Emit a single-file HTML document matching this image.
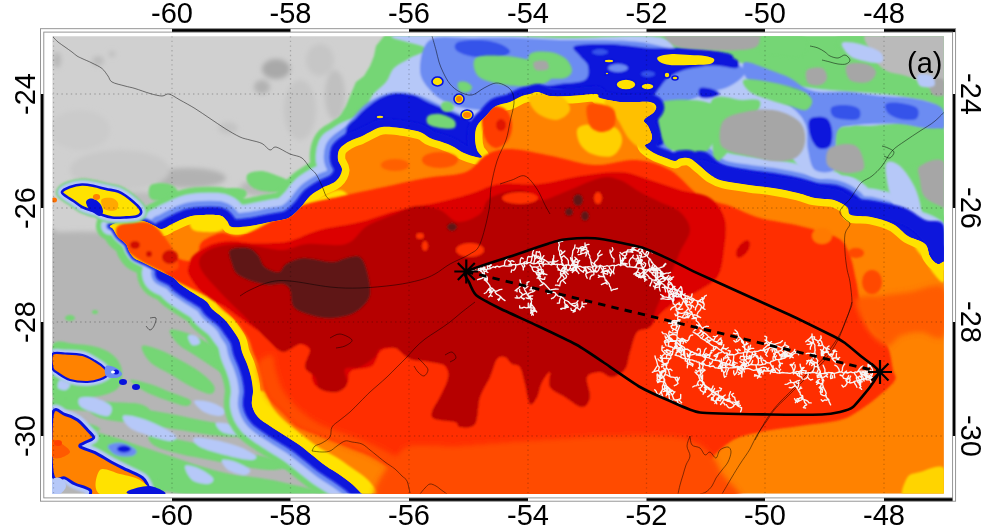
<!DOCTYPE html>
<html><head><meta charset="utf-8"><title>Map</title>
<style>
html,body{margin:0;padding:0;background:#fff;}
body{width:1000px;height:532px;overflow:hidden;}
svg{display:block;}
text{font-family:"Liberation Sans",Arial,Helvetica,sans-serif;font-size:29px;fill:#000;}
</style></head>
<body>
<svg width="1000" height="532" viewBox="0 0 1000 532">
<defs>
<clipPath id="mapclip"><rect x="52.5" y="36.3" width="891.3" height="457.2"/></clipPath>
<filter id="soft" filterUnits="userSpaceOnUse" x="0" y="0" width="1000" height="532"><feGaussianBlur stdDeviation="1.1"/></filter>
<filter id="soft2" filterUnits="userSpaceOnUse" x="0" y="0" width="1000" height="532"><feGaussianBlur stdDeviation="2.5"/></filter>
</defs>
<rect width="1000" height="532" fill="#fff"/>
<g clip-path="url(#mapclip)">
<rect x="40" y="30" width="920" height="470" fill="#d0d0d0"/>
<path d="M20.0,236.0 C26.7,188.0 46.7,232.7 60.0,232.0 C73.3,231.3 85.0,231.3 100.0,232.0 C115.0,232.7 133.3,233.0 150.0,236.0 C166.7,239.0 181.7,239.3 200.0,250.0 C218.3,260.7 243.3,271.7 260.0,300.0 C276.7,328.3 288.3,383.3 300.0,420.0 C311.7,456.7 376.7,503.3 330.0,520.0 C283.3,536.7 71.7,567.3 20.0,520.0 C-31.7,472.7 13.3,284.0 20.0,236.0 Z" fill="#b5b5b5" filter="url(#soft2)"/>
<g filter="url(#soft2)">
<ellipse cx="276" cy="69" rx="14" ry="10" fill="#a9a9a9" />
<ellipse cx="262" cy="87" rx="8" ry="7" fill="#b2b2b2" />
<ellipse cx="98" cy="61" rx="6" ry="5" fill="#bcbcbc" />
<ellipse cx="112" cy="54" rx="3" ry="3" fill="#bcbcbc" />
<ellipse cx="188" cy="178" rx="38" ry="10" fill="#b2b2b2" />
<ellipse cx="228" cy="128" rx="10" ry="6" fill="#c4c4c4" />
<ellipse cx="300" cy="110" rx="16" ry="30" fill="#c6c6c6" />
<ellipse cx="320" cy="60" rx="14" ry="16" fill="#c6c6c6" />
<ellipse cx="140" cy="200" rx="20" ry="8" fill="#bcbcbc" />
<ellipse cx="260" cy="188" rx="20" ry="8" fill="#b8b8b8" />
<ellipse cx="80" cy="130" rx="30" ry="20" fill="#cbcbcb" />
<ellipse cx="120" cy="170" rx="50" ry="20" fill="#c8c8c8" />
<ellipse cx="57" cy="60" rx="4" ry="8" fill="#b8b8b8" />
<ellipse cx="335" cy="95" rx="10" ry="25" fill="#c0c0c0" />
</g>
<g filter="url(#soft)">
<path d="M52.0,346.0 C55.8,337.3 67.0,343.7 75.0,344.0 C83.0,344.3 93.2,345.7 100.0,348.0 C106.8,350.3 112.3,354.0 116.0,358.0 C119.7,362.0 121.7,367.0 122.0,372.0 C122.3,377.0 121.7,384.0 118.0,388.0 C114.3,392.0 108.0,394.3 100.0,396.0 C92.0,397.7 78.0,398.0 70.0,398.0 C62.0,398.0 55.0,404.7 52.0,396.0 C49.0,387.3 48.2,354.7 52.0,346.0 Z" fill="#74d674" />
<path d="M52.0,400.0 C56.7,398.0 70.3,397.7 80.0,398.0 C89.7,398.3 100.0,401.0 110.0,402.0 C120.0,403.0 133.3,402.3 140.0,404.0 C146.7,405.7 151.7,410.3 150.0,412.0 C148.3,413.7 138.3,414.0 130.0,414.0 C121.7,414.0 110.0,412.7 100.0,412.0 C90.0,411.3 78.0,410.3 70.0,410.0 C62.0,409.7 55.0,411.7 52.0,410.0 C49.0,408.3 47.3,402.0 52.0,400.0 Z" fill="#74d674" />
<path d="M86.0,404.0 C89.3,402.0 107.7,404.7 120.0,406.0 C132.3,407.3 146.7,409.7 160.0,412.0 C173.3,414.3 186.7,417.3 200.0,420.0 C213.3,422.7 231.7,425.3 240.0,428.0 C248.3,430.7 253.3,434.7 250.0,436.0 C246.7,437.3 231.7,437.0 220.0,436.0 C208.3,435.0 193.3,432.0 180.0,430.0 C166.7,428.0 153.3,426.0 140.0,424.0 C126.7,422.0 109.0,421.3 100.0,418.0 C91.0,414.7 82.7,406.0 86.0,404.0 Z" fill="#74d674" />
<path d="M142.0,346.0 C143.7,344.0 153.7,347.7 160.0,350.0 C166.3,352.3 173.3,356.3 180.0,360.0 C186.7,363.7 194.3,367.7 200.0,372.0 C205.7,376.3 212.3,382.3 214.0,386.0 C215.7,389.7 214.0,394.0 210.0,394.0 C206.0,394.0 196.7,389.3 190.0,386.0 C183.3,382.7 176.7,378.0 170.0,374.0 C163.3,370.0 154.7,366.7 150.0,362.0 C145.3,357.3 140.3,348.0 142.0,346.0 Z" fill="#74d674" />
<path d="M170.0,330.0 C172.0,328.3 183.3,331.7 190.0,334.0 C196.7,336.3 203.7,340.3 210.0,344.0 C216.3,347.7 223.0,351.3 228.0,356.0 C233.0,360.7 239.3,368.3 240.0,372.0 C240.7,375.7 236.3,378.7 232.0,378.0 C227.7,377.3 220.0,371.7 214.0,368.0 C208.0,364.3 202.0,360.0 196.0,356.0 C190.0,352.0 182.3,348.3 178.0,344.0 C173.7,339.7 168.0,331.7 170.0,330.0 Z" fill="#74d674" />
<path d="M130.0,380.0 C130.7,378.7 143.3,382.0 150.0,384.0 C156.7,386.0 163.3,389.3 170.0,392.0 C176.7,394.7 187.3,397.7 190.0,400.0 C192.7,402.3 190.0,406.0 186.0,406.0 C182.0,406.0 172.7,402.3 166.0,400.0 C159.3,397.7 152.0,395.3 146.0,392.0 C140.0,388.7 129.3,381.3 130.0,380.0 Z" fill="#74d674" />
<path d="M80.0,430.0 C83.3,426.3 100.0,433.3 110.0,436.0 C120.0,438.7 130.0,442.7 140.0,446.0 C150.0,449.3 160.0,452.7 170.0,456.0 C180.0,459.3 190.0,463.0 200.0,466.0 C210.0,469.0 220.0,472.0 230.0,474.0 C240.0,476.0 250.0,476.3 260.0,478.0 C270.0,479.7 280.0,481.3 290.0,484.0 C300.0,486.7 328.3,491.3 320.0,494.0 C311.7,496.7 263.3,500.0 240.0,500.0 C216.7,500.0 196.7,497.0 180.0,494.0 C163.3,491.0 151.7,486.0 140.0,482.0 C128.3,478.0 118.3,474.0 110.0,470.0 C101.7,466.0 95.0,464.7 90.0,458.0 C85.0,451.3 76.7,433.7 80.0,430.0 Z" fill="#74d674" />
<path d="M150.0,436.0 C154.2,435.0 170.0,438.3 180.0,440.0 C190.0,441.7 200.0,444.0 210.0,446.0 C220.0,448.0 230.0,450.0 240.0,452.0 C250.0,454.0 261.7,455.7 270.0,458.0 C278.3,460.3 290.0,464.0 290.0,466.0 C290.0,468.0 278.3,470.0 270.0,470.0 C261.7,470.0 250.0,467.7 240.0,466.0 C230.0,464.3 220.0,462.0 210.0,460.0 C200.0,458.0 189.2,456.3 180.0,454.0 C170.8,451.7 160.0,449.0 155.0,446.0 C150.0,443.0 145.8,437.0 150.0,436.0 Z" fill="#74d674" />
<path d="M60.0,420.0 C64.7,419.3 83.3,422.3 90.0,424.0 C96.7,425.7 101.7,428.7 100.0,430.0 C98.3,431.3 86.3,432.3 80.0,432.0 C73.7,431.7 65.3,430.0 62.0,428.0 C58.7,426.0 55.3,420.7 60.0,420.0 Z" fill="#74d674" />
<path d="M120.0,470.0 C124.2,468.3 141.7,473.0 150.0,476.0 C158.3,479.0 170.0,485.0 170.0,488.0 C170.0,491.0 157.5,494.3 150.0,494.0 C142.5,493.7 130.0,490.0 125.0,486.0 C120.0,482.0 115.8,471.7 120.0,470.0 Z" fill="#74d674" />
<path d="M80.0,398.0 C82.5,396.7 89.8,396.7 95.0,398.0 C100.2,399.3 108.8,403.0 111.0,406.0 C113.2,409.0 111.2,415.0 108.0,416.0 C104.8,417.0 96.7,413.7 92.0,412.0 C87.3,410.3 82.0,408.3 80.0,406.0 C78.0,403.7 77.5,399.3 80.0,398.0 Z" fill="#b6c8f8" />
<path d="M123.0,416.0 C124.7,414.3 133.8,416.3 140.0,418.0 C146.2,419.7 154.0,423.0 160.0,426.0 C166.0,429.0 174.3,433.5 176.0,436.0 C177.7,438.5 174.3,441.0 170.0,441.0 C165.7,441.0 156.7,438.2 150.0,436.0 C143.3,433.8 134.5,431.3 130.0,428.0 C125.5,424.7 121.3,417.7 123.0,416.0 Z" fill="#b6c8f8" />
<path d="M194.0,401.0 C195.0,399.3 204.8,400.5 210.0,402.0 C215.2,403.5 223.3,407.7 225.0,410.0 C226.7,412.3 223.5,415.7 220.0,416.0 C216.5,416.3 208.3,414.5 204.0,412.0 C199.7,409.5 193.0,402.7 194.0,401.0 Z" fill="#b6c8f8" />
<path d="M216.0,423.0 C217.3,421.7 225.3,422.8 230.0,424.0 C234.7,425.2 242.7,428.2 244.0,430.0 C245.3,431.8 241.7,434.7 238.0,435.0 C234.3,435.3 225.7,434.0 222.0,432.0 C218.3,430.0 214.7,424.3 216.0,423.0 Z" fill="#b6c8f8" />
<path d="M194.0,438.0 C196.5,436.8 207.3,438.5 215.0,440.0 C222.7,441.5 233.2,444.3 240.0,447.0 C246.8,449.7 254.3,453.8 256.0,456.0 C257.7,458.2 255.2,460.2 250.0,460.0 C244.8,459.8 233.3,457.2 225.0,455.0 C216.7,452.8 205.2,449.8 200.0,447.0 C194.8,444.2 191.5,439.2 194.0,438.0 Z" fill="#b6c8f8" />
<path d="M222.0,460.0 C223.3,458.7 231.3,460.3 236.0,462.0 C240.7,463.7 248.7,467.8 250.0,470.0 C251.3,472.2 247.7,475.0 244.0,475.0 C240.3,475.0 231.7,472.5 228.0,470.0 C224.3,467.5 220.7,461.3 222.0,460.0 Z" fill="#b6c8f8" />
<path d="M185.0,466.0 C186.0,464.0 193.3,466.0 198.0,468.0 C202.7,470.0 211.3,475.3 213.0,478.0 C214.7,480.7 211.5,483.7 208.0,484.0 C204.5,484.3 195.8,483.0 192.0,480.0 C188.2,477.0 184.0,468.0 185.0,466.0 Z" fill="#b6c8f8" />
<path d="M188.0,336.0 C188.7,334.5 194.0,334.8 196.0,336.0 C198.0,337.2 200.7,341.5 200.0,343.0 C199.3,344.5 194.0,346.2 192.0,345.0 C190.0,343.8 187.3,337.5 188.0,336.0 Z" fill="#b6c8f8" />
<path d="M60.0,380.0 C62.0,379.3 69.0,382.3 70.0,384.0 C71.0,385.7 68.0,389.3 66.0,390.0 C64.0,390.7 59.0,389.7 58.0,388.0 C57.0,386.3 58.0,380.7 60.0,380.0 Z" fill="#b6c8f8" />
<path d="M108.0,446.0 C109.0,444.0 117.3,442.3 122.0,443.0 C126.7,443.7 134.3,447.8 136.0,450.0 C137.7,452.2 135.3,455.2 132.0,456.0 C128.7,456.8 120.0,456.7 116.0,455.0 C112.0,453.3 107.0,448.0 108.0,446.0 Z" fill="#6c8cf2" />
<ellipse cx="124" cy="449" rx="7" ry="3.5" fill="#0812dc" />
<ellipse cx="70" cy="318" rx="5" ry="3" fill="#74d674" />
<ellipse cx="95" cy="312" rx="3" ry="2" fill="#74d674" />
</g>
<path d="M384.0,20.0 L384.0,36.0 L376.0,46.0 L374.0,56.0 L370.0,66.0 L364.0,76.0 L356.0,82.0 L350.0,96.0 L346.0,106.0 L340.0,116.0 L334.0,126.0 L330.0,140.0 L322.0,158.0 L314.0,174.0 L305.0,186.0 L292.0,192.0 L280.0,196.0 L260.0,200.0 L240.0,204.0 L220.0,206.0 L200.0,206.0 L180.0,208.0 L160.0,210.0 L140.0,212.0 L120.0,214.0 L104.0,222.0 L114.0,230.0 L160.0,250.0 L300.0,260.0 L960.0,300.0 L960.0,240.0 L960.0,20.0 Z" fill="#74d674" filter="url(#soft)"/>
<g filter="url(#soft)">
<path d="M150.0,186.0 C151.7,183.5 156.3,183.2 160.0,183.0 C163.7,182.8 169.0,183.5 172.0,185.0 C175.0,186.5 177.3,189.5 178.0,192.0 C178.7,194.5 178.7,198.5 176.0,200.0 C173.3,201.5 166.3,201.3 162.0,201.0 C157.7,200.7 152.0,200.5 150.0,198.0 C148.0,195.5 148.3,188.5 150.0,186.0 Z" fill="#74d674" />
<path d="M184.0,194.0 C185.7,192.3 191.7,191.0 196.0,191.0 C200.3,191.0 207.3,192.3 210.0,194.0 C212.7,195.7 214.0,199.5 212.0,201.0 C210.0,202.5 202.3,203.0 198.0,203.0 C193.7,203.0 188.3,202.5 186.0,201.0 C183.7,199.5 182.3,195.7 184.0,194.0 Z" fill="#74d674" />
<path d="M248.0,174.0 C250.3,172.0 257.0,170.7 262.0,171.0 C267.0,171.3 273.3,174.2 278.0,176.0 C282.7,177.8 287.7,179.7 290.0,182.0 C292.3,184.3 294.5,188.3 292.0,190.0 C289.5,191.7 280.7,192.0 275.0,192.0 C269.3,192.0 262.5,191.5 258.0,190.0 C253.5,188.5 249.7,185.7 248.0,183.0 C246.3,180.3 245.7,176.0 248.0,174.0 Z" fill="#74d674" />
<path d="M226.0,190.0 C227.0,188.2 232.7,187.8 236.0,188.0 C239.3,188.2 244.7,189.3 246.0,191.0 C247.3,192.7 246.7,196.7 244.0,198.0 C241.3,199.3 233.0,200.3 230.0,199.0 C227.0,197.7 225.0,191.8 226.0,190.0 Z" fill="#74d674" />
</g>
<g filter="url(#soft)">
<path d="M110.0,226.0 C111.2,224.8 116.3,222.5 120.0,221.5 C123.7,220.5 127.8,220.0 132.0,220.0 C136.2,220.0 141.2,220.5 145.0,221.5 C148.8,222.5 152.2,224.8 155.0,226.0 C157.8,227.2 159.2,229.3 162.0,229.0" fill="none" stroke="#74d674" stroke-width="28" stroke-linejoin="round" stroke-linecap="round"/>
<path d="M162.0,229.0 C164.8,228.7 167.7,226.0 172.0,224.0 C176.3,222.0 183.0,218.5 188.0,217.0 C193.0,215.5 196.7,215.2 202.0,215.0 C207.3,214.8 215.8,214.5 220.0,215.5 C224.2,216.5 225.0,219.1 227.0,221.0 C229.0,222.9 228.2,226.2 232.0,227.0 C235.8,227.8 243.7,226.8 250.0,226.0 C256.3,225.2 264.0,223.2 270.0,222.0 C276.0,220.8 282.0,220.3 286.0,219.0 C290.0,217.7 291.3,216.2 294.0,214.0 C296.7,211.8 299.3,209.0 302.0,206.0 C304.7,203.0 306.7,199.0 310.0,196.0 C313.3,193.0 317.7,190.5 322.0,188.0 C326.3,185.5 332.7,184.0 336.0,181.0 C339.3,178.0 341.7,173.5 342.0,170.0 C342.3,166.5 338.5,163.3 338.0,160.0 C337.5,156.7 337.8,152.7 339.0,150.0" fill="none" stroke="#74d674" stroke-width="56" stroke-linejoin="round" stroke-linecap="round"/>
<path d="M339.0,150.0 C340.2,147.3 342.8,145.7 345.0,144.0 C347.2,142.3 349.5,141.2 352.0,140.0 C354.5,138.8 357.0,138.3 360.0,137.0 C363.0,135.7 366.3,133.7 370.0,132.0 C373.7,130.3 377.0,127.7 382.0,127.0 C387.0,126.3 393.7,127.2 400.0,128.0 C406.3,128.8 415.0,130.3 420.0,132.0 C425.0,133.7 426.3,136.3 430.0,138.0 C433.7,139.7 438.3,140.7 442.0,142.0 C445.7,143.3 448.3,144.2 452.0,146.0 C455.7,147.8 460.0,151.2 464.0,153.0 C468.0,154.8 473.0,156.3 476.0,157.0 C479.0,157.7 481.8,158.2 482.0,157.0 C482.2,155.8 478.2,153.2 477.0,150.0 C475.8,146.8 475.0,142.0 475.0,138.0 C475.0,134.0 475.2,129.7 477.0,126.0 C478.8,122.3 482.8,119.3 486.0,116.0 C489.2,112.7 492.0,108.3 496.0,106.0 C500.0,103.7 505.7,103.7 510.0,102.0 C514.3,100.3 518.7,97.3 522.0,96.0 C525.3,94.7 527.3,94.7 530.0,94.0 C532.7,93.3 534.7,91.7 538.0,92.0 C541.3,92.3 544.7,95.3 550.0,96.0 C555.3,96.7 562.3,96.3 570.0,96.0 C577.7,95.7 591.0,93.7 596.0,94.0 C601.0,94.3 596.0,96.7 600.0,98.0 C604.0,99.3 614.3,101.3 620.0,102.0 C625.7,102.7 629.0,102.0 634.0,102.0 C639.0,102.0 646.3,101.3 650.0,102.0 C653.7,102.7 655.3,104.3 656.0,106.0 C656.7,107.7 656.0,109.7 654.0,112.0 C652.0,114.3 645.0,117.7 644.0,120.0 C643.0,122.3 646.7,123.3 648.0,126.0 C649.3,128.7 651.7,133.3 652.0,136.0 C652.3,138.7 651.2,140.3 650.0,142.0 C648.8,143.7 644.2,144.1 645.0,146.0 C645.8,147.9 651.2,151.4 655.0,153.5 C658.8,155.6 664.2,157.2 667.5,158.5 C670.8,159.8 672.9,161.0 675.0,161.0 C677.1,161.0 677.5,158.9 680.0,158.5 C682.5,158.1 686.7,157.2 690.0,158.5 C693.3,159.8 696.3,163.1 700.0,166.0" fill="none" stroke="#74d674" stroke-width="52" stroke-linejoin="round" stroke-linecap="round"/>
<path d="M700.0,166.0 C703.7,168.9 708.0,173.5 712.0,176.0 C716.0,178.5 717.8,179.5 724.0,181.0 C730.2,182.5 740.8,183.8 749.0,185.0 C757.2,186.2 764.8,186.7 773.0,188.0 C781.2,189.3 791.0,191.3 798.0,193.0 C805.0,194.7 809.0,196.8 815.0,198.0 C821.0,199.2 828.7,198.5 834.0,200.0 C839.3,201.5 844.2,204.5 847.0,207.0 C849.8,209.5 847.0,213.3 851.0,215.0 C855.0,216.7 864.0,215.5 871.0,217.0 C878.0,218.5 886.8,220.8 893.0,224.0 C899.2,227.2 902.7,232.7 908.0,236.0 C913.3,239.3 921.3,240.6 925.0,244.0 C928.7,247.4 927.9,253.2 930.0,256.5 C932.1,259.8 934.2,262.9 937.5,264.0 C940.8,265.1 946.2,257.0 950.0,263.0" fill="none" stroke="#74d674" stroke-width="68" stroke-linejoin="round" stroke-linecap="round"/>
<path d="M372.0,505.0 C369.0,500.7 365.3,497.5 362.0,494.0 C358.7,490.5 355.7,487.2 352.0,484.0 C348.3,480.8 344.3,478.0 340.0,475.0 C335.7,472.0 330.7,469.3 326.0,466.0 C321.3,462.7 316.7,458.7 312.0,455.0 C307.3,451.3 302.7,447.3 298.0,444.0 C293.3,440.7 288.7,438.0 284.0,435.0 C279.3,432.0 274.3,429.0 270.0,426.0 C265.7,423.0 261.0,420.5 258.0,417.0 C255.0,413.5 252.8,409.3 252.0,405.0 C251.2,400.7 253.2,395.7 253.0,391.0 C252.8,386.3 252.0,381.5 251.0,377.0 C250.0,372.5 248.5,368.2 247.0,364.0 C245.5,359.8 243.3,356.0 242.0,352.0 C240.7,348.0 240.7,343.8 239.0,340.0 C237.3,336.2 234.5,332.5 232.0,329.0" fill="none" stroke="#74d674" stroke-width="56" stroke-linejoin="round" stroke-linecap="round"/>
<path d="M232.0,329.0 C229.5,325.5 227.3,322.3 224.0,319.0 C220.7,315.7 214.8,311.8 212.0,309.0 C209.2,306.2 209.3,304.2 207.0,302.0 C204.7,299.8 200.8,297.8 198.0,296.0 C195.2,294.2 193.0,293.0 190.0,291.0 C187.0,289.0 182.7,286.2 180.0,284.0 C177.3,281.8 176.7,279.8 174.0,278.0 C171.3,276.2 167.3,274.7 164.0,273.0" fill="none" stroke="#74d674" stroke-width="54" stroke-linejoin="round" stroke-linecap="round"/>
<path d="M164.0,273.0 C160.7,271.3 157.3,269.7 154.0,268.0 C150.7,266.3 147.3,264.7 144.0,263.0 C140.7,261.3 136.5,260.0 134.0,258.0 C131.5,256.0 130.3,253.3 129.0,251.0 C127.7,248.7 127.8,246.3 126.0,244.0 C124.2,241.7 120.2,239.5 118.0,237.0 C115.8,234.5 114.3,230.8 113.0,229.0 C111.7,227.2 108.8,227.2 110.0,226.0" fill="none" stroke="#74d674" stroke-width="24" stroke-linejoin="round" stroke-linecap="round"/>
<path d="M110.0,226.0 C111.2,224.8 116.3,222.5 120.0,221.5 C123.7,220.5 127.8,220.0 132.0,220.0 C136.2,220.0 141.2,220.5 145.0,221.5 C148.8,222.5 152.2,224.8 155.0,226.0 C157.8,227.2 159.2,229.3 162.0,229.0" fill="none" stroke="#b6c8f8" stroke-width="18" stroke-linejoin="round" stroke-linecap="round"/>
<path d="M162.0,229.0 C164.8,228.7 167.7,226.0 172.0,224.0 C176.3,222.0 183.0,218.5 188.0,217.0 C193.0,215.5 196.7,215.2 202.0,215.0 C207.3,214.8 215.8,214.5 220.0,215.5 C224.2,216.5 225.0,219.1 227.0,221.0 C229.0,222.9 228.2,226.2 232.0,227.0 C235.8,227.8 243.7,226.8 250.0,226.0 C256.3,225.2 264.0,223.2 270.0,222.0 C276.0,220.8 282.0,220.3 286.0,219.0 C290.0,217.7 291.3,216.2 294.0,214.0 C296.7,211.8 299.3,209.0 302.0,206.0 C304.7,203.0 306.7,199.0 310.0,196.0 C313.3,193.0 317.7,190.5 322.0,188.0 C326.3,185.5 332.7,184.0 336.0,181.0 C339.3,178.0 341.7,173.5 342.0,170.0 C342.3,166.5 338.5,163.3 338.0,160.0 C337.5,156.7 337.8,152.7 339.0,150.0" fill="none" stroke="#b6c8f8" stroke-width="44" stroke-linejoin="round" stroke-linecap="round"/>
<path d="M339.0,150.0 C340.2,147.3 342.8,145.7 345.0,144.0 C347.2,142.3 349.5,141.2 352.0,140.0 C354.5,138.8 357.0,138.3 360.0,137.0 C363.0,135.7 366.3,133.7 370.0,132.0 C373.7,130.3 377.0,127.7 382.0,127.0 C387.0,126.3 393.7,127.2 400.0,128.0 C406.3,128.8 415.0,130.3 420.0,132.0 C425.0,133.7 426.3,136.3 430.0,138.0 C433.7,139.7 438.3,140.7 442.0,142.0 C445.7,143.3 448.3,144.2 452.0,146.0 C455.7,147.8 460.0,151.2 464.0,153.0 C468.0,154.8 473.0,156.3 476.0,157.0 C479.0,157.7 481.8,158.2 482.0,157.0 C482.2,155.8 478.2,153.2 477.0,150.0 C475.8,146.8 475.0,142.0 475.0,138.0 C475.0,134.0 475.2,129.7 477.0,126.0 C478.8,122.3 482.8,119.3 486.0,116.0 C489.2,112.7 492.0,108.3 496.0,106.0 C500.0,103.7 505.7,103.7 510.0,102.0 C514.3,100.3 518.7,97.3 522.0,96.0 C525.3,94.7 527.3,94.7 530.0,94.0 C532.7,93.3 534.7,91.7 538.0,92.0 C541.3,92.3 544.7,95.3 550.0,96.0 C555.3,96.7 562.3,96.3 570.0,96.0 C577.7,95.7 591.0,93.7 596.0,94.0 C601.0,94.3 596.0,96.7 600.0,98.0 C604.0,99.3 614.3,101.3 620.0,102.0 C625.7,102.7 629.0,102.0 634.0,102.0 C639.0,102.0 646.3,101.3 650.0,102.0 C653.7,102.7 655.3,104.3 656.0,106.0 C656.7,107.7 656.0,109.7 654.0,112.0 C652.0,114.3 645.0,117.7 644.0,120.0 C643.0,122.3 646.7,123.3 648.0,126.0 C649.3,128.7 651.7,133.3 652.0,136.0 C652.3,138.7 651.2,140.3 650.0,142.0 C648.8,143.7 644.2,144.1 645.0,146.0 C645.8,147.9 651.2,151.4 655.0,153.5 C658.8,155.6 664.2,157.2 667.5,158.5 C670.8,159.8 672.9,161.0 675.0,161.0 C677.1,161.0 677.5,158.9 680.0,158.5 C682.5,158.1 686.7,157.2 690.0,158.5 C693.3,159.8 696.3,163.1 700.0,166.0" fill="none" stroke="#b6c8f8" stroke-width="40" stroke-linejoin="round" stroke-linecap="round"/>
<path d="M700.0,166.0 C703.7,168.9 708.0,173.5 712.0,176.0 C716.0,178.5 717.8,179.5 724.0,181.0 C730.2,182.5 740.8,183.8 749.0,185.0 C757.2,186.2 764.8,186.7 773.0,188.0 C781.2,189.3 791.0,191.3 798.0,193.0 C805.0,194.7 809.0,196.8 815.0,198.0 C821.0,199.2 828.7,198.5 834.0,200.0 C839.3,201.5 844.2,204.5 847.0,207.0 C849.8,209.5 847.0,213.3 851.0,215.0 C855.0,216.7 864.0,215.5 871.0,217.0 C878.0,218.5 886.8,220.8 893.0,224.0 C899.2,227.2 902.7,232.7 908.0,236.0 C913.3,239.3 921.3,240.6 925.0,244.0 C928.7,247.4 927.9,253.2 930.0,256.5 C932.1,259.8 934.2,262.9 937.5,264.0 C940.8,265.1 946.2,257.0 950.0,263.0" fill="none" stroke="#b6c8f8" stroke-width="56" stroke-linejoin="round" stroke-linecap="round"/>
<path d="M372.0,505.0 C369.0,500.7 365.3,497.5 362.0,494.0 C358.7,490.5 355.7,487.2 352.0,484.0 C348.3,480.8 344.3,478.0 340.0,475.0 C335.7,472.0 330.7,469.3 326.0,466.0 C321.3,462.7 316.7,458.7 312.0,455.0 C307.3,451.3 302.7,447.3 298.0,444.0 C293.3,440.7 288.7,438.0 284.0,435.0 C279.3,432.0 274.3,429.0 270.0,426.0 C265.7,423.0 261.0,420.5 258.0,417.0 C255.0,413.5 252.8,409.3 252.0,405.0 C251.2,400.7 253.2,395.7 253.0,391.0 C252.8,386.3 252.0,381.5 251.0,377.0 C250.0,372.5 248.5,368.2 247.0,364.0 C245.5,359.8 243.3,356.0 242.0,352.0 C240.7,348.0 240.7,343.8 239.0,340.0 C237.3,336.2 234.5,332.5 232.0,329.0" fill="none" stroke="#b6c8f8" stroke-width="44" stroke-linejoin="round" stroke-linecap="round"/>
<path d="M232.0,329.0 C229.5,325.5 227.3,322.3 224.0,319.0 C220.7,315.7 214.8,311.8 212.0,309.0 C209.2,306.2 209.3,304.2 207.0,302.0 C204.7,299.8 200.8,297.8 198.0,296.0 C195.2,294.2 193.0,293.0 190.0,291.0 C187.0,289.0 182.7,286.2 180.0,284.0 C177.3,281.8 176.7,279.8 174.0,278.0 C171.3,276.2 167.3,274.7 164.0,273.0" fill="none" stroke="#b6c8f8" stroke-width="44" stroke-linejoin="round" stroke-linecap="round"/>
<path d="M164.0,273.0 C160.7,271.3 157.3,269.7 154.0,268.0 C150.7,266.3 147.3,264.7 144.0,263.0 C140.7,261.3 136.5,260.0 134.0,258.0 C131.5,256.0 130.3,253.3 129.0,251.0 C127.7,248.7 127.8,246.3 126.0,244.0 C124.2,241.7 120.2,239.5 118.0,237.0 C115.8,234.5 114.3,230.8 113.0,229.0 C111.7,227.2 108.8,227.2 110.0,226.0" fill="none" stroke="#b6c8f8" stroke-width="8" stroke-linejoin="round" stroke-linecap="round"/>
<path d="M110.0,226.0 C111.2,224.8 116.3,222.5 120.0,221.5 C123.7,220.5 127.8,220.0 132.0,220.0 C136.2,220.0 141.2,220.5 145.0,221.5 C148.8,222.5 152.2,224.8 155.0,226.0 C157.8,227.2 159.2,229.3 162.0,229.0" fill="none" stroke="#6c8cf2" stroke-width="8" stroke-linejoin="round" stroke-linecap="round"/>
<path d="M162.0,229.0 C164.8,228.7 167.7,226.0 172.0,224.0 C176.3,222.0 183.0,218.5 188.0,217.0 C193.0,215.5 196.7,215.2 202.0,215.0 C207.3,214.8 215.8,214.5 220.0,215.5 C224.2,216.5 225.0,219.1 227.0,221.0 C229.0,222.9 228.2,226.2 232.0,227.0 C235.8,227.8 243.7,226.8 250.0,226.0 C256.3,225.2 264.0,223.2 270.0,222.0 C276.0,220.8 282.0,220.3 286.0,219.0 C290.0,217.7 291.3,216.2 294.0,214.0 C296.7,211.8 299.3,209.0 302.0,206.0 C304.7,203.0 306.7,199.0 310.0,196.0 C313.3,193.0 317.7,190.5 322.0,188.0 C326.3,185.5 332.7,184.0 336.0,181.0 C339.3,178.0 341.7,173.5 342.0,170.0 C342.3,166.5 338.5,163.3 338.0,160.0 C337.5,156.7 337.8,152.7 339.0,150.0" fill="none" stroke="#6c8cf2" stroke-width="28" stroke-linejoin="round" stroke-linecap="round"/>
<path d="M339.0,150.0 C340.2,147.3 342.8,145.7 345.0,144.0 C347.2,142.3 349.5,141.2 352.0,140.0 C354.5,138.8 357.0,138.3 360.0,137.0 C363.0,135.7 366.3,133.7 370.0,132.0 C373.7,130.3 377.0,127.7 382.0,127.0 C387.0,126.3 393.7,127.2 400.0,128.0 C406.3,128.8 415.0,130.3 420.0,132.0 C425.0,133.7 426.3,136.3 430.0,138.0 C433.7,139.7 438.3,140.7 442.0,142.0 C445.7,143.3 448.3,144.2 452.0,146.0 C455.7,147.8 460.0,151.2 464.0,153.0 C468.0,154.8 473.0,156.3 476.0,157.0 C479.0,157.7 481.8,158.2 482.0,157.0 C482.2,155.8 478.2,153.2 477.0,150.0 C475.8,146.8 475.0,142.0 475.0,138.0 C475.0,134.0 475.2,129.7 477.0,126.0 C478.8,122.3 482.8,119.3 486.0,116.0 C489.2,112.7 492.0,108.3 496.0,106.0 C500.0,103.7 505.7,103.7 510.0,102.0 C514.3,100.3 518.7,97.3 522.0,96.0 C525.3,94.7 527.3,94.7 530.0,94.0 C532.7,93.3 534.7,91.7 538.0,92.0 C541.3,92.3 544.7,95.3 550.0,96.0 C555.3,96.7 562.3,96.3 570.0,96.0 C577.7,95.7 591.0,93.7 596.0,94.0 C601.0,94.3 596.0,96.7 600.0,98.0 C604.0,99.3 614.3,101.3 620.0,102.0 C625.7,102.7 629.0,102.0 634.0,102.0 C639.0,102.0 646.3,101.3 650.0,102.0 C653.7,102.7 655.3,104.3 656.0,106.0 C656.7,107.7 656.0,109.7 654.0,112.0 C652.0,114.3 645.0,117.7 644.0,120.0 C643.0,122.3 646.7,123.3 648.0,126.0 C649.3,128.7 651.7,133.3 652.0,136.0 C652.3,138.7 651.2,140.3 650.0,142.0 C648.8,143.7 644.2,144.1 645.0,146.0 C645.8,147.9 651.2,151.4 655.0,153.5 C658.8,155.6 664.2,157.2 667.5,158.5 C670.8,159.8 672.9,161.0 675.0,161.0 C677.1,161.0 677.5,158.9 680.0,158.5 C682.5,158.1 686.7,157.2 690.0,158.5 C693.3,159.8 696.3,163.1 700.0,166.0" fill="none" stroke="#6c8cf2" stroke-width="28" stroke-linejoin="round" stroke-linecap="round"/>
<path d="M700.0,166.0 C703.7,168.9 708.0,173.5 712.0,176.0 C716.0,178.5 717.8,179.5 724.0,181.0 C730.2,182.5 740.8,183.8 749.0,185.0 C757.2,186.2 764.8,186.7 773.0,188.0 C781.2,189.3 791.0,191.3 798.0,193.0 C805.0,194.7 809.0,196.8 815.0,198.0 C821.0,199.2 828.7,198.5 834.0,200.0 C839.3,201.5 844.2,204.5 847.0,207.0 C849.8,209.5 847.0,213.3 851.0,215.0 C855.0,216.7 864.0,215.5 871.0,217.0 C878.0,218.5 886.8,220.8 893.0,224.0 C899.2,227.2 902.7,232.7 908.0,236.0 C913.3,239.3 921.3,240.6 925.0,244.0 C928.7,247.4 927.9,253.2 930.0,256.5 C932.1,259.8 934.2,262.9 937.5,264.0 C940.8,265.1 946.2,257.0 950.0,263.0" fill="none" stroke="#6c8cf2" stroke-width="40" stroke-linejoin="round" stroke-linecap="round"/>
<path d="M372.0,505.0 C369.0,500.7 365.3,497.5 362.0,494.0 C358.7,490.5 355.7,487.2 352.0,484.0 C348.3,480.8 344.3,478.0 340.0,475.0 C335.7,472.0 330.7,469.3 326.0,466.0 C321.3,462.7 316.7,458.7 312.0,455.0 C307.3,451.3 302.7,447.3 298.0,444.0 C293.3,440.7 288.7,438.0 284.0,435.0 C279.3,432.0 274.3,429.0 270.0,426.0 C265.7,423.0 261.0,420.5 258.0,417.0 C255.0,413.5 252.8,409.3 252.0,405.0 C251.2,400.7 253.2,395.7 253.0,391.0 C252.8,386.3 252.0,381.5 251.0,377.0 C250.0,372.5 248.5,368.2 247.0,364.0 C245.5,359.8 243.3,356.0 242.0,352.0 C240.7,348.0 240.7,343.8 239.0,340.0 C237.3,336.2 234.5,332.5 232.0,329.0" fill="none" stroke="#6c8cf2" stroke-width="28" stroke-linejoin="round" stroke-linecap="round"/>
<path d="M232.0,329.0 C229.5,325.5 227.3,322.3 224.0,319.0 C220.7,315.7 214.8,311.8 212.0,309.0 C209.2,306.2 209.3,304.2 207.0,302.0 C204.7,299.8 200.8,297.8 198.0,296.0 C195.2,294.2 193.0,293.0 190.0,291.0 C187.0,289.0 182.7,286.2 180.0,284.0 C177.3,281.8 176.7,279.8 174.0,278.0 C171.3,276.2 167.3,274.7 164.0,273.0" fill="none" stroke="#6c8cf2" stroke-width="26" stroke-linejoin="round" stroke-linecap="round"/>
<path d="M164.0,273.0 C160.7,271.3 157.3,269.7 154.0,268.0 C150.7,266.3 147.3,264.7 144.0,263.0 C140.7,261.3 136.5,260.0 134.0,258.0 C131.5,256.0 130.3,253.3 129.0,251.0 C127.7,248.7 127.8,246.3 126.0,244.0 C124.2,241.7 120.2,239.5 118.0,237.0 C115.8,234.5 114.3,230.8 113.0,229.0 C111.7,227.2 108.8,227.2 110.0,226.0" fill="none" stroke="#6c8cf2" stroke-width="5.0" stroke-linejoin="round" stroke-linecap="round"/>
</g>
<g filter="url(#soft)">
<path d="M392.0,36.0 C399.3,33.7 442.0,33.7 470.0,34.0 C498.0,34.3 531.7,37.7 560.0,38.0 C588.3,38.3 622.0,35.7 640.0,36.0 C658.0,36.3 661.3,37.3 668.0,40.0 C674.7,42.7 671.3,49.0 680.0,52.0 C688.7,55.0 709.2,56.0 720.0,58.0 C730.8,60.0 738.3,62.0 745.0,64.0 C751.7,66.0 754.2,67.3 760.0,70.0 C765.8,72.7 773.3,77.3 780.0,80.0 C786.7,82.7 791.7,84.3 800.0,86.0 C808.3,87.7 820.0,89.0 830.0,90.0 C840.0,91.0 848.3,91.0 860.0,92.0 C871.7,93.0 887.5,94.0 900.0,96.0 C912.5,98.0 927.7,100.3 935.0,104.0 C942.3,107.7 944.8,114.0 944.0,118.0 C943.2,122.0 937.3,127.0 930.0,128.0 C922.7,129.0 910.0,124.3 900.0,124.0 C890.0,123.7 878.3,125.3 870.0,126.0 C861.7,126.7 855.0,124.0 850.0,128.0 C845.0,132.0 842.7,142.7 840.0,150.0 C837.3,157.3 837.7,167.3 834.0,172.0 C830.3,176.7 823.7,178.7 818.0,178.0 C812.3,177.3 806.3,174.3 800.0,168.0 C793.7,161.7 786.7,148.0 780.0,140.0 C773.3,132.0 766.7,125.0 760.0,120.0 C753.3,115.0 748.0,112.7 740.0,110.0 C732.0,107.3 718.7,104.0 712.0,104.0 C705.3,104.0 702.0,102.3 700.0,110.0 C698.0,117.7 701.7,141.7 700.0,150.0 C698.3,158.3 696.7,158.3 690.0,160.0 C683.3,161.7 675.0,163.3 660.0,160.0 C645.0,156.7 623.3,146.7 600.0,140.0 C576.7,133.3 545.0,120.8 520.0,120.0 C495.0,119.2 470.0,134.2 450.0,135.0 C430.0,135.8 413.3,129.2 400.0,125.0 C386.7,120.8 374.7,114.8 370.0,110.0 C365.3,105.2 369.3,100.7 372.0,96.0 C374.7,91.3 382.3,86.7 386.0,82.0 C389.7,77.3 390.0,72.0 394.0,68.0 C398.0,64.0 404.7,61.3 410.0,58.0 C415.3,54.7 429.0,51.7 426.0,48.0 C423.0,44.3 384.7,38.3 392.0,36.0 Z" fill="#b6c8f8" />
<path d="M430.0,40.0 C438.3,34.7 455.0,38.3 470.0,38.0 C485.0,37.7 505.0,37.7 520.0,38.0 C535.0,38.3 546.7,39.7 560.0,40.0 C573.3,40.3 586.7,39.7 600.0,40.0 C613.3,40.3 628.3,40.7 640.0,42.0 C651.7,43.3 658.3,46.0 670.0,48.0 C681.7,50.0 700.0,52.0 710.0,54.0 C720.0,56.0 724.2,57.0 730.0,60.0 C735.8,63.0 745.0,67.7 745.0,72.0 C745.0,76.3 737.5,82.0 730.0,86.0 C722.5,90.0 708.3,92.0 700.0,96.0 C691.7,100.0 684.7,101.0 680.0,110.0 C675.3,119.0 677.0,143.3 672.0,150.0 C667.0,156.7 662.0,153.7 650.0,150.0 C638.0,146.3 618.3,134.7 600.0,128.0 C581.7,121.3 560.0,113.0 540.0,110.0 C520.0,107.0 495.0,111.0 480.0,110.0 C465.0,109.0 458.3,107.3 450.0,104.0 C441.7,100.7 435.0,95.7 430.0,90.0 C425.0,84.3 420.0,78.3 420.0,70.0 C420.0,61.7 421.7,45.3 430.0,40.0 Z" fill="#6c8cf2" />
<path d="M336.0,138.0 C335.3,135.7 342.7,130.0 346.0,126.0 C349.3,122.0 352.7,117.7 356.0,114.0 C359.3,110.3 362.0,107.0 366.0,104.0 C370.0,101.0 375.0,98.0 380.0,96.0 C385.0,94.0 390.3,92.3 396.0,92.0 C401.7,91.7 408.3,92.7 414.0,94.0 C419.7,95.3 424.7,97.7 430.0,100.0 C435.3,102.3 441.0,105.7 446.0,108.0 C451.0,110.3 455.3,111.3 460.0,114.0 C464.7,116.7 471.3,119.7 474.0,124.0 C476.7,128.3 478.3,137.3 476.0,140.0 C473.7,142.7 467.7,141.0 460.0,140.0 C452.3,139.0 440.0,136.3 430.0,134.0 C420.0,131.7 410.0,126.7 400.0,126.0 C390.0,125.3 378.3,127.7 370.0,130.0 C361.7,132.3 355.7,138.7 350.0,140.0 C344.3,141.3 336.7,140.3 336.0,138.0 Z" fill="#6c8cf2" />
<path d="M575.0,46.0 C580.0,44.0 597.5,43.7 610.0,44.0 C622.5,44.3 636.7,47.3 650.0,48.0 C663.3,48.7 676.7,47.0 690.0,48.0 C703.3,49.0 723.7,51.7 730.0,54.0 C736.3,56.3 732.2,60.0 728.0,62.0 C723.8,64.0 712.3,64.7 705.0,66.0 C697.7,67.3 690.2,68.0 684.0,70.0 C677.8,72.0 672.3,74.7 668.0,78.0 C663.7,81.3 660.7,86.7 658.0,90.0 C655.3,93.3 655.0,96.3 652.0,98.0 C649.0,99.7 645.3,100.0 640.0,100.0 C634.7,100.0 626.7,98.8 620.0,98.0 C613.3,97.2 606.7,95.7 600.0,95.0 C593.3,94.3 586.7,94.8 580.0,94.0 C573.3,93.2 566.7,91.0 560.0,90.0 C553.3,89.0 540.0,89.0 540.0,88.0 C540.0,87.0 552.5,85.3 560.0,84.0 C567.5,82.7 580.3,83.0 585.0,80.0 C589.7,77.0 588.8,70.0 588.0,66.0 C587.2,62.0 582.2,59.3 580.0,56.0 C577.8,52.7 570.0,48.0 575.0,46.0 Z" fill="#0812dc" />
<path d="M642.0,98.0 C644.3,96.3 654.7,96.3 658.0,100.0 C661.3,103.7 660.7,113.3 662.0,120.0 C663.3,126.7 667.0,135.7 666.0,140.0 C665.0,144.3 659.0,148.3 656.0,146.0 C653.0,143.7 650.0,132.0 648.0,126.0 C646.0,120.0 645.0,114.7 644.0,110.0 C643.0,105.3 639.7,99.7 642.0,98.0 Z" fill="#0812dc" />
<ellipse cx="618" cy="68" rx="10" ry="4" fill="#6c8cf2" />
<ellipse cx="648" cy="74" rx="7" ry="3" fill="#3452ea" />
<ellipse cx="600" cy="52" rx="8" ry="3" fill="#3452ea" />
<path d="M458.0,42.0 C462.0,40.3 473.0,39.7 480.0,40.0 C487.0,40.3 495.0,42.0 500.0,44.0 C505.0,46.0 510.8,49.7 510.0,52.0 C509.2,54.3 501.7,57.3 495.0,58.0 C488.3,58.7 476.5,57.3 470.0,56.0 C463.5,54.7 458.0,52.3 456.0,50.0 C454.0,47.7 454.0,43.7 458.0,42.0 Z" fill="#3452ea" />
<path d="M346.0,130.0 C347.0,123.8 352.7,121.7 356.0,118.0 C359.3,114.3 362.0,111.3 366.0,108.0 C370.0,104.7 375.0,100.5 380.0,98.0 C385.0,95.5 390.3,93.5 396.0,93.0 C401.7,92.5 409.0,93.7 414.0,95.0 C419.0,96.3 421.3,98.8 426.0,101.0 C430.7,103.2 437.0,105.8 442.0,108.0 C447.0,110.2 451.3,112.0 456.0,114.0 C460.7,116.0 466.3,117.3 470.0,120.0 C473.7,122.7 476.7,125.0 478.0,130.0 C479.3,135.0 477.3,144.2 478.0,150.0 C478.7,155.8 488.3,163.3 482.0,165.0 C475.7,166.7 453.7,162.5 440.0,160.0 C426.3,157.5 411.7,151.7 400.0,150.0 C388.3,148.3 378.3,149.2 370.0,150.0 C361.7,150.8 354.0,158.3 350.0,155.0 C346.0,151.7 345.0,136.2 346.0,130.0 Z" fill="#0812dc" />
<path d="M700.0,51.0 C703.3,49.3 713.8,52.5 720.0,54.0 C726.2,55.5 734.2,57.7 737.0,60.0 C739.8,62.3 739.8,67.0 737.0,68.0 C734.2,69.0 726.2,66.7 720.0,66.0 C713.8,65.3 703.3,66.5 700.0,64.0 C696.7,61.5 696.7,52.7 700.0,51.0 Z" fill="#0812dc" />
<path d="M700.0,88.0 C702.0,86.7 708.7,88.0 712.0,89.0 C715.3,90.0 720.3,92.5 720.0,94.0 C719.7,95.5 713.3,97.5 710.0,98.0 C706.7,98.5 701.7,98.7 700.0,97.0 C698.3,95.3 698.0,89.3 700.0,88.0 Z" fill="#0812dc" />
<path d="M745.0,62.0 C749.2,61.0 762.5,67.3 770.0,70.0 C777.5,72.7 784.2,75.0 790.0,78.0 C795.8,81.0 800.0,85.7 805.0,88.0 C810.0,90.3 812.5,91.3 820.0,92.0 C827.5,92.7 840.0,91.3 850.0,92.0 C860.0,92.7 870.0,95.0 880.0,96.0 C890.0,97.0 900.8,96.7 910.0,98.0 C919.2,99.3 929.3,101.7 935.0,104.0 C940.7,106.3 942.5,108.0 944.0,112.0 C945.5,116.0 947.2,125.3 944.0,128.0 C940.8,130.7 932.3,128.7 925.0,128.0 C917.7,127.3 909.2,124.7 900.0,124.0 C890.8,123.3 878.3,123.7 870.0,124.0 C861.7,124.3 855.0,125.0 850.0,126.0 C845.0,127.0 842.3,126.0 840.0,130.0 C837.7,134.0 837.0,143.3 836.0,150.0 C835.0,156.7 837.5,166.7 834.0,170.0 C830.5,173.3 819.3,173.3 815.0,170.0 C810.7,166.7 809.5,157.3 808.0,150.0 C806.5,142.7 808.2,132.7 806.0,126.0 C803.8,119.3 800.2,115.0 795.0,110.0 C789.8,105.0 781.7,100.0 775.0,96.0 C768.3,92.0 760.0,89.3 755.0,86.0 C750.0,82.7 746.7,80.0 745.0,76.0 C743.3,72.0 740.8,63.0 745.0,62.0 Z" fill="#6c8cf2" />
<path d="M810.0,119.0 C812.7,116.2 822.3,116.2 826.0,118.0 C829.7,119.8 831.3,125.3 832.0,130.0 C832.7,134.7 832.3,143.0 830.0,146.0 C827.7,149.0 821.3,149.8 818.0,148.0 C814.7,146.2 811.3,139.8 810.0,135.0 C808.7,130.2 807.3,121.8 810.0,119.0 Z" fill="#0812dc" />
<path d="M832.0,107.0 C834.3,105.3 841.5,104.7 846.0,105.0 C850.5,105.3 857.0,106.7 859.0,109.0 C861.0,111.3 861.2,117.3 858.0,119.0 C854.8,120.7 844.3,119.7 840.0,119.0 C835.7,118.3 833.3,117.0 832.0,115.0 C830.7,113.0 829.7,108.7 832.0,107.0 Z" fill="#3452ea" />
<path d="M886.0,104.0 C888.0,102.3 894.8,102.3 900.0,103.0 C905.2,103.7 914.3,105.3 917.0,108.0 C919.7,110.7 918.8,117.2 916.0,119.0 C913.2,120.8 904.7,120.0 900.0,119.0 C895.3,118.0 890.3,115.5 888.0,113.0 C885.7,110.5 884.0,105.7 886.0,104.0 Z" fill="#3452ea" />
<path d="M780.0,88.0 C782.0,86.2 794.7,88.0 798.0,90.0 C801.3,92.0 802.0,98.2 800.0,100.0 C798.0,101.8 789.3,103.0 786.0,101.0 C782.7,99.0 778.0,89.8 780.0,88.0 Z" fill="#3452ea" />
</g>
<g filter="url(#soft)">
<path d="M476.0,58.0 C480.5,54.7 496.0,55.7 505.0,56.0 C514.0,56.3 522.8,58.3 530.0,60.0 C537.2,61.7 544.7,62.7 548.0,66.0 C551.3,69.3 553.0,76.7 550.0,80.0 C547.0,83.3 538.3,85.3 530.0,86.0 C521.7,86.7 508.7,85.7 500.0,84.0 C491.3,82.3 482.0,80.3 478.0,76.0 C474.0,71.7 471.5,61.3 476.0,58.0 Z" fill="#74d674" />
<path d="M530.0,54.0 C533.3,50.7 544.2,51.3 550.0,52.0 C555.8,52.7 561.3,55.0 565.0,58.0 C568.7,61.0 572.0,66.7 572.0,70.0 C572.0,73.3 569.5,76.7 565.0,78.0 C560.5,79.3 550.8,79.0 545.0,78.0 C539.2,77.0 532.5,76.0 530.0,72.0 C527.5,68.0 526.7,57.3 530.0,54.0 Z" fill="#74d674" />
<path d="M428.0,116.0 C430.0,114.3 435.7,113.3 440.0,114.0 C444.3,114.7 451.7,117.7 454.0,120.0 C456.3,122.3 456.3,126.7 454.0,128.0 C451.7,129.3 444.3,128.7 440.0,128.0 C435.7,127.3 430.0,126.0 428.0,124.0 C426.0,122.0 426.0,117.7 428.0,116.0 Z" fill="#74d674" />
<path d="M442.0,103.0 C443.3,101.7 448.0,101.2 450.0,102.0 C452.0,102.8 454.3,106.3 454.0,108.0 C453.7,109.7 450.0,111.7 448.0,112.0 C446.0,112.3 443.0,111.5 442.0,110.0 C441.0,108.5 440.7,104.3 442.0,103.0 Z" fill="#74d674" />
<path d="M458.0,83.0 C459.0,81.5 463.7,81.3 466.0,82.0 C468.3,82.7 471.7,85.3 472.0,87.0 C472.3,88.7 470.0,91.3 468.0,92.0 C466.0,92.7 461.7,92.5 460.0,91.0 C458.3,89.5 457.0,84.5 458.0,83.0 Z" fill="#74d674" />
<path d="M660.0,104.0 C665.0,99.0 681.3,99.7 690.0,100.0 C698.7,100.3 707.7,101.0 712.0,106.0 C716.3,111.0 716.7,122.7 716.0,130.0 C715.3,137.3 712.3,146.0 708.0,150.0 C703.7,154.0 696.7,154.3 690.0,154.0 C683.3,153.7 673.0,152.0 668.0,148.0 C663.0,144.0 661.3,137.3 660.0,130.0 C658.7,122.7 655.0,109.0 660.0,104.0 Z" fill="#74d674" />
<path d="M744.0,80.0 C747.3,78.3 760.7,80.3 770.0,82.0 C779.3,83.7 793.0,87.0 800.0,90.0 C807.0,93.0 811.0,96.7 812.0,100.0 C813.0,103.3 809.7,109.0 806.0,110.0 C802.3,111.0 796.0,107.7 790.0,106.0 C784.0,104.3 776.7,102.3 770.0,100.0 C763.3,97.7 754.3,95.3 750.0,92.0 C745.7,88.7 740.7,81.7 744.0,80.0 Z" fill="#74d674" />
<path d="M754.0,36.0 C761.2,33.3 794.8,32.7 803.0,36.0 C811.2,39.3 806.8,52.7 803.0,56.0 C799.2,59.3 787.2,56.7 780.0,56.0 C772.8,55.3 764.3,55.3 760.0,52.0 C755.7,48.7 746.8,38.7 754.0,36.0 Z" fill="#74d674" />
<path d="M838.0,36.0 C843.3,33.7 864.3,32.7 870.0,36.0 C875.7,39.3 875.3,52.3 872.0,56.0 C868.7,59.7 855.7,59.0 850.0,58.0 C844.3,57.0 840.0,53.7 838.0,50.0 C836.0,46.3 832.7,38.3 838.0,36.0 Z" fill="#74d674" />
<path d="M840.0,128.0 C845.7,124.3 860.0,128.3 870.0,128.0 C880.0,127.7 890.8,125.7 900.0,126.0 C909.2,126.3 917.7,129.0 925.0,130.0 C932.3,131.0 940.8,125.3 944.0,132.0 C947.2,138.7 948.0,164.5 944.0,170.0 C940.0,175.5 927.3,165.0 920.0,165.0 C912.7,165.0 905.7,170.0 900.0,170.0 C894.3,170.0 891.0,164.0 886.0,165.0 C881.0,166.0 876.0,174.2 870.0,176.0 C864.0,177.8 855.3,176.7 850.0,176.0 C844.7,175.3 840.3,176.3 838.0,172.0 C835.7,167.7 835.7,157.3 836.0,150.0 C836.3,142.7 834.3,131.7 840.0,128.0 Z" fill="#74d674" />
<path d="M712.0,100.0 C716.7,93.3 732.0,99.0 740.0,100.0 C748.0,101.0 763.3,96.0 760.0,106.0 C756.7,116.0 728.0,154.3 720.0,160.0 C712.0,165.7 713.3,150.0 712.0,140.0 C710.7,130.0 707.3,106.7 712.0,100.0 Z" fill="#74d674" />
<path d="M940.0,232.0 C940.0,230.7 943.3,230.7 944.0,232.0 C944.7,233.3 944.7,240.0 944.0,240.0 C943.3,240.0 940.0,233.3 940.0,232.0 Z" fill="#74d674" />
</g>
<g filter="url(#soft)">
<path d="M670.0,30.0 C683.2,27.3 740.0,27.3 754.0,30.0 C768.0,32.7 756.3,42.7 754.0,46.0 C751.7,49.3 747.3,49.3 740.0,50.0 C732.7,50.7 720.8,50.7 710.0,50.0 C699.2,49.3 681.7,49.3 675.0,46.0 C668.3,42.7 656.8,32.7 670.0,30.0 Z" fill="#a6a6a6" />
<path d="M871.0,30.0 C885.7,26.0 945.2,19.7 960.0,30.0 C974.8,40.3 964.2,81.7 960.0,92.0 C955.8,102.3 940.8,93.3 935.0,92.0 C929.2,90.7 929.8,86.7 925.0,84.0 C920.2,81.3 912.7,78.3 906.0,76.0 C899.3,73.7 890.7,73.7 885.0,70.0 C879.3,66.3 874.3,60.7 872.0,54.0 C869.7,47.3 856.3,34.0 871.0,30.0 Z" fill="#bababa" />
<path d="M724.0,120.0 C728.8,114.8 740.8,112.7 749.0,111.0 C757.2,109.3 765.7,109.0 773.0,110.0 C780.3,111.0 788.0,114.2 793.0,117.0 C798.0,119.8 801.0,122.8 803.0,127.0 C805.0,131.2 805.5,137.5 805.0,142.0 C804.5,146.5 802.5,151.0 800.0,154.0 C797.5,157.0 794.5,158.8 790.0,160.0 C785.5,161.2 779.8,161.7 773.0,161.0 C766.2,160.3 756.3,157.7 749.0,156.0 C741.7,154.3 733.8,153.3 729.0,151.0 C724.2,148.7 720.8,147.2 720.0,142.0 C719.2,136.8 719.2,125.2 724.0,120.0 Z" fill="#a6a6a6" />
<path d="M829.0,149.0 C832.3,145.7 842.0,144.0 847.0,144.0 C852.0,144.0 856.2,145.0 859.0,149.0 C861.8,153.0 865.3,164.0 864.0,168.0 C862.7,172.0 855.5,172.5 851.0,173.0 C846.5,173.5 841.0,172.5 837.0,171.0 C833.0,169.5 828.3,167.7 827.0,164.0 C825.7,160.3 825.7,152.3 829.0,149.0 Z" fill="#a6a6a6" />
<path d="M920.0,166.0 C924.0,163.0 939.0,155.5 944.0,162.0 C949.0,168.5 951.0,197.8 950.0,205.0 C949.0,212.2 942.3,206.5 938.0,205.0 C933.7,203.5 927.0,200.2 924.0,196.0 C921.0,191.8 920.7,185.0 920.0,180.0 C919.3,175.0 916.0,169.0 920.0,166.0 Z" fill="#a6a6a6" />
<path d="M807.0,70.0 C809.3,67.5 818.7,66.7 822.0,68.0 C825.3,69.3 827.3,75.2 827.0,78.0 C826.7,80.8 823.2,84.2 820.0,85.0 C816.8,85.8 810.2,85.5 808.0,83.0 C805.8,80.5 804.7,72.5 807.0,70.0 Z" fill="#a6a6a6" />
<path d="M847.0,65.0 C849.7,62.3 861.2,62.8 866.0,64.0 C870.8,65.2 875.7,69.0 876.0,72.0 C876.3,75.0 872.3,80.7 868.0,82.0 C863.7,83.3 853.5,82.8 850.0,80.0 C846.5,77.2 844.3,67.7 847.0,65.0 Z" fill="#a6a6a6" />
<path d="M534.0,62.0 C535.7,60.5 543.7,59.8 546.0,61.0 C548.3,62.2 549.7,67.5 548.0,69.0 C546.3,70.5 538.3,71.2 536.0,70.0 C533.7,68.8 532.3,63.5 534.0,62.0 Z" fill="#a6a6a6" />
<path d="M930.0,80.0 C932.0,77.7 941.7,77.5 944.0,80.0 C946.3,82.5 946.0,92.7 944.0,95.0 C942.0,97.3 934.3,96.5 932.0,94.0 C929.7,91.5 928.0,82.3 930.0,80.0 Z" fill="#a6a6a6" />
<path d="M700.0,36.0 C709.0,34.3 745.0,34.0 754.0,36.0 C763.0,38.0 759.7,45.7 754.0,48.0 C748.3,50.3 729.0,50.3 720.0,50.0 C711.0,49.7 703.3,48.3 700.0,46.0 C696.7,43.7 691.0,37.7 700.0,36.0 Z" fill="#a6a6a6" />
</g>
<g filter="url(#soft)">
<path d="M842.0,43.0 C843.7,41.0 853.7,42.5 860.0,44.0 C866.3,45.5 876.3,49.0 880.0,52.0 C883.7,55.0 884.0,60.3 882.0,62.0 C880.0,63.7 873.3,63.0 868.0,62.0 C862.7,61.0 854.3,59.2 850.0,56.0 C845.7,52.8 840.3,45.0 842.0,43.0 Z" fill="#b6c8f8" />
<path d="M918.0,75.0 C920.0,73.3 929.3,74.2 932.0,76.0 C934.7,77.8 936.0,84.3 934.0,86.0 C932.0,87.7 922.7,87.8 920.0,86.0 C917.3,84.2 916.0,76.7 918.0,75.0 Z" fill="#b6c8f8" />
<path d="M886.0,164.0 C887.7,159.2 895.0,161.7 900.0,166.0 C905.0,170.3 912.7,181.8 916.0,190.0 C919.3,198.2 922.7,210.7 920.0,215.0 C917.3,219.3 905.0,219.3 900.0,216.0 C895.0,212.7 892.3,203.7 890.0,195.0 C887.7,186.3 884.3,168.8 886.0,164.0 Z" fill="#b6c8f8" />
</g>
<ellipse cx="437.5" cy="81.5" rx="5.5" ry="4.5" fill="#ffe200" stroke="#0812dc" stroke-width="1.6"/>
<ellipse cx="459.0" cy="99.0" rx="5.0" ry="5.0" fill="#ffe200" stroke="#0812dc" stroke-width="1.6"/>
<ellipse cx="467.0" cy="115.0" rx="6.0" ry="5.0" fill="#ffe200" stroke="#0812dc" stroke-width="1.6"/>
<ellipse cx="380.0" cy="117.0" rx="4.0" ry="2.0" fill="#ffe200" stroke="#0812dc" stroke-width="1.6"/>
<ellipse cx="609.0" cy="61.0" rx="5.0" ry="2.0" fill="#ffe200" stroke="#0812dc" stroke-width="1.6"/>
<ellipse cx="626.0" cy="84.5" rx="10.0" ry="5.5" fill="#ffe200" stroke="#0812dc" stroke-width="1.6"/>
<ellipse cx="647.5" cy="86.5" rx="6.5" ry="3.5" fill="#ffe200" stroke="#0812dc" stroke-width="1.6"/>
<ellipse cx="667.0" cy="75.0" rx="3.0" ry="3.0" fill="#ffe200" stroke="#0812dc" stroke-width="1.6"/>
<ellipse cx="675.0" cy="78.0" rx="3.0" ry="2.0" fill="#ffe200" stroke="#0812dc" stroke-width="1.6"/>
<ellipse cx="607.0" cy="73.5" rx="2.0" ry="1.5" fill="#ffe200" stroke="#0812dc" stroke-width="1.6"/>
<path d="M658.0,57.0 C660.0,55.7 666.7,54.3 672.0,54.0 C677.3,53.7 684.5,54.7 690.0,55.0 C695.5,55.3 701.0,55.3 705.0,56.0 C709.0,56.7 713.2,57.7 714.0,59.0 C714.8,60.3 714.0,63.0 710.0,64.0 C706.0,65.0 696.7,64.8 690.0,65.0 C683.3,65.2 675.0,65.5 670.0,65.0 C665.0,64.5 662.0,63.3 660.0,62.0 C658.0,60.7 656.0,58.3 658.0,57.0 Z" fill="#ffe200" />
<ellipse cx="459" cy="99" rx="3" ry="3" fill="#ff8200" />
<ellipse cx="467" cy="115" rx="4" ry="3" fill="#ff8200" />
<g filter="url(#soft)">
<path d="M110.0,226.0 C111.2,224.8 116.3,222.5 120.0,221.5 C123.7,220.5 127.8,220.0 132.0,220.0 C136.2,220.0 141.2,220.5 145.0,221.5 C148.8,222.5 152.2,224.8 155.0,226.0 C157.8,227.2 159.2,229.3 162.0,229.0" fill="none" stroke="#0812dc" stroke-width="4" stroke-linejoin="round" stroke-linecap="round"/>
<path d="M162.0,229.0 C164.8,228.7 167.7,226.0 172.0,224.0 C176.3,222.0 183.0,218.5 188.0,217.0 C193.0,215.5 196.7,215.2 202.0,215.0 C207.3,214.8 215.8,214.5 220.0,215.5 C224.2,216.5 225.0,219.1 227.0,221.0 C229.0,222.9 228.2,226.2 232.0,227.0 C235.8,227.8 243.7,226.8 250.0,226.0 C256.3,225.2 264.0,223.2 270.0,222.0 C276.0,220.8 282.0,220.3 286.0,219.0 C290.0,217.7 291.3,216.2 294.0,214.0 C296.7,211.8 299.3,209.0 302.0,206.0 C304.7,203.0 306.7,199.0 310.0,196.0 C313.3,193.0 317.7,190.5 322.0,188.0 C326.3,185.5 332.7,184.0 336.0,181.0 C339.3,178.0 341.7,173.5 342.0,170.0 C342.3,166.5 338.5,163.3 338.0,160.0 C337.5,156.7 337.8,152.7 339.0,150.0" fill="none" stroke="#0812dc" stroke-width="16" stroke-linejoin="round" stroke-linecap="round"/>
<path d="M339.0,150.0 C340.2,147.3 342.8,145.7 345.0,144.0 C347.2,142.3 349.5,141.2 352.0,140.0 C354.5,138.8 357.0,138.3 360.0,137.0 C363.0,135.7 366.3,133.7 370.0,132.0 C373.7,130.3 377.0,127.7 382.0,127.0 C387.0,126.3 393.7,127.2 400.0,128.0 C406.3,128.8 415.0,130.3 420.0,132.0 C425.0,133.7 426.3,136.3 430.0,138.0 C433.7,139.7 438.3,140.7 442.0,142.0 C445.7,143.3 448.3,144.2 452.0,146.0 C455.7,147.8 460.0,151.2 464.0,153.0 C468.0,154.8 473.0,156.3 476.0,157.0 C479.0,157.7 481.8,158.2 482.0,157.0 C482.2,155.8 478.2,153.2 477.0,150.0 C475.8,146.8 475.0,142.0 475.0,138.0 C475.0,134.0 475.2,129.7 477.0,126.0 C478.8,122.3 482.8,119.3 486.0,116.0 C489.2,112.7 492.0,108.3 496.0,106.0 C500.0,103.7 505.7,103.7 510.0,102.0 C514.3,100.3 518.7,97.3 522.0,96.0 C525.3,94.7 527.3,94.7 530.0,94.0 C532.7,93.3 534.7,91.7 538.0,92.0 C541.3,92.3 544.7,95.3 550.0,96.0 C555.3,96.7 562.3,96.3 570.0,96.0 C577.7,95.7 591.0,93.7 596.0,94.0 C601.0,94.3 596.0,96.7 600.0,98.0 C604.0,99.3 614.3,101.3 620.0,102.0 C625.7,102.7 629.0,102.0 634.0,102.0 C639.0,102.0 646.3,101.3 650.0,102.0 C653.7,102.7 655.3,104.3 656.0,106.0 C656.7,107.7 656.0,109.7 654.0,112.0 C652.0,114.3 645.0,117.7 644.0,120.0 C643.0,122.3 646.7,123.3 648.0,126.0 C649.3,128.7 651.7,133.3 652.0,136.0 C652.3,138.7 651.2,140.3 650.0,142.0 C648.8,143.7 644.2,144.1 645.0,146.0 C645.8,147.9 651.2,151.4 655.0,153.5 C658.8,155.6 664.2,157.2 667.5,158.5 C670.8,159.8 672.9,161.0 675.0,161.0 C677.1,161.0 677.5,158.9 680.0,158.5 C682.5,158.1 686.7,157.2 690.0,158.5 C693.3,159.8 696.3,163.1 700.0,166.0" fill="none" stroke="#0812dc" stroke-width="16" stroke-linejoin="round" stroke-linecap="round"/>
<path d="M700.0,166.0 C703.7,168.9 708.0,173.5 712.0,176.0 C716.0,178.5 717.8,179.5 724.0,181.0 C730.2,182.5 740.8,183.8 749.0,185.0 C757.2,186.2 764.8,186.7 773.0,188.0 C781.2,189.3 791.0,191.3 798.0,193.0 C805.0,194.7 809.0,196.8 815.0,198.0 C821.0,199.2 828.7,198.5 834.0,200.0 C839.3,201.5 844.2,204.5 847.0,207.0 C849.8,209.5 847.0,213.3 851.0,215.0 C855.0,216.7 864.0,215.5 871.0,217.0 C878.0,218.5 886.8,220.8 893.0,224.0 C899.2,227.2 902.7,232.7 908.0,236.0 C913.3,239.3 921.3,240.6 925.0,244.0 C928.7,247.4 927.9,253.2 930.0,256.5 C932.1,259.8 934.2,262.9 937.5,264.0 C940.8,265.1 946.2,257.0 950.0,263.0" fill="none" stroke="#0812dc" stroke-width="30" stroke-linejoin="round" stroke-linecap="round"/>
<path d="M372.0,505.0 C369.0,500.7 365.3,497.5 362.0,494.0 C358.7,490.5 355.7,487.2 352.0,484.0 C348.3,480.8 344.3,478.0 340.0,475.0 C335.7,472.0 330.7,469.3 326.0,466.0 C321.3,462.7 316.7,458.7 312.0,455.0 C307.3,451.3 302.7,447.3 298.0,444.0 C293.3,440.7 288.7,438.0 284.0,435.0 C279.3,432.0 274.3,429.0 270.0,426.0 C265.7,423.0 261.0,420.5 258.0,417.0 C255.0,413.5 252.8,409.3 252.0,405.0 C251.2,400.7 253.2,395.7 253.0,391.0 C252.8,386.3 252.0,381.5 251.0,377.0 C250.0,372.5 248.5,368.2 247.0,364.0 C245.5,359.8 243.3,356.0 242.0,352.0 C240.7,348.0 240.7,343.8 239.0,340.0 C237.3,336.2 234.5,332.5 232.0,329.0" fill="none" stroke="#0812dc" stroke-width="18" stroke-linejoin="round" stroke-linecap="round"/>
<path d="M232.0,329.0 C229.5,325.5 227.3,322.3 224.0,319.0 C220.7,315.7 214.8,311.8 212.0,309.0 C209.2,306.2 209.3,304.2 207.0,302.0 C204.7,299.8 200.8,297.8 198.0,296.0 C195.2,294.2 193.0,293.0 190.0,291.0 C187.0,289.0 182.7,286.2 180.0,284.0 C177.3,281.8 176.7,279.8 174.0,278.0 C171.3,276.2 167.3,274.7 164.0,273.0" fill="none" stroke="#0812dc" stroke-width="18" stroke-linejoin="round" stroke-linecap="round"/>
<path d="M164.0,273.0 C160.7,271.3 157.3,269.7 154.0,268.0 C150.7,266.3 147.3,264.7 144.0,263.0 C140.7,261.3 136.5,260.0 134.0,258.0 C131.5,256.0 130.3,253.3 129.0,251.0 C127.7,248.7 127.8,246.3 126.0,244.0 C124.2,241.7 120.2,239.5 118.0,237.0 C115.8,234.5 114.3,230.8 113.0,229.0 C111.7,227.2 108.8,227.2 110.0,226.0" fill="none" stroke="#0812dc" stroke-width="3.0" stroke-linejoin="round" stroke-linecap="round"/>
</g>
<path d="M700.0,160.0 C702.0,158.3 715.7,164.0 724.0,166.0 C732.3,168.0 741.5,170.3 750.0,172.0 C758.5,173.7 766.7,174.7 775.0,176.0 C783.3,177.3 792.5,178.3 800.0,180.0 C807.5,181.7 813.3,184.3 820.0,186.0 C826.7,187.7 834.2,188.0 840.0,190.0 C845.8,192.0 848.3,196.0 855.0,198.0 C861.7,200.0 871.7,200.3 880.0,202.0 C888.3,203.7 897.5,205.0 905.0,208.0 C912.5,211.0 918.5,217.0 925.0,220.0 C931.5,223.0 940.8,217.7 944.0,226.0 C947.2,234.3 945.5,264.0 944.0,270.0 C942.5,276.0 938.2,266.3 935.0,262.0 C931.8,257.7 928.8,249.3 925.0,244.0 C921.2,238.7 917.0,233.7 912.0,230.0 C907.0,226.3 901.8,224.2 895.0,222.0 C888.2,219.8 878.3,218.2 871.0,217.0 C863.7,215.8 855.0,216.7 851.0,215.0 C847.0,213.3 849.8,209.5 847.0,207.0 C844.2,204.5 839.3,201.5 834.0,200.0 C828.7,198.5 821.0,199.2 815.0,198.0 C809.0,196.8 805.0,194.7 798.0,193.0 C791.0,191.3 781.2,189.3 773.0,188.0 C764.8,186.7 757.2,186.2 749.0,185.0 C740.8,183.8 730.2,182.5 724.0,181.0 C717.8,179.5 716.0,179.5 712.0,176.0 C708.0,172.5 698.0,161.7 700.0,160.0 Z" fill="#0812dc" filter="url(#soft)"/>
<clipPath id="stormclip"><path d="M110.0,226.0 C111.2,224.8 116.3,222.5 120.0,221.5 C123.7,220.5 127.8,220.0 132.0,220.0 C136.2,220.0 141.2,220.5 145.0,221.5 C148.8,222.5 152.2,224.8 155.0,226.0 C157.8,227.2 159.2,229.3 162.0,229.0 C164.8,228.7 167.7,226.0 172.0,224.0 C176.3,222.0 183.0,218.5 188.0,217.0 C193.0,215.5 196.7,215.2 202.0,215.0 C207.3,214.8 215.8,214.5 220.0,215.5 C224.2,216.5 225.0,219.1 227.0,221.0 C229.0,222.9 228.2,226.2 232.0,227.0 C235.8,227.8 243.7,226.8 250.0,226.0 C256.3,225.2 264.0,223.2 270.0,222.0 C276.0,220.8 282.0,220.3 286.0,219.0 C290.0,217.7 291.3,216.2 294.0,214.0 C296.7,211.8 299.3,209.0 302.0,206.0 C304.7,203.0 306.7,199.0 310.0,196.0 C313.3,193.0 317.7,190.5 322.0,188.0 C326.3,185.5 332.7,184.0 336.0,181.0 C339.3,178.0 341.7,173.5 342.0,170.0 C342.3,166.5 338.5,163.3 338.0,160.0 C337.5,156.7 337.8,152.7 339.0,150.0 C340.2,147.3 342.8,145.7 345.0,144.0 C347.2,142.3 349.5,141.2 352.0,140.0 C354.5,138.8 357.0,138.3 360.0,137.0 C363.0,135.7 366.3,133.7 370.0,132.0 C373.7,130.3 377.0,127.7 382.0,127.0 C387.0,126.3 393.7,127.2 400.0,128.0 C406.3,128.8 415.0,130.3 420.0,132.0 C425.0,133.7 426.3,136.3 430.0,138.0 C433.7,139.7 438.3,140.7 442.0,142.0 C445.7,143.3 448.3,144.2 452.0,146.0 C455.7,147.8 460.0,151.2 464.0,153.0 C468.0,154.8 473.0,156.3 476.0,157.0 C479.0,157.7 481.8,158.2 482.0,157.0 C482.2,155.8 478.2,153.2 477.0,150.0 C475.8,146.8 475.0,142.0 475.0,138.0 C475.0,134.0 475.2,129.7 477.0,126.0 C478.8,122.3 482.8,119.3 486.0,116.0 C489.2,112.7 492.0,108.3 496.0,106.0 C500.0,103.7 505.7,103.7 510.0,102.0 C514.3,100.3 518.7,97.3 522.0,96.0 C525.3,94.7 527.3,94.7 530.0,94.0 C532.7,93.3 534.7,91.7 538.0,92.0 C541.3,92.3 544.7,95.3 550.0,96.0 C555.3,96.7 562.3,96.3 570.0,96.0 C577.7,95.7 591.0,93.7 596.0,94.0 C601.0,94.3 596.0,96.7 600.0,98.0 C604.0,99.3 614.3,101.3 620.0,102.0 C625.7,102.7 629.0,102.0 634.0,102.0 C639.0,102.0 646.3,101.3 650.0,102.0 C653.7,102.7 655.3,104.3 656.0,106.0 C656.7,107.7 656.0,109.7 654.0,112.0 C652.0,114.3 645.0,117.7 644.0,120.0 C643.0,122.3 646.7,123.3 648.0,126.0 C649.3,128.7 651.7,133.3 652.0,136.0 C652.3,138.7 651.2,140.3 650.0,142.0 C648.8,143.7 644.2,144.1 645.0,146.0 C645.8,147.9 651.2,151.4 655.0,153.5 C658.8,155.6 664.2,157.2 667.5,158.5 C670.8,159.8 672.9,161.0 675.0,161.0 C677.1,161.0 677.5,158.9 680.0,158.5 C682.5,158.1 686.7,157.2 690.0,158.5 C693.3,159.8 696.3,163.1 700.0,166.0 C703.7,168.9 708.0,173.5 712.0,176.0 C716.0,178.5 717.8,179.5 724.0,181.0 C730.2,182.5 740.8,183.8 749.0,185.0 C757.2,186.2 764.8,186.7 773.0,188.0 C781.2,189.3 791.0,191.3 798.0,193.0 C805.0,194.7 809.0,196.8 815.0,198.0 C821.0,199.2 828.7,198.5 834.0,200.0 C839.3,201.5 844.2,204.5 847.0,207.0 C849.8,209.5 847.0,213.3 851.0,215.0 C855.0,216.7 864.0,215.5 871.0,217.0 C878.0,218.5 886.8,220.8 893.0,224.0 C899.2,227.2 902.7,232.7 908.0,236.0 C913.3,239.3 921.3,240.6 925.0,244.0 C928.7,247.4 927.9,253.2 930.0,256.5 C932.1,259.8 934.2,262.9 937.5,264.0 C940.8,265.1 946.2,257.0 950.0,263.0 C953.8,269.0 958.3,257.2 960.0,300.0 C961.7,342.8 1056.7,483.3 960.0,520.0 C863.3,556.7 478.0,522.5 380.0,520.0 C282.0,517.5 375.0,509.3 372.0,505.0 C369.0,500.7 365.3,497.5 362.0,494.0 C358.7,490.5 355.7,487.2 352.0,484.0 C348.3,480.8 344.3,478.0 340.0,475.0 C335.7,472.0 330.7,469.3 326.0,466.0 C321.3,462.7 316.7,458.7 312.0,455.0 C307.3,451.3 302.7,447.3 298.0,444.0 C293.3,440.7 288.7,438.0 284.0,435.0 C279.3,432.0 274.3,429.0 270.0,426.0 C265.7,423.0 261.0,420.5 258.0,417.0 C255.0,413.5 252.8,409.3 252.0,405.0 C251.2,400.7 253.2,395.7 253.0,391.0 C252.8,386.3 252.0,381.5 251.0,377.0 C250.0,372.5 248.5,368.2 247.0,364.0 C245.5,359.8 243.3,356.0 242.0,352.0 C240.7,348.0 240.7,343.8 239.0,340.0 C237.3,336.2 234.5,332.5 232.0,329.0 C229.5,325.5 227.3,322.3 224.0,319.0 C220.7,315.7 214.8,311.8 212.0,309.0 C209.2,306.2 209.3,304.2 207.0,302.0 C204.7,299.8 200.8,297.8 198.0,296.0 C195.2,294.2 193.0,293.0 190.0,291.0 C187.0,289.0 182.7,286.2 180.0,284.0 C177.3,281.8 176.7,279.8 174.0,278.0 C171.3,276.2 167.3,274.7 164.0,273.0 C160.7,271.3 157.3,269.7 154.0,268.0 C150.7,266.3 147.3,264.7 144.0,263.0 C140.7,261.3 136.5,260.0 134.0,258.0 C131.5,256.0 130.3,253.3 129.0,251.0 C127.7,248.7 127.8,246.3 126.0,244.0 C124.2,241.7 120.2,239.5 118.0,237.0 C115.8,234.5 114.3,230.8 113.0,229.0 C111.7,227.2 108.8,227.2 110.0,226.0 Z"/></clipPath>
<g clip-path="url(#stormclip)">
<path d="M110.0,226.0 C111.2,224.8 116.3,222.5 120.0,221.5 C123.7,220.5 127.8,220.0 132.0,220.0 C136.2,220.0 141.2,220.5 145.0,221.5 C148.8,222.5 152.2,224.8 155.0,226.0 C157.8,227.2 159.2,229.3 162.0,229.0 C164.8,228.7 167.7,226.0 172.0,224.0 C176.3,222.0 183.0,218.5 188.0,217.0 C193.0,215.5 196.7,215.2 202.0,215.0 C207.3,214.8 215.8,214.5 220.0,215.5 C224.2,216.5 225.0,219.1 227.0,221.0 C229.0,222.9 228.2,226.2 232.0,227.0 C235.8,227.8 243.7,226.8 250.0,226.0 C256.3,225.2 264.0,223.2 270.0,222.0 C276.0,220.8 282.0,220.3 286.0,219.0 C290.0,217.7 291.3,216.2 294.0,214.0 C296.7,211.8 299.3,209.0 302.0,206.0 C304.7,203.0 306.7,199.0 310.0,196.0 C313.3,193.0 317.7,190.5 322.0,188.0 C326.3,185.5 332.7,184.0 336.0,181.0 C339.3,178.0 341.7,173.5 342.0,170.0 C342.3,166.5 338.5,163.3 338.0,160.0 C337.5,156.7 337.8,152.7 339.0,150.0 C340.2,147.3 342.8,145.7 345.0,144.0 C347.2,142.3 349.5,141.2 352.0,140.0 C354.5,138.8 357.0,138.3 360.0,137.0 C363.0,135.7 366.3,133.7 370.0,132.0 C373.7,130.3 377.0,127.7 382.0,127.0 C387.0,126.3 393.7,127.2 400.0,128.0 C406.3,128.8 415.0,130.3 420.0,132.0 C425.0,133.7 426.3,136.3 430.0,138.0 C433.7,139.7 438.3,140.7 442.0,142.0 C445.7,143.3 448.3,144.2 452.0,146.0 C455.7,147.8 460.0,151.2 464.0,153.0 C468.0,154.8 473.0,156.3 476.0,157.0 C479.0,157.7 481.8,158.2 482.0,157.0 C482.2,155.8 478.2,153.2 477.0,150.0 C475.8,146.8 475.0,142.0 475.0,138.0 C475.0,134.0 475.2,129.7 477.0,126.0 C478.8,122.3 482.8,119.3 486.0,116.0 C489.2,112.7 492.0,108.3 496.0,106.0 C500.0,103.7 505.7,103.7 510.0,102.0 C514.3,100.3 518.7,97.3 522.0,96.0 C525.3,94.7 527.3,94.7 530.0,94.0 C532.7,93.3 534.7,91.7 538.0,92.0 C541.3,92.3 544.7,95.3 550.0,96.0 C555.3,96.7 562.3,96.3 570.0,96.0 C577.7,95.7 591.0,93.7 596.0,94.0 C601.0,94.3 596.0,96.7 600.0,98.0 C604.0,99.3 614.3,101.3 620.0,102.0 C625.7,102.7 629.0,102.0 634.0,102.0 C639.0,102.0 646.3,101.3 650.0,102.0 C653.7,102.7 655.3,104.3 656.0,106.0 C656.7,107.7 656.0,109.7 654.0,112.0 C652.0,114.3 645.0,117.7 644.0,120.0 C643.0,122.3 646.7,123.3 648.0,126.0 C649.3,128.7 651.7,133.3 652.0,136.0 C652.3,138.7 651.2,140.3 650.0,142.0 C648.8,143.7 644.2,144.1 645.0,146.0 C645.8,147.9 651.2,151.4 655.0,153.5 C658.8,155.6 664.2,157.2 667.5,158.5 C670.8,159.8 672.9,161.0 675.0,161.0 C677.1,161.0 677.5,158.9 680.0,158.5 C682.5,158.1 686.7,157.2 690.0,158.5 C693.3,159.8 696.3,163.1 700.0,166.0 C703.7,168.9 708.0,173.5 712.0,176.0 C716.0,178.5 717.8,179.5 724.0,181.0 C730.2,182.5 740.8,183.8 749.0,185.0 C757.2,186.2 764.8,186.7 773.0,188.0 C781.2,189.3 791.0,191.3 798.0,193.0 C805.0,194.7 809.0,196.8 815.0,198.0 C821.0,199.2 828.7,198.5 834.0,200.0 C839.3,201.5 844.2,204.5 847.0,207.0 C849.8,209.5 847.0,213.3 851.0,215.0 C855.0,216.7 864.0,215.5 871.0,217.0 C878.0,218.5 886.8,220.8 893.0,224.0 C899.2,227.2 902.7,232.7 908.0,236.0 C913.3,239.3 921.3,240.6 925.0,244.0 C928.7,247.4 927.9,253.2 930.0,256.5 C932.1,259.8 934.2,262.9 937.5,264.0 C940.8,265.1 946.2,257.0 950.0,263.0 C953.8,269.0 958.3,257.2 960.0,300.0 C961.7,342.8 1056.7,483.3 960.0,520.0 C863.3,556.7 478.0,522.5 380.0,520.0 C282.0,517.5 375.0,509.3 372.0,505.0 C369.0,500.7 365.3,497.5 362.0,494.0 C358.7,490.5 355.7,487.2 352.0,484.0 C348.3,480.8 344.3,478.0 340.0,475.0 C335.7,472.0 330.7,469.3 326.0,466.0 C321.3,462.7 316.7,458.7 312.0,455.0 C307.3,451.3 302.7,447.3 298.0,444.0 C293.3,440.7 288.7,438.0 284.0,435.0 C279.3,432.0 274.3,429.0 270.0,426.0 C265.7,423.0 261.0,420.5 258.0,417.0 C255.0,413.5 252.8,409.3 252.0,405.0 C251.2,400.7 253.2,395.7 253.0,391.0 C252.8,386.3 252.0,381.5 251.0,377.0 C250.0,372.5 248.5,368.2 247.0,364.0 C245.5,359.8 243.3,356.0 242.0,352.0 C240.7,348.0 240.7,343.8 239.0,340.0 C237.3,336.2 234.5,332.5 232.0,329.0 C229.5,325.5 227.3,322.3 224.0,319.0 C220.7,315.7 214.8,311.8 212.0,309.0 C209.2,306.2 209.3,304.2 207.0,302.0 C204.7,299.8 200.8,297.8 198.0,296.0 C195.2,294.2 193.0,293.0 190.0,291.0 C187.0,289.0 182.7,286.2 180.0,284.0 C177.3,281.8 176.7,279.8 174.0,278.0 C171.3,276.2 167.3,274.7 164.0,273.0 C160.7,271.3 157.3,269.7 154.0,268.0 C150.7,266.3 147.3,264.7 144.0,263.0 C140.7,261.3 136.5,260.0 134.0,258.0 C131.5,256.0 130.3,253.3 129.0,251.0 C127.7,248.7 127.8,246.3 126.0,244.0 C124.2,241.7 120.2,239.5 118.0,237.0 C115.8,234.5 114.3,230.8 113.0,229.0 C111.7,227.2 108.8,227.2 110.0,226.0 Z" fill="#ff8200" stroke="#ffe200" stroke-width="15" stroke-linejoin="round"/>
<g filter="url(#soft)">
<path d="M190.0,216.0 C192.2,213.5 199.7,214.2 205.0,214.0 C210.3,213.8 218.5,213.3 222.0,215.0 C225.5,216.7 226.3,221.3 226.0,224.0 C225.7,226.7 223.5,229.7 220.0,231.0 C216.5,232.3 209.7,232.3 205.0,232.0 C200.3,231.7 194.5,231.7 192.0,229.0 C189.5,226.3 187.8,218.5 190.0,216.0 Z" fill="#ffe200" />
<path d="M300.0,205.0 C302.5,202.2 313.3,199.5 320.0,197.0 C326.7,194.5 335.0,189.5 340.0,190.0 C345.0,190.5 350.0,196.3 350.0,200.0 C350.0,203.7 345.0,209.3 340.0,212.0 C335.0,214.7 325.8,215.7 320.0,216.0 C314.2,216.3 308.3,215.8 305.0,214.0 C301.7,212.2 297.5,207.8 300.0,205.0 Z" fill="#ffe200" />
<path d="M174.0,278.0 C175.3,277.0 181.0,278.3 184.0,280.0 C187.0,281.7 190.7,285.3 192.0,288.0 C193.3,290.7 193.7,295.0 192.0,296.0 C190.3,297.0 184.7,295.7 182.0,294.0 C179.3,292.3 177.3,288.7 176.0,286.0 C174.7,283.3 172.7,279.0 174.0,278.0 Z" fill="#ffe200" />
<path d="M250.0,395.0 C248.3,399.2 252.7,411.8 256.0,417.0 C259.3,422.2 265.3,423.0 270.0,426.0 C274.7,429.0 279.3,432.0 284.0,435.0 C288.7,438.0 293.3,440.7 298.0,444.0 C302.7,447.3 307.3,451.3 312.0,455.0 C316.7,458.7 321.3,462.7 326.0,466.0 C330.7,469.3 335.7,472.0 340.0,475.0 C344.3,478.0 348.3,480.8 352.0,484.0 C355.7,487.2 357.0,491.3 362.0,494.0 C367.0,496.7 381.0,502.3 382.0,500.0 C383.0,497.7 373.0,485.3 368.0,480.0 C363.0,474.7 357.3,471.8 352.0,468.0 C346.7,464.2 341.3,460.3 336.0,457.0 C330.7,453.7 325.0,451.2 320.0,448.0 C315.0,444.8 310.3,441.3 306.0,438.0 C301.7,434.7 298.0,431.3 294.0,428.0 C290.0,424.7 285.7,421.7 282.0,418.0 C278.3,414.3 274.7,410.3 272.0,406.0 C269.3,401.7 269.7,393.8 266.0,392.0 C262.3,390.2 251.7,390.8 250.0,395.0 Z" fill="#ffe200" />
<path d="M912.0,234.0 C914.5,233.5 924.7,240.0 930.0,244.0 C935.3,248.0 941.7,251.7 944.0,258.0 C946.3,264.3 945.7,279.3 944.0,282.0 C942.3,284.7 937.2,277.7 934.0,274.0 C930.8,270.3 928.2,264.5 925.0,260.0 C921.8,255.5 917.2,251.3 915.0,247.0 C912.8,242.7 909.5,234.5 912.0,234.0 Z" fill="#ffe200" />
<path d="M907.0,478.0 C909.5,473.3 913.8,473.7 920.0,472.0 C926.2,470.3 939.0,463.3 944.0,468.0 C949.0,472.7 956.5,494.7 950.0,500.0 C943.5,505.3 912.2,503.7 905.0,500.0 C897.8,496.3 904.5,482.7 907.0,478.0 Z" fill="#ffd400" />
<path d="M605.0,100.0 C608.7,96.7 631.5,98.3 640.0,100.0 C648.5,101.7 654.0,103.3 656.0,110.0 C658.0,116.7 653.8,133.3 652.0,140.0 C650.2,146.7 648.7,150.0 645.0,150.0 C641.3,150.0 634.5,145.0 630.0,140.0 C625.5,135.0 622.2,126.7 618.0,120.0 C613.8,113.3 601.3,103.3 605.0,100.0 Z" fill="#ffc000" />
<path d="M530.0,96.0 C534.0,93.3 553.3,93.7 560.0,96.0 C566.7,98.3 570.7,106.0 570.0,110.0 C569.3,114.0 561.7,119.7 556.0,120.0 C550.3,120.3 540.3,116.0 536.0,112.0 C531.7,108.0 526.0,98.7 530.0,96.0 Z" fill="#ffc000" />
<path d="M578.0,128.0 C580.7,124.7 589.7,124.0 596.0,124.0 C602.3,124.0 611.7,125.0 616.0,128.0 C620.3,131.0 622.7,137.3 622.0,142.0 C621.3,146.7 617.0,154.0 612.0,156.0 C607.0,158.0 597.3,156.0 592.0,154.0 C586.7,152.0 582.3,148.3 580.0,144.0 C577.7,139.7 575.3,131.3 578.0,128.0 Z" fill="#ffd000" />
</g>
<g filter="url(#soft)">
<path d="M222.0,233.0 C227.7,232.5 232.0,237.8 240.0,236.0 C248.0,234.2 260.0,227.0 270.0,222.0 C280.0,217.0 288.0,210.3 300.0,206.0 C312.0,201.7 328.0,199.2 342.0,196.0 C356.0,192.8 370.0,190.0 384.0,187.0 C398.0,184.0 412.3,180.5 426.0,178.0 C439.7,175.5 456.0,175.8 466.0,172.0 C476.0,168.2 478.7,158.8 486.0,155.0 C493.3,151.2 499.0,148.8 510.0,149.0 C521.0,149.2 538.0,153.3 552.0,156.0 C566.0,158.7 580.0,164.3 594.0,165.0 C608.0,165.7 623.3,159.2 636.0,160.0 C648.7,160.8 659.3,164.0 670.0,170.0 C680.7,176.0 690.0,190.0 700.0,196.0 C710.0,202.0 720.0,202.3 730.0,206.0 C740.0,209.7 748.3,214.7 760.0,218.0 C771.7,221.3 787.0,222.7 800.0,226.0 C813.0,229.3 829.7,233.0 838.0,238.0 C846.3,243.0 847.0,249.0 850.0,256.0 C853.0,263.0 854.3,272.7 856.0,280.0 C857.7,287.3 857.7,291.7 860.0,300.0 C862.3,308.3 865.5,322.5 870.0,330.0 C874.5,337.5 883.2,338.3 887.0,345.0 C890.8,351.7 891.7,364.2 893.0,370.0 C894.3,375.8 897.2,375.8 895.0,380.0 C892.8,384.2 885.8,390.0 880.0,395.0 C874.2,400.0 866.7,405.8 860.0,410.0 C853.3,414.2 850.0,417.3 840.0,420.0 C830.0,422.7 813.3,424.0 800.0,426.0 C786.7,428.0 771.7,429.3 760.0,432.0 C748.3,434.7 739.2,435.7 730.0,442.0 C720.8,448.3 710.8,457.0 705.0,470.0 C699.2,483.0 742.5,511.7 695.0,520.0 C647.5,528.3 467.2,524.3 420.0,520.0 C372.8,515.7 414.7,500.7 412.0,494.0 C409.3,487.3 407.7,484.3 404.0,480.0 C400.3,475.7 395.7,472.0 390.0,468.0 C384.3,464.0 376.7,459.3 370.0,456.0 C363.3,452.7 356.7,450.7 350.0,448.0 C343.3,445.3 336.3,442.5 330.0,440.0 C323.7,437.5 317.7,435.3 312.0,433.0 C306.3,430.7 300.8,429.3 296.0,426.0 C291.2,422.7 287.3,417.3 283.0,413.0 C278.7,408.7 273.2,404.2 270.0,400.0 C266.8,395.8 265.3,391.8 264.0,388.0 C262.7,384.2 263.0,381.0 262.0,377.0 C261.0,373.0 259.5,368.2 258.0,364.0 C256.5,359.8 254.5,356.0 253.0,352.0 C251.5,348.0 250.8,343.8 249.0,340.0 C247.2,336.2 244.5,332.5 242.0,329.0 C239.5,325.5 237.3,322.3 234.0,319.0 C230.7,315.7 225.5,312.2 222.0,309.0 C218.5,305.8 216.3,302.5 213.0,300.0 C209.7,297.5 205.8,296.0 202.0,294.0 C198.2,292.0 194.0,290.0 190.0,288.0 C186.0,286.0 181.7,284.0 178.0,282.0 C174.3,280.0 171.0,278.0 168.0,276.0 C165.0,274.0 163.0,272.3 160.0,270.0 C157.0,267.7 153.3,264.5 150.0,262.0 C146.7,259.5 143.3,257.3 140.0,255.0 C136.7,252.7 133.0,250.5 130.0,248.0 C127.0,245.5 124.0,242.7 122.0,240.0 C120.0,237.3 118.0,234.3 118.0,232.0 C118.0,229.7 119.0,227.3 122.0,226.0 C125.0,224.7 131.3,224.2 136.0,224.0 C140.7,223.8 146.0,223.8 150.0,225.0 C154.0,226.2 157.8,228.8 160.0,231.0 C162.2,233.2 161.3,235.7 163.0,238.0 C164.7,240.3 167.8,241.8 170.0,245.0 C172.2,248.2 172.7,254.3 176.0,257.0 C179.3,259.7 186.3,261.3 190.0,261.0 C193.7,260.7 196.3,257.7 198.0,255.0 C199.7,252.3 198.7,247.7 200.0,245.0 C201.3,242.3 202.3,241.0 206.0,239.0 C209.7,237.0 216.3,233.5 222.0,233.0 Z" fill="#ff2e00" />
<path d="M856.0,300.0 C858.0,294.3 871.0,297.3 880.0,296.0 C889.0,294.7 899.3,293.3 910.0,292.0 C920.7,290.7 938.3,280.7 944.0,288.0 C949.7,295.3 948.0,328.7 944.0,336.0 C940.0,343.3 927.3,332.0 920.0,332.0 C912.7,332.0 905.5,333.7 900.0,336.0 C894.5,338.3 892.3,347.0 887.0,346.0 C881.7,345.0 873.2,337.7 868.0,330.0 C862.8,322.3 854.0,305.7 856.0,300.0 Z" fill="#ff5c00" filter="url(#soft2)"/>
<ellipse cx="872" cy="282" rx="10" ry="12" fill="#ff4800" />
<ellipse cx="856" cy="253" rx="8" ry="5" fill="#ff4800" />
<path d="M258.0,364.0 C256.7,369.5 262.0,382.0 264.0,388.0 C266.0,394.0 266.8,395.8 270.0,400.0 C273.2,404.2 278.7,408.7 283.0,413.0 C287.3,417.3 291.2,422.7 296.0,426.0 C300.8,429.3 306.3,430.7 312.0,433.0 C317.7,435.3 323.7,437.5 330.0,440.0 C336.3,442.5 343.3,445.3 350.0,448.0 C356.7,450.7 363.3,452.7 370.0,456.0 C376.7,459.3 384.3,464.0 390.0,468.0 C395.7,472.0 400.3,475.7 404.0,480.0 C407.7,484.3 409.3,487.3 412.0,494.0 C414.7,500.7 415.3,515.7 420.0,520.0 C424.7,524.3 438.3,524.3 440.0,520.0 C441.7,515.7 433.3,501.0 430.0,494.0 C426.7,487.0 424.3,483.3 420.0,478.0 C415.7,472.7 410.0,466.7 404.0,462.0 C398.0,457.3 391.0,453.7 384.0,450.0 C377.0,446.3 369.3,443.0 362.0,440.0 C354.7,437.0 347.0,434.7 340.0,432.0 C333.0,429.3 325.8,427.0 320.0,424.0 C314.2,421.0 309.7,417.7 305.0,414.0 C300.3,410.3 295.8,406.3 292.0,402.0 C288.2,397.7 284.7,393.3 282.0,388.0 C279.3,382.7 277.7,375.5 276.0,370.0 C274.3,364.5 275.0,356.0 272.0,355.0 C269.0,354.0 259.3,358.5 258.0,364.0 Z" fill="#ff4c00" filter="url(#soft2)"/>
<path d="M400.0,452.0 C410.0,439.7 436.7,448.0 460.0,446.0 C483.3,444.0 513.3,441.7 540.0,440.0 C566.7,438.3 595.0,436.0 620.0,436.0 C645.0,436.0 673.3,434.3 690.0,440.0 C706.7,445.7 715.0,456.7 720.0,470.0 C725.0,483.3 773.3,511.7 720.0,520.0 C666.7,528.3 453.3,531.3 400.0,520.0 C346.7,508.7 390.0,464.3 400.0,452.0 Z" fill="#ff4c00" filter="url(#soft2)"/>
<path d="M484.0,110.0 C486.0,107.0 490.3,106.0 494.0,106.0 C497.7,106.0 503.0,107.0 506.0,110.0 C509.0,113.0 511.7,119.0 512.0,124.0 C512.3,129.0 510.7,136.0 508.0,140.0 C505.3,144.0 499.7,148.0 496.0,148.0 C492.3,148.0 488.3,144.0 486.0,140.0 C483.7,136.0 482.3,129.0 482.0,124.0 C481.7,119.0 482.0,113.0 484.0,110.0 Z" fill="#ff3c00" />
<ellipse cx="501" cy="125" rx="5" ry="6" fill="#e01800" />
<path d="M587.0,106.0 C588.7,102.3 595.5,103.3 600.0,104.0 C604.5,104.7 611.7,106.3 614.0,110.0 C616.3,113.7 616.0,122.3 614.0,126.0 C612.0,129.7 606.0,132.0 602.0,132.0 C598.0,132.0 592.5,130.3 590.0,126.0 C587.5,121.7 585.3,109.7 587.0,106.0 Z" fill="#ff5000" />
<ellipse cx="440" cy="160" rx="18" ry="8" fill="#ff5400" />
<ellipse cx="395" cy="165" rx="14" ry="6" fill="#ff6000" />
<path d="M116.0,229.0 C116.7,226.3 118.7,225.2 122.0,224.0 C125.3,222.8 131.3,222.2 136.0,222.0 C140.7,221.8 146.0,221.5 150.0,223.0 C154.0,224.5 156.7,227.3 160.0,231.0 C163.3,234.7 167.3,240.7 170.0,245.0 C172.7,249.3 174.7,253.2 176.0,257.0 C177.3,260.8 179.8,265.5 178.0,268.0 C176.2,270.5 169.7,272.3 165.0,272.0 C160.3,271.7 154.8,268.3 150.0,266.0 C145.2,263.7 140.0,260.7 136.0,258.0 C132.0,255.3 129.0,253.0 126.0,250.0 C123.0,247.0 119.7,243.5 118.0,240.0 C116.3,236.5 115.3,231.7 116.0,229.0 Z" fill="#ff4c00" />
<path d="M194.0,255.0 C197.3,252.2 204.0,247.3 210.0,245.0 C216.0,242.7 223.3,241.3 230.0,241.0 C236.7,240.7 243.3,242.7 250.0,243.0 C256.7,243.3 263.3,243.3 270.0,243.0 C276.7,242.7 281.7,243.2 290.0,241.0 C298.3,238.8 308.3,233.2 320.0,230.0 C331.7,226.8 346.7,225.3 360.0,222.0 C373.3,218.7 386.7,213.3 400.0,210.0 C413.3,206.7 428.3,204.7 440.0,202.0 C451.7,199.3 460.0,197.0 470.0,194.0 C480.0,191.0 488.3,185.7 500.0,184.0 C511.7,182.3 526.7,185.3 540.0,184.0 C553.3,182.7 566.7,178.0 580.0,176.0 C593.3,174.0 608.3,171.3 620.0,172.0 C631.7,172.7 640.0,177.0 650.0,180.0 C660.0,183.0 670.0,187.0 680.0,190.0 C690.0,193.0 702.5,193.0 710.0,198.0 C717.5,203.0 722.7,211.3 725.0,220.0 C727.3,228.7 725.2,240.7 724.0,250.0 C722.8,259.3 722.0,269.3 718.0,276.0 C714.0,282.7 706.3,286.0 700.0,290.0 C693.7,294.0 686.3,296.3 680.0,300.0 C673.7,303.7 667.0,307.5 662.0,312.0 C657.0,316.5 654.2,323.7 650.0,327.0 C645.8,330.3 640.3,327.8 637.0,332.0 C633.7,336.2 632.0,345.8 630.0,352.0 C628.0,358.2 628.0,364.8 625.0,369.0 C622.0,373.2 616.2,376.5 612.0,377.0 C607.8,377.5 604.2,372.0 600.0,372.0 C595.8,372.0 588.7,372.8 587.0,377.0 C585.3,381.2 590.8,392.0 590.0,397.0 C589.2,402.0 586.2,407.0 582.0,407.0 C577.8,407.0 570.3,400.3 565.0,397.0 C559.7,393.7 552.5,391.2 550.0,387.0 C547.5,382.8 551.3,372.8 550.0,372.0 C548.7,371.2 544.2,377.8 542.0,382.0 C539.8,386.2 539.0,393.3 537.0,397.0 C535.0,400.7 532.0,406.2 530.0,404.0 C528.0,401.8 526.7,390.2 525.0,384.0 C523.3,377.8 522.2,370.3 520.0,367.0 C517.8,363.7 514.5,365.7 512.0,364.0 C509.5,362.3 507.5,357.8 505.0,357.0 C502.5,356.2 499.5,355.7 497.0,359.0 C494.5,362.3 492.8,370.7 490.0,377.0 C487.2,383.3 482.5,389.2 480.0,397.0 C477.5,404.8 478.3,419.0 475.0,424.0 C471.7,429.0 463.3,427.3 460.0,427.0 C456.7,426.7 459.2,423.3 455.0,422.0 C450.8,420.7 438.8,420.7 435.0,419.0 C431.2,417.3 431.2,415.7 432.0,412.0 C432.8,408.3 437.5,402.0 440.0,397.0 C442.5,392.0 445.3,385.0 447.0,382.0 C448.7,379.0 450.8,382.2 450.0,379.0 C449.2,375.8 446.8,366.5 442.0,363.0 C437.2,359.5 427.5,360.3 421.0,358.0 C414.5,355.7 409.5,350.3 403.0,349.0 C396.5,347.7 387.2,347.2 382.0,350.0 C376.8,352.8 377.2,362.5 372.0,366.0 C366.8,369.5 355.3,368.0 351.0,371.0 C346.7,374.0 350.8,381.0 346.0,384.0 C341.2,387.0 327.7,389.8 322.0,389.0 C316.3,388.2 313.3,384.2 312.0,379.0 C310.7,373.8 315.3,363.7 314.0,358.0 C312.7,352.3 309.2,347.7 304.0,345.0 C298.8,342.3 287.3,345.0 283.0,342.0 C278.7,339.0 281.5,328.7 278.0,327.0 C274.5,325.3 268.3,333.5 262.0,332.0 C255.7,330.5 246.2,322.2 240.0,318.0 C233.8,313.8 229.7,310.0 225.0,307.0 C220.3,304.0 215.8,302.5 212.0,300.0 C208.2,297.5 205.0,294.8 202.0,292.0 C199.0,289.2 196.3,286.3 194.0,283.0 C191.7,279.7 188.7,275.5 188.0,272.0 C187.3,268.5 189.0,264.8 190.0,262.0 C191.0,259.2 190.7,257.8 194.0,255.0 Z" fill="#dc0600" />
<path d="M200.0,258.0 C201.8,254.2 206.8,250.3 213.0,248.0 C219.2,245.7 230.0,244.3 237.0,244.0 C244.0,243.7 247.3,245.0 255.0,246.0 C262.7,247.0 274.3,250.3 283.0,250.0 C291.7,249.7 296.5,245.0 307.0,244.0 C317.5,243.0 336.0,247.0 346.0,244.0 C356.0,241.0 358.8,231.0 367.0,226.0 C375.2,221.0 386.8,217.3 395.0,214.0 C403.2,210.7 408.5,206.7 416.0,206.0 C423.5,205.3 433.0,207.3 440.0,210.0 C447.0,212.7 451.3,221.3 458.0,222.0 C464.7,222.7 474.7,218.0 480.0,214.0 C485.3,210.0 483.3,202.0 490.0,198.0 C496.7,194.0 511.7,189.7 520.0,190.0 C528.3,190.3 533.3,199.3 540.0,200.0 C546.7,200.7 550.0,197.7 560.0,194.0 C570.0,190.3 590.0,180.3 600.0,178.0 C610.0,175.7 613.3,177.7 620.0,180.0 C626.7,182.3 633.3,188.3 640.0,192.0 C646.7,195.7 653.3,198.7 660.0,202.0 C666.7,205.3 675.0,207.3 680.0,212.0 C685.0,216.7 690.0,223.3 690.0,230.0 C690.0,236.7 683.3,244.3 680.0,252.0 C676.7,259.7 673.3,268.0 670.0,276.0 C666.7,284.0 662.5,294.0 660.0,300.0 C657.5,306.0 656.7,307.5 655.0,312.0 C653.3,316.5 653.0,323.7 650.0,327.0 C647.0,330.3 640.3,327.8 637.0,332.0 C633.7,336.2 632.0,345.8 630.0,352.0 C628.0,358.2 628.0,364.8 625.0,369.0 C622.0,373.2 616.2,376.5 612.0,377.0 C607.8,377.5 604.2,372.0 600.0,372.0 C595.8,372.0 588.7,372.8 587.0,377.0 C585.3,381.2 590.8,392.0 590.0,397.0 C589.2,402.0 586.2,407.0 582.0,407.0 C577.8,407.0 570.3,400.3 565.0,397.0 C559.7,393.7 552.5,391.2 550.0,387.0 C547.5,382.8 551.3,372.8 550.0,372.0 C548.7,371.2 544.2,377.8 542.0,382.0 C539.8,386.2 539.0,393.3 537.0,397.0 C535.0,400.7 532.0,406.2 530.0,404.0 C528.0,401.8 526.7,390.2 525.0,384.0 C523.3,377.8 522.2,370.3 520.0,367.0 C517.8,363.7 514.5,365.7 512.0,364.0 C509.5,362.3 507.5,357.8 505.0,357.0 C502.5,356.2 499.5,355.7 497.0,359.0 C494.5,362.3 492.8,370.7 490.0,377.0 C487.2,383.3 482.5,389.2 480.0,397.0 C477.5,404.8 478.3,419.0 475.0,424.0 C471.7,429.0 463.3,427.3 460.0,427.0 C456.7,426.7 459.2,423.3 455.0,422.0 C450.8,420.7 438.8,420.7 435.0,419.0 C431.2,417.3 431.2,415.7 432.0,412.0 C432.8,408.3 437.5,402.0 440.0,397.0 C442.5,392.0 445.8,387.0 447.0,382.0 C448.2,377.0 449.8,370.3 447.0,367.0 C444.2,363.7 436.2,363.3 430.0,362.0 C423.8,360.7 415.8,361.3 410.0,359.0 C404.2,356.7 400.0,349.7 395.0,348.0 C390.0,346.3 383.3,347.5 380.0,349.0 C376.7,350.5 378.3,354.0 375.0,357.0 C371.7,360.0 365.0,365.0 360.0,367.0 C355.0,369.0 347.2,366.2 345.0,369.0 C342.8,371.8 348.3,380.2 347.0,384.0 C345.7,387.8 341.5,391.2 337.0,392.0 C332.5,392.8 323.7,391.5 320.0,389.0 C316.3,386.5 317.5,380.7 315.0,377.0 C312.5,373.3 305.8,371.7 305.0,367.0 C304.2,362.3 310.8,352.8 310.0,349.0 C309.2,345.2 304.5,343.5 300.0,344.0 C295.5,344.5 288.2,352.5 283.0,352.0 C277.8,351.5 273.7,345.2 269.0,341.0 C264.3,336.8 259.7,331.7 255.0,327.0 C250.3,322.3 246.8,318.8 241.0,313.0 C235.2,307.2 226.5,299.0 220.0,292.0 C213.5,285.0 205.3,276.7 202.0,271.0 C198.7,265.3 198.2,261.8 200.0,258.0 Z" fill="#b60000" />
<path d="M230.0,250.0 C232.7,247.3 243.3,247.2 248.0,248.0 C252.7,248.8 255.2,251.8 258.0,255.0 C260.8,258.2 261.5,264.2 265.0,267.0 C268.5,269.8 275.5,272.5 279.0,272.0 C282.5,271.5 281.8,266.3 286.0,264.0 C290.2,261.7 296.3,258.3 304.0,258.0 C311.7,257.7 325.0,262.0 332.0,262.0 C339.0,262.0 341.3,258.8 346.0,258.0 C350.7,257.2 356.5,254.8 360.0,257.0 C363.5,259.2 365.3,264.7 367.0,271.0 C368.7,277.3 371.2,288.7 370.0,295.0 C368.8,301.3 364.0,305.5 360.0,309.0 C356.0,312.5 351.8,314.5 346.0,316.0 C340.2,317.5 332.0,318.5 325.0,318.0 C318.0,317.5 309.3,315.0 304.0,313.0 C298.7,311.0 295.3,309.8 293.0,306.0 C290.7,302.2 291.7,293.7 290.0,290.0 C288.3,286.3 286.5,284.8 283.0,284.0 C279.5,283.2 274.3,285.5 269.0,285.0 C263.7,284.5 256.3,282.8 251.0,281.0 C245.7,279.2 240.2,276.8 237.0,274.0 C233.8,271.2 233.2,268.0 232.0,264.0 C230.8,260.0 227.3,252.7 230.0,250.0 Z" fill="#5e1614" />
<ellipse cx="743" cy="249" rx="5" ry="10" fill="#d00000" transform="rotate(35 743 249)" />
<ellipse cx="822" cy="236" rx="10" ry="8" fill="#ff7a00" />
<ellipse cx="452" cy="227" rx="5" ry="4" fill="#5e1614" />
<ellipse cx="578" cy="200" rx="5" ry="6" fill="#5e1614" />
<ellipse cx="585" cy="216" rx="4" ry="5" fill="#5e1614" />
<ellipse cx="569" cy="212" rx="4" ry="4" fill="#5e1614" />
<ellipse cx="135" cy="245" rx="5" ry="4" fill="#d00800" />
<ellipse cx="170" cy="257" rx="8" ry="7" fill="#d00800" />
<ellipse cx="149" cy="254" rx="3" ry="3" fill="#d00800" />
<ellipse cx="470" cy="250" rx="14" ry="7" fill="#ff3000" />
<ellipse cx="520" cy="198" rx="18" ry="6" fill="#ff3000" />
<ellipse cx="598" cy="198" rx="4" ry="6" fill="#ff3000" />
<ellipse cx="420" cy="236" rx="4" ry="3" fill="#ff3000" />
<ellipse cx="425" cy="246" rx="3" ry="5" fill="#ff3000" />
</g>
</g>
<path d="M52.5,354.0 C54.6,351.6 60.0,353.3 65.0,353.5 C70.0,353.7 77.5,353.8 82.5,355.0 C87.5,356.2 91.2,358.8 95.0,361.0 C98.8,363.2 102.8,366.2 105.0,368.5 C107.2,370.8 108.8,372.7 108.0,374.5 C107.2,376.3 103.4,378.2 100.0,379.5 C96.6,380.8 92.5,381.9 87.5,382.0 C82.5,382.1 75.0,381.5 70.0,380.0 C65.0,378.5 60.4,375.0 57.5,373.0 C54.6,371.0 53.3,371.2 52.5,368.0 C51.7,364.8 50.4,356.4 52.5,354.0 Z" fill="none" stroke="#b6c8f8" stroke-width="8" filter="url(#soft)"/>
<path d="M52.5,354.0 C54.6,351.6 60.0,353.3 65.0,353.5 C70.0,353.7 77.5,353.8 82.5,355.0 C87.5,356.2 91.2,358.8 95.0,361.0 C98.8,363.2 102.8,366.2 105.0,368.5 C107.2,370.8 108.8,372.7 108.0,374.5 C107.2,376.3 103.4,378.2 100.0,379.5 C96.6,380.8 92.5,381.9 87.5,382.0 C82.5,382.1 75.0,381.5 70.0,380.0 C65.0,378.5 60.4,375.0 57.5,373.0 C54.6,371.0 53.3,371.2 52.5,368.0 C51.7,364.8 50.4,356.4 52.5,354.0 Z" fill="#ff8200" stroke="#0812dc" stroke-width="2.2"/>
<path d="M106.0,366.0 C107.7,364.7 113.3,366.7 116.0,368.0 C118.7,369.3 122.0,372.3 122.0,374.0 C122.0,375.7 118.7,377.7 116.0,378.0 C113.3,378.3 107.7,378.0 106.0,376.0 C104.3,374.0 104.3,367.3 106.0,366.0 Z" fill="#6c8cf2" />
<ellipse cx="116" cy="372" rx="3" ry="2.5" fill="#0812dc" />
<ellipse cx="123" cy="382" rx="4" ry="3" fill="#0812dc" />
<ellipse cx="136" cy="387" rx="4" ry="3" fill="#0812dc" />
<ellipse cx="113" cy="372" rx="2" ry="1.5" fill="#ffffff" />
<path d="M52.5,414.0 C54.6,404.1 60.8,413.5 65.0,414.5 C69.2,415.5 73.8,417.4 77.5,420.0 C81.2,422.6 84.8,427.1 87.5,430.0 C90.2,432.9 94.0,435.7 93.7,437.7 C93.5,439.7 88.3,440.5 86.0,442.0 C83.7,443.5 78.5,444.7 80.0,446.5 C81.5,448.3 89.6,450.0 95.0,452.7 C100.4,455.4 107.1,459.8 112.5,462.7 C117.9,465.6 122.5,467.7 127.5,470.2 C132.5,472.7 139.2,475.2 142.5,477.7 C145.8,480.2 146.2,482.4 147.5,485.0 C148.8,487.6 149.6,491.0 150.0,493.5 C150.4,496.0 159.2,498.9 150.0,500.0 C140.8,501.1 105.0,501.7 95.0,500.0 C85.0,498.3 93.3,492.7 90.0,490.0 C86.7,487.3 79.2,486.0 75.0,484.0 C70.8,482.0 68.8,479.7 65.0,478.0 C61.2,476.3 54.6,484.7 52.5,474.0 C50.4,463.3 50.4,423.9 52.5,414.0 Z" fill="none" stroke="#b6c8f8" stroke-width="10" filter="url(#soft)"/>
<path d="M52.5,414.0 C54.6,404.1 60.8,413.5 65.0,414.5 C69.2,415.5 73.8,417.4 77.5,420.0 C81.2,422.6 84.8,427.1 87.5,430.0 C90.2,432.9 94.0,435.7 93.7,437.7 C93.5,439.7 88.3,440.5 86.0,442.0 C83.7,443.5 78.5,444.7 80.0,446.5 C81.5,448.3 89.6,450.0 95.0,452.7 C100.4,455.4 107.1,459.8 112.5,462.7 C117.9,465.6 122.5,467.7 127.5,470.2 C132.5,472.7 139.2,475.2 142.5,477.7 C145.8,480.2 146.2,482.4 147.5,485.0 C148.8,487.6 149.6,491.0 150.0,493.5 C150.4,496.0 159.2,498.9 150.0,500.0 C140.8,501.1 105.0,501.7 95.0,500.0 C85.0,498.3 93.3,492.7 90.0,490.0 C86.7,487.3 79.2,486.0 75.0,484.0 C70.8,482.0 68.8,479.7 65.0,478.0 C61.2,476.3 54.6,484.7 52.5,474.0 C50.4,463.3 50.4,423.9 52.5,414.0 Z" fill="#ff8200" stroke="#0812dc" stroke-width="3"/>
<path d="M100.0,470.0 C103.3,466.7 113.3,472.3 120.0,474.0 C126.7,475.7 135.3,476.8 140.0,480.0 C144.7,483.2 154.7,490.7 148.0,493.0 C141.3,495.3 108.0,497.8 100.0,494.0 C92.0,490.2 96.7,473.3 100.0,470.0 Z" fill="#ffe200" />
<path d="M52.0,440.0 C53.7,438.0 59.0,442.0 62.0,444.0 C65.0,446.0 70.3,449.7 70.0,452.0 C69.7,454.3 63.0,457.3 60.0,458.0 C57.0,458.7 53.3,459.0 52.0,456.0 C50.7,453.0 50.3,442.0 52.0,440.0 Z" fill="#ff5a00" />
<ellipse cx="58" cy="443" rx="4" ry="3" fill="#ff4000" />
<path d="M52.0,480.0 C53.3,477.3 57.7,477.0 60.0,478.0 C62.3,479.0 66.0,483.3 66.0,486.0 C66.0,488.7 62.3,492.7 60.0,494.0 C57.7,495.3 53.3,496.3 52.0,494.0 C50.7,491.7 50.7,482.7 52.0,480.0 Z" fill="#b6c8f8" />
<path d="M130.0,490.0 C133.3,488.7 144.2,485.3 150.0,486.0 C155.8,486.7 168.3,492.7 165.0,494.0 C161.7,495.3 135.8,494.7 130.0,494.0 C124.2,493.3 126.7,491.3 130.0,490.0 Z" fill="#0812dc" />
<path d="M62.0,192.0 C62.6,190.4 66.7,188.2 70.0,187.0 C73.3,185.8 78.0,184.7 82.0,184.5 C86.0,184.3 90.0,185.2 94.0,186.0 C98.0,186.8 102.0,188.1 106.0,189.0 C110.0,189.9 114.7,190.3 118.0,191.5 C121.3,192.7 123.4,194.2 126.0,196.0 C128.6,197.8 131.2,200.0 133.5,202.0 C135.8,204.0 138.2,206.2 139.5,208.0 C140.8,209.8 141.6,211.6 141.0,213.0 C140.4,214.4 138.8,215.8 136.0,216.5 C133.2,217.2 128.0,217.3 124.0,217.5 C120.0,217.7 115.6,217.9 112.0,217.5 C108.4,217.1 104.9,215.9 102.5,215.0 C100.1,214.1 99.3,212.8 97.5,212.0 C95.7,211.2 94.1,211.3 91.5,210.5 C88.9,209.7 85.0,208.6 82.0,207.0 C79.0,205.4 76.1,202.8 73.5,201.0 C70.9,199.2 68.4,198.0 66.5,196.5 C64.6,195.0 61.4,193.6 62.0,192.0 Z" fill="none" stroke="#74d674" stroke-width="12" filter="url(#soft)"/>
<path d="M62.0,192.0 C62.6,190.4 66.7,188.2 70.0,187.0 C73.3,185.8 78.0,184.7 82.0,184.5 C86.0,184.3 90.0,185.2 94.0,186.0 C98.0,186.8 102.0,188.1 106.0,189.0 C110.0,189.9 114.7,190.3 118.0,191.5 C121.3,192.7 123.4,194.2 126.0,196.0 C128.6,197.8 131.2,200.0 133.5,202.0 C135.8,204.0 138.2,206.2 139.5,208.0 C140.8,209.8 141.6,211.6 141.0,213.0 C140.4,214.4 138.8,215.8 136.0,216.5 C133.2,217.2 128.0,217.3 124.0,217.5 C120.0,217.7 115.6,217.9 112.0,217.5 C108.4,217.1 104.9,215.9 102.5,215.0 C100.1,214.1 99.3,212.8 97.5,212.0 C95.7,211.2 94.1,211.3 91.5,210.5 C88.9,209.7 85.0,208.6 82.0,207.0 C79.0,205.4 76.1,202.8 73.5,201.0 C70.9,199.2 68.4,198.0 66.5,196.5 C64.6,195.0 61.4,193.6 62.0,192.0 Z" fill="none" stroke="#b6c8f8" stroke-width="9" filter="url(#soft)"/>
<path d="M62.0,192.0 C62.6,190.4 66.7,188.2 70.0,187.0 C73.3,185.8 78.0,184.7 82.0,184.5 C86.0,184.3 90.0,185.2 94.0,186.0 C98.0,186.8 102.0,188.1 106.0,189.0 C110.0,189.9 114.7,190.3 118.0,191.5 C121.3,192.7 123.4,194.2 126.0,196.0 C128.6,197.8 131.2,200.0 133.5,202.0 C135.8,204.0 138.2,206.2 139.5,208.0 C140.8,209.8 141.6,211.6 141.0,213.0 C140.4,214.4 138.8,215.8 136.0,216.5 C133.2,217.2 128.0,217.3 124.0,217.5 C120.0,217.7 115.6,217.9 112.0,217.5 C108.4,217.1 104.9,215.9 102.5,215.0 C100.1,214.1 99.3,212.8 97.5,212.0 C95.7,211.2 94.1,211.3 91.5,210.5 C88.9,209.7 85.0,208.6 82.0,207.0 C79.0,205.4 76.1,202.8 73.5,201.0 C70.9,199.2 68.4,198.0 66.5,196.5 C64.6,195.0 61.4,193.6 62.0,192.0 Z" fill="#ffe200" stroke="#0812dc" stroke-width="2.6"/>
<path d="M86.0,202.0 C86.2,200.2 88.3,198.8 90.0,198.5 C91.7,198.2 94.2,198.9 96.0,200.0 C97.8,201.1 99.8,203.0 101.0,205.0 C102.2,207.0 103.2,210.2 103.0,212.0 C102.8,213.8 101.5,215.8 100.0,216.0 C98.5,216.2 95.8,214.2 94.0,213.0 C92.2,211.8 90.3,210.8 89.0,209.0 C87.7,207.2 85.8,203.8 86.0,202.0 Z" fill="#0812dc" />
<ellipse cx="96.5" cy="197" rx="3.6" ry="3" fill="#ff8200" />
<path d="M102.0,199.0 C103.7,197.8 109.3,197.3 112.0,198.0 C114.7,198.7 117.3,201.0 118.0,203.0 C118.7,205.0 118.0,208.8 116.0,210.0 C114.0,211.2 108.3,210.8 106.0,210.0 C103.7,209.2 102.7,206.8 102.0,205.0 C101.3,203.2 100.3,200.2 102.0,199.0 Z" fill="#ffa800" />
<ellipse cx="54" cy="200" rx="3" ry="2.5" fill="#ff7000" />
<path d="M53.5,36 V494 M172.0,36 V494 M290.5,36 V494 M409.0,36 V494 M528.0,36 V494 M646.5,36 V494 M765.0,36 V494 M884.0,36 V494 M52,94.0 H944 M52,208.0 H944 M52,322.0 H944 M52,436.0 H944" fill="none" stroke="#000" stroke-opacity="0.2" stroke-width="1.3" stroke-dasharray="1.4 3.3"/>
<path d="M53.0,37.0 C53.8,37.8 56.0,40.3 58.0,42.0 C60.0,43.7 62.7,45.3 65.0,47.0 C67.3,48.7 70.0,50.5 72.0,52.0 C74.0,53.5 75.3,54.9 77.0,56.0 C78.7,57.1 79.5,57.3 82.0,58.5 C84.5,59.7 88.7,61.3 92.0,63.0 C95.3,64.7 99.3,66.3 102.0,68.5 C104.7,70.7 106.3,73.8 108.0,76.0 C109.7,78.2 109.2,80.3 112.0,82.0 C114.8,83.7 121.2,84.9 125.0,86.0 C128.8,87.1 130.8,87.2 135.0,88.5 C139.2,89.8 145.5,92.2 150.0,93.5 C154.5,94.8 158.8,95.9 162.0,96.0 C165.2,96.1 166.0,93.3 169.0,94.0 C172.0,94.7 175.7,97.6 180.0,100.0 C184.3,102.4 190.0,105.4 195.0,108.5 C200.0,111.6 205.0,115.2 210.0,118.5 C215.0,121.8 220.0,125.4 225.0,128.5 C230.0,131.6 235.8,135.1 240.0,137.0 C244.2,138.9 246.3,138.9 250.0,140.0 C253.7,141.1 258.7,141.8 262.0,143.5 C265.3,145.2 267.7,149.4 270.0,150.0 C272.3,150.6 272.7,146.3 276.0,147.0 C279.3,147.7 285.7,152.2 290.0,154.0 C294.3,155.8 298.7,155.7 302.0,158.0 C305.3,160.3 307.7,165.3 310.0,168.0 C312.3,170.7 314.0,171.0 316.0,174.0 C318.0,177.0 320.3,182.3 322.0,186.0 C323.7,189.7 324.7,193.7 326.0,196.0 C327.3,198.3 329.3,199.3 330.0,200.0" fill="none" stroke="#000" stroke-opacity="0.55" stroke-width="0.9"/>
<path d="M432.0,36.0 C432.7,38.3 434.8,45.7 436.0,50.0 C437.2,54.3 437.8,58.3 439.0,62.0 C440.2,65.7 441.2,68.3 443.0,72.0 C444.8,75.7 447.2,80.7 450.0,84.0 C452.8,87.3 456.3,90.2 460.0,92.0 C463.7,93.8 468.0,95.7 472.0,95.0 C476.0,94.3 480.0,90.0 484.0,88.0 C488.0,86.0 492.3,83.3 496.0,83.0 C499.7,82.7 503.3,84.5 506.0,86.0 C508.7,87.5 510.7,89.2 512.0,92.0 C513.3,94.8 514.3,98.0 514.0,103.0 C513.7,108.0 511.3,115.8 510.0,122.0 C508.7,128.2 508.2,133.5 506.0,140.0 C503.8,146.5 499.5,153.2 497.0,161.0 C494.5,168.8 492.3,178.8 491.0,187.0 C489.7,195.2 490.8,200.5 489.0,210.0 C487.2,219.5 483.2,236.7 480.0,244.0 C476.8,251.3 475.0,250.7 470.0,254.0 C465.0,257.3 455.8,260.7 450.0,264.0 C444.2,267.3 440.0,271.3 435.0,274.0 C430.0,276.7 426.7,278.2 420.0,280.0 C413.3,281.8 405.0,283.7 395.0,285.0 C385.0,286.3 370.8,287.7 360.0,288.0 C349.2,288.3 341.7,288.2 330.0,287.0 C318.3,285.8 300.0,281.8 290.0,281.0 C280.0,280.2 276.7,280.5 270.0,282.0 C263.3,283.5 255.0,287.7 250.0,290.0 C245.0,292.3 241.7,295.0 240.0,296.0" fill="none" stroke="#000" stroke-opacity="0.55" stroke-width="0.9"/>
<path d="M500.0,184.0 C502.0,183.3 507.8,181.3 512.0,180.0 C516.2,178.7 520.8,174.5 525.0,176.0 C529.2,177.5 533.7,184.2 537.0,189.0 C540.3,193.8 542.8,200.8 545.0,205.0 C547.2,209.2 549.2,212.5 550.0,214.0" fill="none" stroke="#000" stroke-opacity="0.55" stroke-width="0.9"/>
<path d="M475.0,302.0 C472.8,303.7 466.2,308.7 462.0,312.0 C457.8,315.3 454.2,318.8 450.0,322.0 C445.8,325.2 441.2,328.2 437.0,331.0 C432.8,333.8 428.7,336.2 425.0,339.0 C421.3,341.8 418.0,345.0 415.0,348.0 C412.0,351.0 410.0,353.8 407.0,357.0 C404.0,360.2 400.3,363.7 397.0,367.0 C393.7,370.3 390.2,374.0 387.0,377.0 C383.8,380.0 380.8,382.5 378.0,385.0 C375.2,387.5 373.0,389.2 370.0,392.0 C367.0,394.8 363.3,398.7 360.0,402.0 C356.7,405.3 353.3,409.0 350.0,412.0 C346.7,415.0 343.0,417.5 340.0,420.0 C337.0,422.5 333.7,424.2 332.0,427.0 C330.3,429.8 331.7,434.3 330.0,437.0 C328.3,439.7 324.5,441.5 322.0,443.0 C319.5,444.5 316.7,444.7 315.0,446.0 C313.3,447.3 312.5,450.2 312.0,451.0" fill="none" stroke="#000" stroke-opacity="0.55" stroke-width="0.9"/>
<path d="M312.0,451.0 C313.7,451.2 319.0,452.0 322.0,452.0 C325.0,452.0 327.5,452.0 330.0,451.0 C332.5,450.0 334.5,447.7 337.0,446.0 C339.5,444.3 342.5,441.7 345.0,441.0 C347.5,440.3 349.2,441.5 352.0,442.0 C354.8,442.5 359.0,442.7 362.0,444.0 C365.0,445.3 367.8,448.3 370.0,450.0 C372.2,451.7 372.5,452.0 375.0,454.0 C377.5,456.0 381.7,459.5 385.0,462.0 C388.3,464.5 392.2,466.7 395.0,469.0 C397.8,471.3 400.0,474.0 402.0,476.0 C404.0,478.0 405.7,478.2 407.0,481.0 C408.3,483.8 409.5,491.0 410.0,493.0" fill="none" stroke="#000" stroke-opacity="0.55" stroke-width="0.9"/>
<path d="M420.0,494.0 C420.8,493.0 423.3,489.7 425.0,488.0 C426.7,486.3 428.2,484.3 430.0,484.0 C431.8,483.7 434.3,485.2 436.0,486.0 C437.7,486.8 438.2,487.7 440.0,489.0 C441.8,490.3 445.8,493.2 447.0,494.0" fill="none" stroke="#000" stroke-opacity="0.55" stroke-width="0.9"/>
<path d="M950.0,106.0 C947.5,108.5 940.0,116.8 935.0,121.0 C930.0,125.2 925.0,127.7 920.0,131.0 C915.0,134.3 909.7,137.7 905.0,141.0 C900.3,144.3 895.8,146.8 892.0,151.0 C888.2,155.2 885.3,161.8 882.0,166.0 C878.7,170.2 875.3,173.3 872.0,176.0 C868.7,178.7 864.7,179.7 862.0,182.0 C859.3,184.3 858.0,187.2 856.0,190.0 C854.0,192.8 852.7,195.5 850.0,199.0 C847.3,202.5 840.8,207.7 840.0,211.0 C839.2,214.3 843.3,216.8 845.0,219.0 C846.7,221.2 850.0,221.5 850.0,224.0 C850.0,226.5 845.8,229.3 845.0,234.0 C844.2,238.7 844.7,246.2 845.0,252.0 C845.3,257.8 846.2,264.0 847.0,269.0 C847.8,274.0 849.2,276.5 850.0,282.0 C850.8,287.5 852.0,297.3 852.0,302.0 C852.0,306.7 851.2,306.7 850.0,310.0 C848.8,313.3 847.0,317.0 845.0,322.0 C843.0,327.0 841.3,333.7 838.0,340.0 C834.7,346.3 829.3,354.7 825.0,360.0 C820.7,365.3 816.2,368.0 812.0,372.0 C807.8,376.0 804.2,379.8 800.0,384.0 C795.8,388.2 791.2,392.8 787.0,397.0 C782.8,401.2 778.5,404.8 775.0,409.0 C771.5,413.2 769.0,417.7 766.0,422.0 C763.0,426.3 759.7,430.5 757.0,435.0 C754.3,439.5 752.8,444.2 750.0,449.0 C747.2,453.8 743.0,459.3 740.0,464.0 C737.0,468.7 735.0,472.0 732.0,477.0 C729.0,482.0 723.7,491.2 722.0,494.0" fill="none" stroke="#000" stroke-opacity="0.55" stroke-width="0.9"/>
<path d="M852.0,302.0 C851.3,304.2 849.7,310.3 848.0,315.0 C846.3,319.7 844.5,325.0 842.0,330.0 C839.5,335.0 836.7,339.7 833.0,345.0 C829.3,350.3 824.5,357.0 820.0,362.0 C815.5,367.0 810.7,370.3 806.0,375.0 C801.3,379.7 796.3,385.5 792.0,390.0 C787.7,394.5 783.7,398.0 780.0,402.0 C776.3,406.0 773.0,409.8 770.0,414.0 C767.0,418.2 764.5,422.7 762.0,427.0 C759.5,431.3 756.2,437.8 755.0,440.0" fill="none" stroke="#000" stroke-opacity="0.55" stroke-width="0.9"/>
<path d="M690.0,436.0 C690.3,437.5 690.3,443.0 692.0,445.0 C693.7,447.0 697.8,446.3 700.0,448.0 C702.2,449.7 703.3,454.3 705.0,455.0 C706.7,455.7 708.2,451.5 710.0,452.0 C711.8,452.5 714.3,458.3 716.0,458.0 C717.7,457.7 718.0,451.8 720.0,450.0 C722.0,448.2 726.2,446.7 728.0,447.0 C729.8,447.3 731.0,449.5 731.0,452.0 C731.0,454.5 729.5,459.0 728.0,462.0 C726.5,465.0 724.0,467.3 722.0,470.0 C720.0,472.7 717.7,475.3 716.0,478.0 C714.3,480.7 713.7,483.7 712.0,486.0 C710.3,488.3 708.0,490.7 706.0,492.0 C704.0,493.3 701.0,493.7 700.0,494.0" fill="none" stroke="#000" stroke-opacity="0.55" stroke-width="0.9"/>
<path d="M690.0,436.0 C689.5,437.7 687.0,442.7 687.0,446.0 C687.0,449.3 690.2,452.8 690.0,456.0 C689.8,459.2 687.2,461.8 686.0,465.0 C684.8,468.2 684.0,471.7 683.0,475.0 C682.0,478.3 680.8,481.8 680.0,485.0 C679.2,488.2 678.3,492.5 678.0,494.0" fill="none" stroke="#000" stroke-opacity="0.55" stroke-width="0.9"/>
<path d="M810.0,46.0 C811.3,46.3 815.5,47.0 818.0,48.0 C820.5,49.0 823.0,50.7 825.0,52.0 C827.0,53.3 827.8,55.0 830.0,56.0 C832.2,57.0 835.5,58.2 838.0,58.0 C840.5,57.8 843.0,54.7 845.0,55.0 C847.0,55.3 849.8,58.5 850.0,60.0 C850.2,61.5 848.0,63.3 846.0,64.0 C844.0,64.7 840.7,64.3 838.0,64.0 C835.3,63.7 832.7,62.7 830.0,62.0 C827.3,61.3 823.3,60.3 822.0,60.0" fill="none" stroke="#000" stroke-opacity="0.55" stroke-width="0.9"/>
<path d="M882.0,146.0 C883.0,146.3 886.0,147.0 888.0,148.0 C890.0,149.0 893.7,150.3 894.0,152.0 C894.3,153.7 891.7,157.3 890.0,158.0 C888.3,158.7 885.0,156.3 884.0,156.0" fill="none" stroke="#000" stroke-opacity="0.55" stroke-width="0.9"/>
<path d="M418.0,358.0 C419.0,359.0 422.3,362.0 424.0,364.0 C425.7,366.0 428.0,368.0 428.0,370.0 C428.0,372.0 425.7,375.7 424.0,376.0 C422.3,376.3 419.7,373.7 418.0,372.0 C416.3,370.3 414.7,367.0 414.0,366.0" fill="none" stroke="#000" stroke-opacity="0.55" stroke-width="0.9"/>
<path d="M330.0,338.0 C331.7,337.3 336.3,333.7 340.0,334.0 C343.7,334.3 351.2,338.0 352.0,340.0 C352.8,342.0 347.7,344.7 345.0,346.0 C342.3,347.3 337.5,347.7 336.0,348.0" fill="none" stroke="#000" stroke-opacity="0.55" stroke-width="0.9"/>
<path d="M445.0,355.0 C446.2,354.5 450.2,351.5 452.0,352.0 C453.8,352.5 456.3,356.3 456.0,358.0 C455.7,359.7 451.0,361.3 450.0,362.0" fill="none" stroke="#000" stroke-opacity="0.55" stroke-width="0.9"/>
<path d="M150.0,318.0 C151.0,318.0 155.3,316.7 156.0,318.0 C156.7,319.3 155.0,324.0 154.0,326.0 C153.0,328.0 151.3,330.0 150.0,330.0 C148.7,330.0 146.7,326.7 146.0,326.0" fill="none" stroke="#000" stroke-opacity="0.55" stroke-width="0.9"/>
<clipPath id="polyclip"><path d="M466.0,271.5 C469.6,269.3 506.0,258.0 512.0,256.0 C518.0,254.0 534.1,248.3 538.0,247.0 C541.9,245.7 555.8,241.1 559.0,240.4 C562.2,239.7 574.0,238.5 577.0,238.3 C580.0,238.1 591.8,238.0 595.0,238.3 C598.2,238.6 612.1,240.9 616.0,241.7 C619.9,242.5 637.7,246.1 642.0,247.5 C646.3,248.9 663.7,256.6 668.0,258.6 C672.3,260.6 688.1,268.8 694.0,271.6 C699.9,274.4 731.0,288.4 739.0,292.0 C747.0,295.6 782.2,311.4 790.0,315.0 C797.8,318.6 827.4,333.2 832.0,335.5 C836.6,337.8 842.5,341.2 845.0,343.0 C847.5,344.8 859.2,354.7 862.0,357.0 C864.8,359.3 878.3,368.5 879.0,371.0 C879.7,373.5 872.2,384.0 870.0,387.0 C867.8,390.0 855.5,404.9 853.0,407.0 C850.5,409.1 842.6,411.4 840.0,412.0 C837.4,412.6 827.8,414.3 822.0,414.5 C816.2,414.7 780.2,414.7 770.0,414.5 C759.8,414.3 708.3,413.6 700.0,412.5 C691.7,411.4 675.0,403.1 670.0,401.0 C665.0,398.9 645.6,390.2 640.0,387.0 C634.4,383.8 608.2,365.5 603.0,362.0 C597.8,358.5 582.4,348.0 577.0,345.0 C571.6,342.0 544.5,329.1 538.0,326.0 C531.5,322.9 504.2,310.6 499.0,308.0 C493.8,305.4 478.5,297.2 476.0,295.0 C473.5,292.8 469.8,284.0 469.0,282.0 C468.2,280.0 462.4,273.7 466.0,271.5 Z"/></clipPath>
<g clip-path="url(#polyclip)"><path d="M470.0,272.0L472.0,271.0M472.0,271.0L473.9,271.1M473.9,271.1L472.1,269.8M472.1,269.8L470.1,269.0M470.1,269.0L467.9,269.2M473.9,271.1L477.5,270.8M477.5,270.8L478.4,270.3M478.4,270.3L478.6,268.1M478.6,268.1L476.7,267.0M476.7,267.0L475.8,269.1M476.7,267.0L474.5,267.0M474.5,267.0L475.4,265.0M478.6,268.1L478.5,265.9M478.5,265.9L476.3,265.6M476.3,265.6L474.4,264.5M478.5,265.9L477.9,263.8M477.9,263.8L476.4,262.1M476.4,262.1L475.5,260.1M475.5,260.1L476.3,258.1M476.3,258.1L477.7,256.3M477.7,256.3L478.7,254.4M478.4,270.3L481.4,270.2M481.4,270.2L480.7,268.1M480.7,268.1L482.9,267.9M482.9,267.9L482.0,269.9M482.9,267.9L485.0,267.3M480.7,268.1L480.1,266.0M480.1,266.0L481.3,264.2M481.3,264.2L481.5,262.0M480.1,266.0L479.5,263.9M479.5,263.9L479.7,261.7M481.4,270.2L483.3,269.1M483.3,269.1L483.9,271.3M483.9,271.3L486.0,271.4M486.0,271.4L487.0,269.4M486.0,271.4L487.9,272.5M483.9,271.3L484.4,273.4M484.4,273.4L484.5,275.6M484.5,275.6L482.5,276.5M483.3,269.1L485.4,269.6M485.4,269.6L484.4,267.6M484.4,267.6L483.3,269.5M483.3,269.5L481.1,270.0M484.4,267.6L483.1,265.9M483.1,265.9L485.0,264.8M485.0,264.8L484.0,262.8M483.1,265.9L482.2,263.9M485.4,269.6L487.7,269.1M487.7,269.1L487.4,266.9M487.4,266.9L489.2,265.7M489.2,265.7L490.1,267.7M489.2,265.7L491.3,265.1M491.3,265.1L490.2,263.3M487.4,266.9L487.1,264.7M487.1,264.7L485.8,263.0M485.8,263.0L487.2,261.4M485.8,263.0L485.1,260.9M487.7,269.1L490.2,268.7M490.2,268.7L489.9,266.5M489.9,266.5L490.5,264.4M490.5,264.4L491.1,262.3M490.2,268.7L493.2,266.8M493.2,266.8L495.7,267.5M495.0,267.0L497.2,266.2M497.2,266.2L499.2,267.0M499.2,267.0L501.6,266.1M501.6,266.1L504.4,265.5M504.4,265.5L504.6,263.3M504.6,263.3L505.0,261.1M505.0,261.1L506.4,259.4M506.4,259.4L506.5,257.2M506.5,257.2L504.8,255.8M506.5,257.2L505.8,255.1M505.8,255.1L507.4,253.6M506.4,259.4L507.9,257.8M504.4,265.5L505.5,266.1M505.5,266.1L508.8,266.0M508.8,266.0L511.3,265.9M511.3,265.9L511.1,263.7M511.1,263.7L509.1,264.6M511.1,263.7L510.1,261.7M510.1,261.7L512.0,260.7M512.0,260.7L514.0,261.6M510.1,261.7L508.2,260.6M511.3,265.9L512.3,264.7M512.3,264.7L515.4,264.3M515.4,264.3L515.9,266.4M515.9,266.4L515.3,268.5M515.3,268.5L513.8,270.2M513.8,270.2L511.6,270.0M511.6,270.0L511.2,272.2M515.4,264.3L516.9,264.9M516.9,264.9L520.0,264.0M520.0,264.0L520.2,261.8M520.2,261.8L520.3,259.7M520.3,259.7L521.3,257.7M521.3,257.7L523.2,258.7M520.0,264.0L521.3,263.8M521.3,263.8L522.3,265.7M522.3,265.7L523.3,267.7M523.3,267.7L524.8,266.1M524.8,266.1L523.9,264.1M523.3,267.7L523.3,269.9M521.3,263.8L523.9,263.2M523.9,263.2L526.6,263.8M526.6,263.8L527.0,261.7M527.0,261.7L524.8,261.9M524.8,261.9L523.0,263.2M527.0,261.7L527.3,259.5M527.3,259.5L527.7,257.3M526.6,263.8L528.4,262.7M528.4,262.7L530.6,262.4M530.6,262.4L531.5,260.4M531.5,260.4L531.8,258.2M531.8,258.2L532.4,256.1M532.4,256.1L530.4,256.9M530.4,256.9L528.2,256.5M532.4,256.1L532.5,253.9M532.5,253.9L532.9,251.7M532.9,251.7L533.7,249.7M531.0,263.0L533.8,263.9M533.8,263.9L534.1,261.7M534.1,261.7L534.7,259.6M534.7,259.6L534.9,257.4M534.9,257.4L534.0,255.4M534.0,255.4L532.3,254.0M534.9,257.4L534.8,255.2M533.8,263.9L536.2,263.4M536.2,263.4L536.9,262.9M536.9,262.9L538.7,261.6M538.7,261.6L540.0,259.8M540.0,259.8L540.9,257.8M540.9,257.8L540.6,255.6M540.6,255.6L540.3,253.5M540.3,253.5L539.3,251.5M536.9,262.9L539.1,263.2M539.1,263.2L539.5,265.4M539.5,265.4L540.8,267.1M540.8,267.1L541.4,269.2M541.4,269.2L539.3,269.9M539.3,269.9L537.9,271.6M539.3,269.9L537.2,270.4M541.4,269.2L541.3,271.4M541.3,271.4L543.2,272.5M543.2,272.5L544.8,274.0M544.8,274.0L546.9,274.6M539.1,263.2L541.9,263.6M541.9,263.6L542.0,261.4M542.0,261.4L539.8,261.1M539.8,261.1L537.7,261.7M542.0,261.4L541.5,259.3M541.5,259.3L542.7,257.4M542.7,257.4L543.9,255.6M541.5,259.3L540.2,257.6M540.2,257.6L538.4,256.2M538.4,256.2L536.6,257.4M536.6,257.4L535.0,259.0M538.4,256.2L536.2,256.0M536.2,256.0L536.1,253.8M536.1,253.8L536.4,251.6M536.4,251.6L538.5,252.2M541.9,263.6L543.8,264.6M543.8,264.6L545.7,263.9M545.7,263.9L549.5,264.1M549.5,264.1L548.1,262.3M548.1,262.3L550.3,261.9M550.3,261.9L552.4,262.3M548.1,262.3L546.3,261.0M546.3,261.0L544.5,259.8M544.5,259.8L543.6,261.8M543.6,261.8L543.0,263.9M543.0,263.9L543.2,266.1M544.5,259.8L542.5,258.9M542.5,258.9L540.4,258.3M540.4,258.3L538.2,258.4M538.2,258.4L536.9,256.6M536.9,256.6L535.0,255.6M549.5,264.1L551.3,264.9M551.3,264.9L552.1,262.8M552.1,262.8L554.2,263.5M552.1,262.8L552.7,260.7M552.7,260.7L554.8,261.5M554.8,261.5L557.0,261.3M552.7,260.7L553.2,258.5M551.3,264.9L553.4,264.1M553.4,264.1L553.9,262.0M553.9,262.0L556.1,261.7M556.1,261.7L558.0,260.5M553.9,262.0L553.4,259.8M553.4,259.8L553.7,257.6M553.7,257.6L553.8,255.4M553.4,264.1L555.8,264.5M555.8,264.5L557.2,264.2M557.2,264.2L559.5,264.6M559.5,264.6L561.5,264.2M562.0,265.0L564.1,265.6M564.1,265.6L565.0,267.6M565.0,267.6L566.7,269.1M566.7,269.1L568.1,270.8M564.1,265.6L566.1,265.0M566.1,265.0L566.4,267.2M566.4,267.2L565.5,269.2M565.5,269.2L563.4,268.6M563.4,268.6L561.3,269.3M565.5,269.2L563.8,270.7M563.8,270.7L561.7,271.3M566.1,265.0L568.5,265.0M568.5,265.0L568.4,262.8M568.4,262.8L568.3,260.6M568.3,260.6L567.1,258.7M567.1,258.7L565.4,257.3M565.4,257.3L563.9,255.7M563.9,255.7L562.1,256.9M562.1,256.9L561.1,258.9M561.1,258.9L562.3,260.7M568.5,265.0L570.4,265.5M570.4,265.5L570.3,267.7M570.3,267.7L571.7,269.4M571.7,269.4L573.6,268.3M571.7,269.4L573.5,270.6M570.3,267.7L569.1,269.6M569.1,269.6L571.1,270.6M571.1,270.6L573.3,270.5M573.3,270.5L573.8,268.4M573.8,268.4L575.1,266.6M573.3,270.5L575.3,269.8M575.3,269.8L576.9,271.3M569.1,269.6L567.3,270.8M567.3,270.8L565.1,271.1M565.1,271.1L566.6,272.8M566.6,272.8L568.2,274.2M565.1,271.1L563.2,272.2M570.4,265.5L573.8,265.7M573.8,265.7L572.7,263.8M572.7,263.8L572.2,261.7M572.2,261.7L574.3,261.0M574.3,261.0L575.6,259.2M574.3,261.0L575.9,259.5M572.2,261.7L571.0,259.8M571.0,259.8L570.5,257.7M573.8,265.7L575.7,265.5M575.7,265.5L576.1,267.6M576.1,267.6L576.6,269.8M576.6,269.8L577.6,271.7M577.6,271.7L578.9,273.5M575.7,265.5L578.0,266.9M578.0,266.9L577.6,264.7M577.6,264.7L575.4,264.6M575.4,264.6L574.4,266.5M575.4,264.6L573.6,263.4M573.6,263.4L571.6,264.4M573.6,263.4L572.1,261.7M577.6,264.7L578.2,262.6M578.2,262.6L577.9,260.4M577.9,260.4L576.5,258.7M576.5,258.7L574.8,257.3M578.0,266.9L579.8,266.2M579.8,266.2L582.6,267.3M582.6,267.3L585.0,266.8M585.0,266.8L585.8,268.9M585.8,268.9L584.0,270.1M584.0,270.1L583.4,272.2M584.0,270.1L582.7,271.9M582.7,271.9L581.0,270.4M585.8,268.9L585.8,271.1M585.8,271.1L586.6,273.1M585.0,267.0L586.9,267.0M586.9,267.0L588.4,268.6M588.4,268.6L590.5,269.1M588.4,268.6L590.3,269.8M590.3,269.8L591.9,271.2M586.9,267.0L588.9,266.7M588.9,266.7L592.3,267.3M592.3,267.3L593.0,269.4M593.0,269.4L594.3,271.1M594.3,271.1L596.5,271.1M594.3,271.1L596.2,272.2M592.3,267.3L594.2,266.0M594.2,266.0L594.1,263.8M594.1,263.8L595.0,261.8M595.0,261.8L596.6,260.3M596.6,260.3L597.9,258.5M597.9,258.5L598.2,256.3M598.2,256.3L600.2,255.3M600.2,255.3L602.1,254.3M598.2,256.3L597.6,254.2M597.6,254.2L599.1,252.6M599.1,252.6L600.2,250.7M594.2,266.0L596.0,266.2M596.0,266.2L599.3,266.0M599.3,266.0L599.3,268.2M599.3,268.2L598.5,270.3M598.5,270.3L597.0,271.9M599.3,266.0L600.2,265.3M600.2,265.3L603.2,266.7M603.2,266.7L603.5,268.8M603.5,268.8L605.7,268.4M603.5,268.8L602.7,270.9M602.7,270.9L604.2,272.5M604.2,272.5L603.2,274.5M602.7,270.9L601.1,272.4M603.2,266.7L605.8,266.1M605.8,266.1L607.0,265.7M607.0,265.7L609.0,266.3M609.0,266.3L609.6,268.4M609.6,268.4L611.1,270.0M611.1,270.0L612.2,272.0M612.2,272.0L611.0,273.8M611.0,273.8L610.3,275.9M609.0,266.3L612.1,265.4M612.1,265.4L614.2,265.3M614.2,265.3L614.3,267.5M614.3,267.5L613.7,269.6M613.7,269.6L613.3,271.7M613.3,271.7L611.1,272.2M613.3,271.7L614.0,273.8M614.2,265.3L615.8,265.6M615.8,265.6L618.8,264.4M618.8,264.4L620.8,265.7M620.8,265.7L620.7,263.5M620.7,263.5L622.9,263.2M622.9,263.2L625.1,263.4M625.1,263.4L625.7,265.5M625.1,263.4L627.2,263.9M620.7,263.5L620.5,261.3M620.5,261.3L622.4,260.1M622.4,260.1L622.6,257.9M622.4,260.1L623.9,258.5M623.9,258.5L626.0,258.0M620.5,261.3L620.4,259.1M620.4,259.1L620.0,257.0M620.0,257.0L619.7,254.8M621.0,265.0L623.9,264.7M623.9,264.7L625.7,265.6M625.7,265.6L627.4,266.9M627.4,266.9L629.8,266.9M629.8,266.9L629.7,264.7M629.7,264.7L629.1,262.6M629.1,262.6L629.5,260.4M629.5,260.4L630.7,258.6M630.7,258.6L632.4,257.2M632.4,257.2L634.1,258.6M634.1,258.6L636.2,259.2M636.2,259.2L637.7,257.7M632.4,257.2L633.3,255.2M629.8,266.9L631.8,267.0M631.8,267.0L634.0,267.4M634.0,267.4L635.8,266.2M635.8,266.2L636.8,264.2M636.8,264.2L638.8,263.3M638.8,263.3L640.9,262.6M636.8,264.2L638.1,262.4M638.1,262.4L640.1,261.5M640.1,261.5L641.7,260.0M634.0,267.4L636.0,267.7M636.0,267.7L636.4,265.5M636.4,265.5L637.1,263.4M637.1,263.4L639.2,263.0M639.2,263.0L641.4,263.4M641.4,263.4L641.2,265.6M641.4,263.4L643.4,264.3M637.1,263.4L637.9,261.4M637.9,261.4L638.5,259.3M638.5,259.3L638.2,257.1M638.2,257.1L637.1,255.2M636.0,267.7L638.6,268.2M638.6,268.2L638.0,270.3M638.0,270.3L636.7,272.1M636.7,272.1L636.0,274.2M638.6,268.2L642.0,267.9M642.0,267.9L642.7,268.4M642.7,268.4L642.1,266.3M642.1,266.3L641.0,264.3M641.0,264.3L641.5,262.2M641.5,262.2L639.4,261.9M641.5,262.2L642.4,260.1M642.4,260.1L640.4,259.1M641.0,264.3L641.0,262.1M641.0,262.1L640.1,260.1M640.1,260.1L638.0,260.9M638.0,260.9L637.8,263.1M638.0,260.9L635.8,260.9M640.1,260.1L640.1,257.9M640.1,257.9L641.3,256.1M641.3,256.1L639.2,255.3M641.3,256.1L641.6,253.9M641.6,253.9L639.5,253.2M642.7,268.4L645.5,269.8M645.5,269.8L644.4,271.7M644.4,271.7L643.8,273.8M643.8,273.8L642.5,275.6M642.5,275.6L643.6,277.5M643.6,277.5L645.7,276.7M643.6,277.5L644.7,279.5M644.7,279.5L646.8,279.8M642.5,275.6L640.7,276.9M640.7,276.9L639.1,275.4M639.1,275.4L637.1,274.6M637.1,274.6L635.7,272.9M635.7,272.9L633.8,274.1M640.7,276.9L638.7,277.6M645.5,269.8L648.5,269.7M648.5,269.7L647.0,271.4M647.0,271.4L645.4,272.8M645.4,272.8L644.1,274.6M644.1,274.6L642.6,276.3M642.6,276.3L644.3,277.7M644.3,277.7L645.8,279.3M645.8,279.3L644.7,281.2M642.6,276.3L641.1,277.9M641.1,277.9L639.2,276.8M639.2,276.8L640.0,274.7M639.2,276.8L637.1,276.2M637.1,276.2L635.3,274.9M648.0,269.5L650.0,271.9M650.0,271.9L651.4,272.5M651.4,272.5L653.6,272.7M653.6,272.7L654.1,270.6M654.1,270.6L656.3,270.7M654.1,270.6L653.7,268.4M653.7,268.4L655.8,268.2M653.6,272.7L655.8,272.8M655.8,272.8L656.2,275.0M656.2,275.0L655.9,277.2M655.8,272.8L658.0,272.7M658.0,272.7L660.2,273.2M660.2,273.2L662.4,273.0M662.4,273.0L664.4,273.8M651.4,272.5L653.2,275.0M653.2,275.0L654.8,276.0M654.8,276.0L655.7,274.0M655.7,274.0L655.9,271.8M655.9,271.8L655.9,269.6M655.9,269.6L658.1,270.0M658.1,270.0L660.3,270.0M660.3,270.0L660.8,272.2M654.8,276.0L655.7,278.0M655.7,278.0L657.3,279.1M657.3,279.1L659.4,280.5M659.4,280.5L661.0,279.0M661.0,279.0L663.1,278.4M663.1,278.4L662.4,276.3M662.4,276.3L661.3,274.3M661.3,274.3L661.9,272.2M661.3,274.3L661.3,272.1M663.1,278.4L665.3,278.2M665.3,278.2L667.2,277.1M667.2,277.1L668.7,278.7M668.7,278.7L670.3,280.2M670.3,280.2L672.2,278.9M667.2,277.1L668.7,275.5M659.4,280.5L661.4,283.1M661.4,283.1L660.0,284.8M660.0,284.8L657.8,284.7M657.8,284.7L655.7,285.2M660.0,284.8L659.3,286.9M659.3,286.9L657.2,287.4M657.2,287.4L655.0,287.6M655.0,287.6L653.4,286.0M659.3,286.9L659.6,289.1M659.6,289.1L660.2,291.1M661.4,283.1L662.8,284.0M662.8,284.0L664.6,285.4M664.6,285.4L664.5,287.6M664.5,287.6L662.3,287.4M664.5,287.6L665.2,289.7M665.2,289.7L665.6,291.8M664.6,285.4L666.3,288.1M666.0,287.5L667.5,289.0M667.5,289.0L668.0,291.9M668.0,291.9L669.8,290.5M669.8,290.5L670.7,292.5M670.7,292.5L672.2,294.1M672.2,294.1L674.4,294.1M669.8,290.5L671.5,289.1M671.5,289.1L672.6,291.0M672.6,291.0L670.8,292.2M672.6,291.0L673.4,293.0M671.5,289.1L672.9,287.4M668.0,291.9L669.0,293.5M669.0,293.5L669.3,295.8M669.3,295.8L670.7,298.1M670.7,298.1L668.6,297.8M668.6,297.8L668.9,295.6M668.9,295.6L670.9,294.7M668.9,295.6L669.2,293.5M668.6,297.8L666.4,297.2M666.4,297.2L664.3,297.0M664.3,297.0L662.5,295.6M662.5,295.6L660.6,294.5M664.3,297.0L662.1,297.0M670.7,298.1L671.8,298.9M671.8,298.9L669.7,299.2M669.7,299.2L667.5,299.3M667.5,299.3L665.3,299.1M665.3,299.1L663.1,298.7M663.1,298.7L660.9,299.0M671.8,298.9L672.9,301.9M672.9,301.9L673.9,299.9M673.9,299.9L673.7,297.8M673.7,297.8L672.7,295.8M672.7,295.8L674.0,294.0M674.0,294.0L673.2,291.9M674.0,294.0L675.7,292.6M672.7,295.8L672.2,293.7M672.9,301.9L673.3,303.8M673.3,303.8L675.8,305.8M675.8,305.8L673.9,306.9M673.9,306.9L671.9,307.9M671.9,307.9L670.7,309.7M675.0,305.5L676.3,308.3M676.3,308.3L678.3,309.3M678.3,309.3L679.7,307.5M678.3,309.3L680.5,309.4M680.5,309.4L682.7,309.0M676.3,308.3L676.1,310.3M676.1,310.3L677.3,311.5M677.3,311.5L679.1,312.9M679.1,312.9L677.6,314.5M677.6,314.5L675.9,315.9M675.9,315.9L674.9,314.0M679.1,312.9L681.2,313.4M681.2,313.4L683.4,313.1M683.4,313.1L685.6,312.8M685.6,312.8L687.7,312.3M687.7,312.3L688.0,314.5M688.0,314.5L687.5,316.7M677.3,311.5L677.4,315.3M677.4,315.3L678.0,316.4M678.0,316.4L680.2,316.7M680.2,316.7L682.2,317.6M682.2,317.6L683.2,315.6M683.2,315.6L684.7,314.0M682.2,317.6L684.3,318.0M684.3,318.0L686.2,316.8M686.2,316.8L688.3,316.6M684.3,318.0L686.4,317.5M686.4,317.5L688.6,317.7M688.6,317.7L689.5,315.6M689.5,315.6L691.1,314.2M678.0,316.4L677.6,318.8M677.6,318.8L679.0,321.0M679.0,321.0L676.8,320.7M676.8,320.7L674.6,320.5M674.6,320.5L672.5,321.0M672.5,321.0L672.8,323.2M672.8,323.2L672.4,325.4M672.5,321.0L670.6,322.1M670.6,322.1L668.7,323.2M679.0,321.0L679.3,323.4M679.3,323.4L677.2,324.0M677.2,324.0L676.5,326.1M676.5,326.1L676.5,328.3M677.2,324.0L675.2,325.1M675.2,325.1L675.1,322.9M675.1,322.9L673.0,322.4M675.1,322.9L674.0,321.0M674.0,321.0L676.2,320.9M675.2,325.1L673.0,325.2M673.0,325.2L672.1,323.2M672.1,323.2L669.9,323.4M672.1,323.2L671.0,321.3M673.0,325.2L671.0,326.1M679.5,323.5L679.8,325.3M679.8,325.3L677.9,324.2M677.9,324.2L675.8,324.9M677.9,324.2L676.0,323.1M676.0,323.1L677.3,321.3M677.3,321.3L679.4,322.2M677.3,321.3L678.1,319.3M678.1,319.3L680.2,320.0M676.0,323.1L674.8,321.3M679.8,325.3L678.5,328.7M678.5,328.7L677.6,330.8M677.6,330.8L675.5,330.0M675.5,330.0L676.2,327.9M676.2,327.9L677.6,326.2M675.5,330.0L673.6,328.9M673.6,328.9L672.5,330.8M673.6,328.9L671.6,328.0M671.6,328.0L671.3,325.8M677.6,330.8L677.4,332.0M677.4,332.0L675.4,332.7M675.4,332.7L673.2,333.1M673.2,333.1L671.1,332.6M671.1,332.6L669.3,331.3M669.3,331.3L668.7,333.4M668.7,333.4L669.3,335.5M668.7,333.4L669.2,335.5M677.4,332.0L676.9,335.5M676.9,335.5L674.9,334.6M674.9,334.6L672.7,334.3M672.7,334.3L670.7,335.0M670.7,335.0L668.8,336.2M668.8,336.2L670.2,337.9M670.2,337.9L670.9,340.0M676.9,335.5L677.2,337.4M677.2,337.4L679.0,338.6M679.0,338.6L681.2,339.1M681.2,339.1L680.6,341.2M680.6,341.2L680.6,343.4M680.6,343.4L679.5,345.3M679.5,345.3L678.3,343.5M681.2,339.1L683.4,339.0M683.4,339.0L684.6,340.9M684.6,340.9L686.1,342.5M683.4,339.0L685.3,340.1M685.3,340.1L683.7,341.6M683.7,341.6L681.7,340.9M683.7,341.6L683.0,343.7M685.3,340.1L687.3,341.0M687.3,341.0L688.9,339.4M688.9,339.4L689.2,337.3M688.9,339.4L689.4,337.3M689.4,337.3L690.5,335.4M690.5,335.4L692.7,335.0M677.2,337.4L676.9,339.6M676.9,339.6L678.7,340.9M678.7,340.9L680.7,339.9M680.7,339.9L682.1,338.2M678.7,340.9L680.1,342.6M680.1,342.6L681.5,341.0M681.5,341.0L683.1,339.4M680.1,342.6L680.4,344.8M680.4,344.8L681.2,346.9M681.2,346.9L679.2,347.7M679.2,347.7L677.3,348.9M676.9,339.6L676.0,341.2M676.0,341.2L673.8,341.2M673.8,341.2L671.6,341.2M671.6,341.2L670.0,339.6M670.0,339.6L668.3,338.2M671.6,341.2L669.4,341.2M669.4,341.2L668.6,343.3M668.6,343.3L668.4,345.4M669.4,341.2L667.4,340.3M676.0,341.2L675.1,343.8M675.1,343.8L676.8,345.2M676.8,345.2L675.6,347.0M675.6,347.0L674.5,348.9M676.8,345.2L677.7,347.1M677.7,347.1L679.1,348.8M679.1,348.8L680.0,350.8M680.0,350.8L678.0,351.8M678.0,351.8L676.8,350.0M678.0,351.8L676.1,352.8M676.1,352.8L676.1,355.0M675.1,343.8L675.8,345.8M675.0,346.0L673.6,348.8M673.6,348.8L672.1,347.2M672.1,347.2L669.9,346.8M672.1,347.2L670.0,346.5M670.0,346.5L667.9,346.0M673.6,348.8L672.7,349.7M672.7,349.7L672.9,351.6M672.9,351.6L670.7,351.5M670.7,351.5L669.8,353.5M669.8,353.5L668.3,355.1M670.7,351.5L668.8,350.4M668.8,350.4L666.7,351.0M666.7,351.0L664.6,350.5M668.8,350.4L666.8,349.5M672.9,351.6L672.3,354.4M672.3,354.4L670.2,353.8M670.2,353.8L668.1,353.1M668.1,353.1L666.1,352.1M666.1,352.1L666.4,350.0M672.3,354.4L670.8,356.0M670.8,356.0L668.8,355.0M668.8,355.0L666.7,354.7M666.7,354.7L664.9,353.5M664.9,353.5L663.2,354.9M663.2,354.9L661.9,356.7M661.9,356.7L660.7,358.5M664.9,353.5L663.4,351.8M663.4,351.8L661.9,350.2M661.9,350.2L661.9,348.0M661.9,348.0L664.1,347.4M661.9,348.0L662.2,345.8M670.8,356.0L670.8,358.3M670.8,358.3L668.6,358.3M668.6,358.3L666.5,358.6M666.5,358.6L666.5,356.4M666.5,356.4L667.3,354.4M666.5,358.6L664.3,358.1M664.3,358.1L662.2,358.3M662.2,358.3L662.6,360.5M662.6,360.5L662.8,362.7M662.2,358.3L660.2,357.4M670.8,358.3L668.5,360.2M668.5,360.2L668.1,362.7M668.1,362.7L666.1,363.5M666.1,363.5L666.8,365.5M666.1,363.5L664.0,364.2M664.0,364.2L661.9,364.7M668.1,362.7L667.0,363.9M667.0,363.9L666.2,365.8M666.2,365.8L664.8,364.1M664.8,364.1L663.5,365.9M663.5,365.9L661.5,366.7M663.5,365.9L661.6,367.0M664.8,364.1L663.1,362.7M663.1,362.7L661.3,361.4M661.3,361.4L662.0,359.3M662.0,359.3L662.1,357.1M662.1,357.1L660.6,355.5M661.3,361.4L659.3,360.6M659.3,360.6L657.9,358.9M666.2,365.8L666.7,368.1M666.7,368.1L668.2,369.7M668.2,369.7L670.3,369.1M670.3,369.1L672.0,370.5M668.2,369.7L669.0,371.8M669.0,371.8L669.4,373.9M669.4,373.9L670.0,376.0M666.0,368.5L665.6,370.6M665.6,370.6L663.4,370.5M663.4,370.5L661.4,371.3M661.4,371.3L659.9,372.9M659.9,372.9L660.4,375.0M660.4,375.0L658.8,376.6M665.6,370.6L665.8,372.5M665.8,372.5L664.7,374.8M664.7,374.8L666.9,374.9M666.9,374.9L668.7,376.0M668.7,376.0L670.7,377.0M670.7,377.0L672.9,377.1M672.9,377.1L675.0,377.7M675.0,377.7L675.8,379.7M675.8,379.7L677.3,381.3M677.3,381.3L678.6,379.6M678.6,379.6L679.3,377.5M677.3,381.3L678.0,383.4M678.0,383.4L676.3,384.8M676.3,384.8L674.3,385.7M675.0,377.7L677.2,377.2M677.2,377.2L677.6,379.4M677.6,379.4L677.1,381.5M664.7,374.8L663.6,377.1M663.6,377.1L661.9,375.8M661.9,375.8L661.1,373.7M661.1,373.7L661.3,371.5M661.3,371.5L663.4,371.0M663.4,371.0L665.0,369.5M665.0,369.5L663.5,368.0M663.6,377.1L664.1,379.8M664.1,379.8L664.0,382.1M664.0,382.1L661.9,381.7M661.9,381.7L659.7,381.6M659.7,381.6L660.0,379.4M660.0,379.4L661.5,377.7M659.7,381.6L657.7,382.6M657.7,382.6L657.0,380.5M664.0,382.1L663.2,384.8M663.2,384.8L665.3,385.6M665.3,385.6L667.3,386.5M667.3,386.5L668.9,388.0M668.9,388.0L670.5,389.5M670.5,389.5L672.4,390.5M672.4,390.5L673.9,392.1M663.2,384.8L662.4,386.0M662.4,386.0L662.5,388.8M662.5,388.8L664.7,388.7M664.7,388.7L664.7,386.5M664.7,386.5L663.9,384.5M664.7,388.7L666.9,388.6M666.9,388.6L669.0,388.9M669.0,388.9L669.5,391.1M669.5,391.1L671.6,391.4M669.5,391.1L670.7,392.9M669.0,388.9L670.8,390.2M670.8,390.2L672.9,390.8M662.5,388.8L662.0,390.8M662.0,390.8L660.6,392.5M660.6,392.5L659.6,394.5M659.6,394.5L657.4,394.5M657.4,394.5L655.2,394.9M655.2,394.9L653.4,396.1M659.6,394.5L658.6,396.4M658.6,396.4L657.9,398.5M661.5,391.0L661.7,393.6M661.7,393.6L662.6,396.1M662.6,396.1L660.5,395.8M660.5,395.8L658.4,395.1M658.4,395.1L657.5,397.1M657.5,397.1L657.5,399.3M658.4,395.1L656.9,393.5M656.9,393.5L656.2,391.4M656.2,391.4L654.7,389.8M662.6,396.1L662.9,398.2M662.9,398.2L661.0,399.2M661.0,399.2L658.8,399.4M658.8,399.4L657.0,400.7M657.0,400.7L655.4,402.2M655.4,402.2L657.0,403.7M658.8,399.4L656.7,400.1M656.7,400.1L655.2,401.7M662.9,398.2L663.3,400.2M663.3,400.2L663.8,401.9M663.8,401.9L665.8,401.1M665.8,401.1L668.0,401.1M668.0,401.1L670.0,400.2M670.0,400.2L669.3,398.1M669.3,398.1L669.0,395.9M670.0,400.2L672.2,400.3M672.2,400.3L673.2,402.2M673.2,402.2L674.2,404.2M663.8,401.9L665.0,404.9M558.0,240.0L558.5,241.9M558.5,241.9L560.7,241.7M560.7,241.7L562.8,241.0M558.5,241.9L559.4,245.0M559.4,245.0L558.7,247.2M558.7,247.2L558.6,249.5M558.6,249.5L559.6,251.8M559.6,251.8L559.8,255.1M559.8,255.1L561.7,254.1M561.7,254.1L562.0,251.9M562.0,251.9L560.6,250.2M561.7,254.1L563.3,252.5M563.3,252.5L564.9,251.0M560.0,255.0L561.1,258.0M561.1,258.0L562.0,259.9M562.0,259.9L561.5,261.9M561.5,261.9L563.3,264.9M563.3,264.9L564.2,266.5M564.2,266.5L562.6,268.0M562.6,268.0L561.7,270.0M561.7,270.0L560.6,271.9M560.6,271.9L560.5,274.1M560.5,274.1L562.7,273.9M562.7,273.9L564.6,272.9M560.5,274.1L561.1,276.2M561.1,276.2L559.9,278.0M559.9,278.0L558.4,279.6M558.4,279.6L557.6,281.7M564.2,266.5L564.6,269.5M564.6,269.5L564.2,271.3M564.2,271.3L562.1,270.6M562.1,270.6L559.9,270.4M559.9,270.4L558.5,268.7M558.5,268.7L557.1,267.0M557.1,267.0L557.5,264.8M559.9,270.4L557.8,269.9M564.2,271.3L565.0,274.0M565.0,274.0L566.6,276.2M566.6,276.2L566.2,277.7M566.2,277.7L564.4,279.0M564.4,279.0L563.6,276.9M563.6,276.9L562.2,275.2M562.2,275.2L560.9,273.5M564.4,279.0L562.5,280.1M562.5,280.1L564.0,281.8M564.0,281.8L565.5,283.4M562.5,280.1L560.8,281.5M560.8,281.5L560.1,283.6M560.1,283.6L559.7,285.8M559.7,285.8L557.7,285.1M557.7,285.1L555.5,285.2M585.0,243.0L585.0,245.9M585.0,245.9L586.9,244.7M586.9,244.7L589.0,244.4M585.0,245.9L586.6,247.5M586.6,247.5L584.5,247.2M584.5,247.2L582.8,248.6M582.8,248.6L581.0,249.9M584.5,247.2L582.3,246.7M582.3,246.7L580.2,247.3M586.6,247.5L586.9,250.2M586.9,250.2L584.9,249.2M584.9,249.2L583.0,250.3M583.0,250.3L580.9,251.2M580.9,251.2L580.9,253.4M584.9,249.2L582.7,248.8M582.7,248.8L580.7,248.1M580.7,248.1L578.5,248.3M578.5,248.3L578.6,250.5M578.6,250.5L577.7,252.5M578.5,248.3L576.3,248.0M586.9,250.2L588.4,251.3M588.4,251.3L586.3,251.9M586.3,251.9L586.5,254.0M586.5,254.0L585.8,256.1M586.3,251.9L584.5,253.1M584.5,253.1L582.3,253.3M582.3,253.3L580.4,254.4M580.4,254.4L578.2,254.7M588.4,251.3L588.0,253.2M588.0,253.2L589.9,256.1M589.9,256.1L589.5,257.7M590.0,258.0L590.8,260.1M590.8,260.1L590.9,261.9M590.9,261.9L592.8,263.0M592.8,263.0L594.7,264.0M594.7,264.0L596.2,265.6M596.2,265.6L595.9,267.8M595.9,267.8L595.0,269.8M595.0,269.8L596.1,271.8M596.2,265.6L596.9,267.7M590.9,261.9L591.5,264.6M591.5,264.6L592.9,266.6M592.9,266.6L593.0,269.0M593.0,269.0L593.9,271.7M593.9,271.7L591.7,271.7M591.7,271.7L589.6,272.0M589.6,272.0L587.5,272.9M587.5,272.9L586.5,270.9M586.5,270.9L584.5,270.1M586.5,270.9L585.8,268.8M585.8,268.8L583.8,268.0M587.5,272.9L585.7,274.0M585.7,274.0L586.2,276.2M586.2,276.2L587.2,278.2M593.9,271.7L593.9,274.6M593.9,274.6L591.8,275.3M591.8,275.3L590.4,276.9M590.4,276.9L589.9,279.1M530.0,265.0L531.9,267.2M531.9,267.2L534.1,267.0M534.1,267.0L536.3,267.2M536.3,267.2L538.0,268.6M538.0,268.6L539.9,269.7M536.3,267.2L538.5,266.8M531.9,267.2L532.5,269.5M532.5,269.5L533.7,271.3M533.7,271.3L535.7,271.9M535.7,271.9L537.9,272.2M537.9,272.2L538.1,274.4M537.9,272.2L540.0,273.0M540.0,273.0L539.1,275.0M539.1,275.0L540.5,276.7M539.1,275.0L539.1,277.2M539.1,277.2L537.1,278.1M540.0,273.0L542.2,272.8M535.7,271.9L536.9,274.7M536.9,274.7L538.3,275.5M538.3,275.5L540.3,274.8M540.3,274.8L541.9,273.2M541.9,273.2L543.6,274.6M541.9,273.2L543.5,271.7M543.5,271.7L542.7,269.6M538.3,275.5L538.1,277.9M538.1,277.9L540.3,278.3M540.3,278.3L542.3,279.2M542.3,279.2L544.5,279.3M544.5,279.3L545.0,277.2M542.3,279.2L544.5,279.0M538.1,277.9L540.2,280.1M540.0,280.0L542.0,282.5M542.0,282.5L543.8,283.3M543.8,283.3L542.1,284.7M542.1,284.7L540.1,285.6M543.8,283.3L545.4,284.7M545.4,284.7L547.6,287.2M547.6,287.2L549.4,289.1M549.4,289.1L549.6,290.5M549.6,290.5L551.7,289.7M551.7,289.7L553.8,289.3M553.8,289.3L556.0,289.0M556.0,289.0L558.2,289.1M549.6,290.5L551.7,292.1M551.7,292.1L549.8,293.2M549.8,293.2L548.0,291.9M549.8,293.2L547.7,293.6M547.7,293.6L547.4,291.4M552.0,292.0L555.0,292.6M555.0,292.6L556.1,294.2M556.1,294.2L555.0,296.1M555.0,296.1L553.5,297.7M553.5,297.7L551.5,298.7M556.1,294.2L557.8,295.8M557.8,295.8L561.2,296.7M561.2,296.7L560.1,298.7M560.1,298.7L559.5,300.8M559.5,300.8L559.4,303.0M559.4,303.0L557.3,303.2M561.2,296.7L563.2,298.1M563.2,298.1L564.8,300.0M564.8,300.0L564.4,302.2M564.4,302.2L565.2,304.2M565.2,304.2L567.1,305.3M567.1,305.3L565.7,307.1M567.1,305.3L568.5,307.1M568.5,307.1L566.3,307.6M565.2,304.2L565.0,306.4M565.0,306.4L565.1,308.6M565.1,308.6L562.9,308.2M562.9,308.2L561.0,309.4M562.9,308.2L560.7,308.6M565.0,300.0L567.2,301.0M567.2,301.0L568.5,301.8M568.5,301.8L570.4,303.8M570.4,303.8L572.6,303.7M572.6,303.7L574.8,303.5M574.8,303.5L576.8,302.5M576.8,302.5L577.6,304.6M577.6,304.6L577.9,306.8M576.8,302.5L578.1,300.7M570.4,303.8L572.6,305.4M572.6,305.4L573.8,305.8M573.8,305.8L575.9,305.3M575.9,305.3L577.6,303.9M573.8,305.8L576.6,307.5M576.6,307.5L575.2,309.2M575.2,309.2L575.1,311.4M575.1,311.4L573.0,312.1M575.2,309.2L573.6,310.6M573.6,310.6L571.4,310.4M571.4,310.4L570.9,308.3M576.6,307.5L577.6,308.0M577.6,308.0L579.8,309.9M579.8,309.9L580.9,308.0M580.9,308.0L582.0,306.2M582.0,306.2L584.1,307.0M582.0,306.2L582.1,304.0M582.1,304.0L584.3,303.8M584.3,303.8L586.5,303.6M582.1,304.0L582.1,301.8M520.0,280.0L520.4,282.0M520.4,282.0L521.6,284.9M521.6,284.9L520.1,286.5M520.1,286.5L518.6,288.1M518.6,288.1L516.8,289.4M516.8,289.4L517.0,291.6M516.8,289.4L515.1,290.7M521.6,284.9L523.0,285.8M523.0,285.8L525.1,285.6M525.1,285.6L527.1,284.7M527.1,284.7L527.1,282.5M527.1,282.5L529.1,281.7M523.0,285.8L524.2,288.6M524.2,288.6L526.2,287.8M526.2,287.8L527.9,286.4M524.2,288.6L525.1,290.7M525.1,290.7L526.7,293.1M526.7,293.1L524.7,294.0M524.7,294.0L522.7,294.8M522.7,294.8L521.4,293.0M521.4,293.0L519.7,291.7M519.7,291.7L519.6,289.5M522.7,294.8L521.1,296.4M521.1,296.4L522.1,298.3M522.1,298.3L524.3,298.5M522.1,298.3L523.9,299.5M521.1,296.4L519.6,298.0M519.6,298.0L517.4,298.0M517.4,298.0L516.8,295.9M517.4,298.0L515.2,297.8M526.7,293.1L527.3,295.0M527.3,295.0L528.8,293.5M528.8,293.5L530.8,292.4M530.8,292.4L532.9,291.8M532.9,291.8L532.1,289.7M532.1,289.7L529.9,290.0M532.1,289.7L530.9,287.9M532.9,291.8L534.8,290.7M534.8,290.7L533.6,288.8M533.6,288.8L531.8,287.5M531.8,287.5L530.8,289.4M528.0,295.0L528.4,296.5M528.4,296.5L530.5,296.0M530.5,296.0L530.4,298.2M530.4,298.2L532.4,299.0M530.5,296.0L532.7,295.8M528.4,296.5L530.3,298.5M530.3,298.5L528.1,298.5M528.1,298.5L526.1,297.8M530.3,298.5L531.5,301.3M531.5,301.3L531.2,304.2M531.2,304.2L530.8,306.4M530.8,306.4L531.1,308.5M531.1,308.5L530.8,310.7M530.8,310.7L533.0,310.2M533.0,310.2L534.9,311.3M533.0,310.2L534.7,308.8M530.8,310.7L531.6,312.8M531.2,304.2L532.3,305.4M532.3,305.4L530.3,306.5M530.3,306.5L528.4,307.5M528.4,307.5L528.2,305.3M528.2,305.3L528.3,303.1M528.4,307.5L526.2,307.8M526.2,307.8L524.1,307.2M524.1,307.2L522.0,308.0M522.0,308.0L519.8,307.9M519.8,307.9L519.6,305.8M532.3,305.4L534.7,308.4M534.7,308.4L532.5,308.0M532.5,308.0L530.3,307.8M530.3,307.8L530.0,305.6M530.0,305.6L531.5,303.9M530.0,305.6L530.5,303.4M530.3,307.8L528.2,307.3M534.7,308.4L534.7,309.4M534.7,309.4L533.4,311.1M533.4,311.1L531.2,311.1M531.2,311.1L530.6,313.2M533.4,311.1L532.4,313.1M532.4,313.1L533.4,315.1M532.4,313.1L531.6,315.2M534.7,309.4L536.7,312.0M480.0,268.0L480.5,270.9M480.5,270.9L482.2,272.3M482.2,272.3L483.4,274.1M483.4,274.1L481.4,275.1M480.5,270.9L482.3,272.2M482.3,272.2L482.6,275.1M482.6,275.1L483.7,277.2M483.7,277.2L481.8,278.3M481.8,278.3L479.7,279.0M479.7,279.0L477.6,279.7M483.7,277.2L485.8,279.3M485.0,280.0L486.7,281.8M486.7,281.8L487.3,279.7M487.3,279.7L485.6,278.3M485.6,278.3L484.3,280.0M485.6,278.3L484.9,276.2M487.3,279.7L487.3,277.5M487.3,277.5L486.2,275.6M486.7,281.8L487.7,282.8M487.7,282.8L489.5,285.1M489.5,285.1L490.5,287.5M490.5,287.5L488.8,288.9M488.8,288.9L489.9,290.8M489.9,290.8L492.1,290.8M489.9,290.8L491.2,292.6M488.8,288.9L487.5,290.7M487.5,290.7L486.3,292.5M486.3,292.5L484.3,293.5M490.5,287.5L492.4,288.4M492.4,288.4L490.6,289.5M490.6,289.5L488.4,290.0M492.4,288.4L494.0,290.0M494.0,290.0L492.4,291.5M492.4,291.5L490.5,290.5M490.5,290.5L489.6,292.6M490.5,290.5L488.9,288.9M492.4,291.5L491.1,293.3M491.1,293.3L490.3,295.3M490.3,295.3L492.3,296.3M490.3,295.3L488.8,296.9M494.0,290.0L495.7,291.5M495.7,291.5L497.8,290.7M497.8,290.7L499.7,289.7M499.7,289.7L501.9,289.3M495.0,292.0L496.5,294.2M496.5,294.2L499.0,295.5M499.0,295.5L500.4,296.5M500.4,296.5L499.9,298.7M499.9,298.7L497.8,299.4M499.9,298.7L498.7,300.5M500.4,296.5L502.4,298.7M502.4,298.7L505.0,300.6M622.0,262.0L623.4,260.5M623.4,260.5L624.6,257.4M624.6,257.4L625.3,256.2M625.3,256.2L623.3,255.4M623.3,255.4L621.7,253.9M621.7,253.9L623.6,252.7M623.6,252.7L625.6,251.9M625.6,251.9L626.8,253.8M621.7,253.9L620.1,252.4M625.3,256.2L626.8,254.1M626.8,254.1L626.3,252.1M626.3,252.1L628.4,251.9M628.4,251.9L630.6,251.9M630.6,251.9L631.7,250.0M631.7,250.0L632.2,247.8M632.2,247.8L634.4,247.9M630.6,251.9L632.8,252.4M626.3,252.1L627.8,250.0M628.0,250.0L630.0,249.8M630.0,249.8L633.3,249.1M633.3,249.1L635.4,249.9M635.4,249.9L637.2,251.0M637.2,251.0L639.2,252.0M633.3,249.1L634.7,247.4M634.7,247.4L633.9,245.4M633.9,245.4L633.9,243.2M633.9,243.2L634.5,241.1M634.5,241.1L636.2,242.4M636.2,242.4L637.6,244.1M637.6,244.1L639.7,243.7M634.5,241.1L635.6,239.2M634.7,247.4L637.7,247.0M637.7,247.0L639.7,245.8M639.7,245.8L638.0,244.4M638.0,244.4L636.8,242.6M636.8,242.6L636.3,240.4M640.0,246.0L642.8,246.8M642.8,246.8L641.1,248.2M641.1,248.2L642.2,250.1M641.1,248.2L639.2,249.3M639.2,249.3L637.7,251.0M637.7,251.0L635.6,250.4M635.6,250.4L633.5,249.9M633.5,249.9L632.2,251.7M642.8,246.8L643.5,248.2M643.5,248.2L646.4,247.8M646.4,247.8L648.6,248.7M648.6,248.7L648.8,250.9M648.8,250.9L646.7,251.7M646.7,251.7L645.8,253.7M648.8,250.9L648.5,253.1M648.5,253.1L647.6,255.1M648.6,248.7L651.1,250.9M651.1,250.9L652.5,249.2M652.5,249.2L653.2,247.1M653.2,247.1L653.6,245.0M651.1,250.9L653.3,251.8M653.3,251.8L653.1,249.6M653.1,249.6L651.2,250.8M651.2,250.8L652.3,252.8M653.1,249.6L653.0,247.4M653.0,247.4L651.8,245.5M653.3,251.8L655.0,252.7M640.0,268.0L642.3,269.0M642.3,269.0L643.9,267.5M643.9,267.5L645.3,265.8M645.3,265.8L645.7,263.7M645.7,263.7L643.9,262.4M642.3,269.0L643.8,270.7M643.8,270.7L642.4,272.4M642.4,272.4L644.2,273.7M644.2,273.7L646.3,274.2M642.4,272.4L640.7,273.8M640.7,273.8L638.8,272.7M638.8,272.7L636.9,271.6M640.7,273.8L638.8,274.9M638.8,274.9L640.6,276.1M640.6,276.1L642.6,277.1M643.8,270.7L644.7,273.4M644.7,273.4L643.7,275.4M643.7,275.4L645.6,276.6M643.7,275.4L642.6,277.3M644.7,273.4L647.3,275.0M647.3,275.0L649.0,276.9M649.0,276.9L649.2,278.3M650.0,278.0L651.9,279.6M651.9,279.6L651.8,281.8M651.8,281.8L650.7,283.7M650.7,283.7L650.2,285.8M651.8,281.8L650.8,283.7M650.8,283.7L649.8,285.7M651.9,279.6L654.4,280.4M654.4,280.4L656.1,278.9M656.1,278.9L657.5,277.2M657.5,277.2L657.8,275.1M654.4,280.4L655.6,280.7M655.6,280.7L657.1,279.1M657.1,279.1L658.3,277.3M658.3,277.3L660.2,276.3M660.2,276.3L660.6,274.1M660.6,274.1L660.7,271.9M660.2,276.3L662.4,276.3M655.6,280.7L658.7,281.3M658.7,281.3L657.2,282.9M657.2,282.9L656.3,284.9M656.3,284.9L655.3,286.8M655.3,286.8L654.9,289.0M658.7,281.3L659.7,282.8M659.7,282.8L661.6,281.8M661.6,281.8L663.7,281.2M663.7,281.2L665.4,279.8M665.4,279.8L663.5,278.7M663.5,278.7L661.3,278.6M665.4,279.8L666.2,277.7M659.7,282.8L661.4,283.4M661.4,283.4L659.4,284.3M659.4,284.3L657.8,282.7M659.4,284.3L657.2,284.6M657.2,284.6L655.3,283.5M655.3,283.5L653.9,281.9M657.2,284.6L655.3,285.6M666.0,287.0L668.8,288.1M668.8,288.1L668.2,286.0M668.2,286.0L667.9,283.8M667.9,283.8L668.9,281.9M668.8,288.1L670.5,288.9M670.5,288.9L672.6,288.8M672.6,288.8L672.8,286.6M672.8,286.6L675.0,286.5M672.8,286.6L672.1,284.5M672.1,284.5L670.1,283.6M670.1,283.6L668.6,285.2M672.1,284.5L670.9,282.7M672.6,288.8L675.0,289.5M675.0,289.5L674.9,291.7M674.9,291.7L675.8,293.8M675.0,289.5L678.0,290.5M678.0,290.5L676.9,292.4M676.9,292.4L677.9,294.4M677.9,294.4L678.8,296.4M678.8,296.4L681.0,296.4M676.9,292.4L675.0,293.5M675.0,293.5L673.2,294.8M673.2,294.8L671.1,294.1M671.1,294.1L668.9,294.1M668.9,294.1L669.0,291.9M673.2,294.8L672.1,296.7M678.0,290.5L680.2,291.4M680.2,291.4L680.6,293.5M680.6,293.5L682.6,294.4M682.6,294.4L684.4,295.7M684.4,295.7L685.0,293.6M680.6,293.5L681.4,295.6M681.4,295.6L681.2,297.8M681.2,297.8L683.1,298.9M683.1,298.9L685.3,298.5M680.0,292.0L682.1,293.7M682.1,293.7L682.3,291.5M682.3,291.5L680.1,291.7M682.3,291.5L681.9,289.4M681.9,289.4L681.5,287.2M682.1,293.7L684.3,295.1M684.3,295.1L686.0,296.0M686.0,296.0L685.0,297.9M685.0,297.9L687.1,298.6M687.1,298.6L689.3,298.5M685.0,297.9L685.3,300.1M685.3,300.1L686.1,302.2M686.1,302.2L686.7,304.3M686.0,296.0L688.0,296.2M688.0,296.2L687.8,298.3M687.8,298.3L686.8,300.3M686.8,300.3L687.6,302.3M688.0,296.2L690.3,297.8M690.3,297.8L691.7,296.1M691.7,296.1L692.1,294.0M690.3,297.8L692.2,298.1M692.2,298.1L691.8,300.2M691.8,300.2L689.7,299.4M691.8,300.2L692.3,302.4M692.3,302.4L690.4,303.5M690.4,303.5L689.3,301.6M692.2,298.1L694.6,299.6M694.6,299.6L693.0,301.1M693.0,301.1L691.5,302.7M695.0,300.0L697.1,300.9M697.1,300.9L699.3,300.6M699.3,300.6L701.2,299.4M701.2,299.4L703.1,298.4M697.1,300.9L697.7,303.7M697.7,303.7L696.9,305.7M696.9,305.7L695.7,307.6M695.7,307.6L695.4,309.8M697.7,303.7L700.6,305.2M700.6,305.2L701.6,306.6M701.6,306.6L700.9,308.7M700.9,308.7L699.8,310.6M699.8,310.6L698.2,312.0M698.2,312.0L697.3,314.0M701.6,306.6L703.0,308.4M703.0,308.4L703.8,306.4M703.8,306.4L704.2,304.2M704.2,304.2L702.6,302.7M702.6,302.7L700.6,301.7M700.6,301.7L700.4,299.6M704.2,304.2L703.4,302.2M703.4,302.2L701.2,302.1M701.2,302.1L699.3,300.9M699.3,300.9L697.7,302.4M703.4,302.2L702.5,300.1M702.5,300.1L704.0,298.5M704.0,298.5L701.9,297.6M704.0,298.5L704.5,296.4M704.5,296.4L706.4,295.3M703.0,308.4L705.0,309.4M600.0,266.0L601.8,268.8M601.8,268.8L602.5,270.5M602.5,270.5L604.6,271.2M604.6,271.2L606.7,270.3M606.7,270.3L608.8,270.0M604.6,271.2L606.8,271.2M606.8,271.2L608.0,273.0M606.8,271.2L609.0,271.4M609.0,271.4L610.0,273.3M602.5,270.5L603.1,273.4M603.1,273.4L605.2,273.6M605.2,273.6L607.4,274.2M603.1,273.4L603.5,275.0M603.5,275.0L604.6,277.1M604.6,277.1L602.5,276.5M602.5,276.5L600.3,276.4M600.3,276.4L598.4,275.2M600.3,276.4L598.3,277.3M604.6,277.1L605.4,280.7M606.0,280.0L607.1,281.5M607.1,281.5L605.5,282.9M605.5,282.9L607.3,284.1M605.5,282.9L603.4,283.7M603.4,283.7L601.4,284.6M607.1,281.5L609.1,283.9M609.1,283.9L609.7,286.4M609.7,286.4L610.5,287.3M610.5,287.3L611.3,290.7M611.3,290.7L613.2,289.5M613.2,289.5L615.4,289.2M615.4,289.2L617.5,288.5M662.0,332.0L663.2,333.6M663.2,333.6L666.0,333.9M666.0,333.9L667.7,335.9M667.7,335.9L668.9,337.7M668.9,337.7L670.9,338.1M670.9,338.1L668.9,339.0M668.9,339.0L666.8,339.9M666.8,339.9L665.6,338.0M665.6,338.0L667.5,336.8M665.6,338.0L665.0,335.9M666.8,339.9L664.8,340.7M670.9,338.1L672.8,340.3M672.8,340.3L670.7,340.8M670.7,340.8L668.7,341.8M668.7,341.8L666.5,342.0M666.5,342.0L664.3,341.8M664.3,341.8L665.3,343.8M665.3,343.8L666.1,345.8M672.8,340.3L675.3,340.8M675.3,340.8L676.9,342.0M676.9,342.0L676.1,344.1M676.1,344.1L676.5,346.2M676.5,346.2L676.2,348.4M676.9,342.0L678.3,344.4M678.3,344.4L680.2,344.3M680.0,345.0L681.4,345.6M681.4,345.6L681.7,347.7M681.7,347.7L682.3,349.8M682.3,349.8L683.3,351.8M683.3,351.8L683.5,354.0M683.5,354.0L684.5,356.0M681.4,345.6L684.3,347.5M684.3,347.5L685.1,348.9M685.1,348.9L687.7,349.2M687.7,349.2L690.2,351.1M690.2,351.1L690.5,353.3M690.5,353.3L689.9,355.4M689.9,355.4L687.7,355.5M687.7,355.5L687.1,353.4M689.9,355.4L689.5,357.6M690.2,351.1L692.3,351.8M692.3,351.8L690.4,352.9M690.4,352.9L689.2,354.8M689.2,354.8L687.4,356.1M692.3,351.8L693.6,352.6M693.6,352.6L695.8,353.4M695.8,353.4L693.8,354.3M693.8,354.3L691.7,354.9M691.7,354.9L689.6,355.4M689.6,355.4L689.3,357.6M689.3,357.6L688.4,359.6M689.6,355.4L687.7,356.6M695.8,353.4L698.0,354.6M697.5,355.0L700.5,355.6M700.5,355.6L700.1,353.4M700.1,353.4L698.2,354.4M698.2,354.4L696.1,355.1M700.1,353.4L700.5,351.3M700.5,351.3L700.1,349.1M700.1,349.1L698.0,348.5M698.0,348.5L697.1,350.5M700.5,355.6L702.3,355.9M702.3,355.9L703.4,354.0M703.4,354.0L704.3,352.0M704.3,352.0L704.7,349.9M704.7,349.9L706.2,348.2M702.3,355.9L704.7,357.7M704.7,357.7L706.2,356.1M706.2,356.1L704.7,354.6M706.2,356.1L708.1,355.0M708.1,355.0L710.2,354.3M710.2,354.3L709.7,356.4M704.7,357.7L705.8,357.1M705.8,357.1L709.0,357.9M709.0,357.9L709.6,355.8M709.6,355.8L707.8,354.6M707.8,354.6L705.8,353.7M709.6,355.8L710.1,353.7M710.1,353.7L712.0,352.7M710.1,353.7L711.1,351.7M709.0,357.9L711.0,358.8M711.0,358.8L713.2,359.9M713.2,359.9L715.1,360.4M715.1,360.4L716.0,358.4M716.0,358.4L717.3,356.6M717.3,356.6L717.8,354.5M715.1,360.4L717.9,360.5M717.9,360.5L720.4,361.8M720.0,362.0L722.9,362.5M722.9,362.5L722.7,364.7M722.7,364.7L724.8,365.1M724.8,365.1L726.1,363.3M724.8,365.1L727.0,365.2M727.0,365.2L729.0,364.4M722.7,364.7L722.1,366.8M722.1,366.8L721.7,369.0M721.7,369.0L722.8,370.9M722.8,370.9L723.9,372.8M721.7,369.0L721.6,371.2M722.9,362.5L725.0,362.9M725.0,362.9L725.2,365.1M725.2,365.1L723.0,365.2M723.0,365.2L721.0,366.3M721.0,366.3L722.0,368.3M725.2,365.1L725.9,367.2M725.9,367.2L726.1,369.4M726.1,369.4L725.3,371.4M725.3,371.4L723.7,372.9M723.7,372.9L723.9,375.0M723.9,375.0L724.5,377.2M724.5,377.2L726.3,376.0M725.0,362.9L726.0,363.3M726.0,363.3L726.9,361.3M726.9,361.3L728.1,359.5M728.1,359.5L729.0,357.5M726.0,363.3L728.9,364.4M728.9,364.4L730.2,362.6M730.2,362.6L730.7,360.5M728.9,364.4L731.7,365.5M731.7,365.5L733.4,366.1M733.4,366.1L736.2,366.6M736.2,366.6L737.2,367.1M737.2,367.1L737.4,369.3M737.4,369.3L739.6,368.9M739.6,368.9L741.7,368.5M737.4,369.3L737.1,371.5M737.1,371.5L736.0,373.4M736.0,373.4L734.5,375.0M734.5,375.0L733.6,373.0M733.6,373.0L733.8,370.8M737.2,367.1L740.0,367.7M740.0,367.7L741.0,365.7M741.0,365.7L742.4,364.0M742.4,364.0L744.0,365.5M744.0,365.5L744.7,367.6M742.4,364.0L744.5,363.3M744.5,363.3L746.7,363.4M746.7,363.4L745.8,365.4M745.8,365.4L745.1,367.5M746.7,363.4L748.7,362.5M740.0,367.7L741.9,368.1M741.9,368.1L742.2,370.3M742.2,370.3L742.2,372.5M742.2,372.5L740.3,373.5M740.3,373.5L738.4,372.3M740.3,373.5L738.3,374.5M742.2,372.5L741.7,374.7M741.7,374.7L741.8,376.9M742.5,368.5L744.5,369.0M744.5,369.0L747.7,368.3M747.7,368.3L749.7,368.9M749.7,368.9L752.1,369.9M752.1,369.9L753.5,370.3M753.5,370.3L755.6,370.0M755.6,370.0L757.5,368.9M757.5,368.9L759.5,369.7M759.5,369.7L760.7,367.9M759.5,369.7L761.4,370.9M761.4,370.9L763.5,371.5M763.5,371.5L764.2,369.4M757.5,368.9L759.7,368.7M759.7,368.7L759.3,370.9M759.3,370.9L758.2,372.7M759.7,368.7L761.6,367.6M761.6,367.6L763.8,367.2M763.8,367.2L766.0,367.4M766.0,367.4L767.1,369.3M767.1,369.3L768.8,367.9M767.1,369.3L768.9,370.6M755.6,370.0L758.2,369.9M758.2,369.9L758.6,372.1M758.6,372.1L759.2,374.2M759.2,374.2L758.7,376.3M758.7,376.3L756.6,375.5M756.6,375.5L754.5,376.0M756.6,375.5L754.6,374.7M758.7,376.3L757.5,378.2M758.2,369.9L760.8,370.5M760.8,370.5L762.3,371.5M762.3,371.5L764.5,370.5M764.5,370.5L762.7,371.8M762.7,371.8L763.0,374.0M762.7,371.8L760.7,372.6M760.7,372.6L760.0,374.7M760.0,374.7L758.9,376.6M758.9,376.6L761.0,377.0M760.7,372.6L758.5,372.4M765.0,371.0L767.3,371.0M767.3,371.0L769.6,370.9M769.6,370.9L772.5,372.2M772.5,372.2L773.1,370.1M773.1,370.1L773.2,367.9M773.2,367.9L773.0,365.7M772.5,372.2L773.3,372.3M773.3,372.3L775.6,372.4M775.6,372.4L775.1,370.3M775.1,370.3L772.9,370.7M772.9,370.7L772.9,368.5M772.9,370.7L771.0,371.7M771.0,371.7L770.1,373.7M775.1,370.3L773.7,368.5M773.7,368.5L771.7,369.4M771.7,369.4L770.5,371.2M771.7,369.4L770.4,371.1M773.7,368.5L772.1,367.0M772.1,367.0L771.2,365.1M771.2,365.1L770.0,363.2M775.6,372.4L777.8,373.0M777.8,373.0L780.0,373.2M780.0,373.2L779.3,371.1M779.3,371.1L780.6,369.4M779.3,371.1L777.6,369.6M777.6,369.6L775.9,368.2M780.0,373.2L782.5,372.5M782.5,372.5L784.6,372.8M784.6,372.8L787.6,373.0M787.5,373.0L790.1,373.4M790.1,373.4L792.5,372.7M792.5,372.7L793.9,371.0M793.9,371.0L794.7,368.9M794.7,368.9L795.3,366.8M795.3,366.8L794.9,364.6M792.5,372.7L793.5,372.6M793.5,372.6L793.4,370.4M793.4,370.4L792.7,368.3M792.7,368.3L791.7,366.3M791.7,366.3L792.9,364.5M792.9,364.5L790.7,364.4M792.9,364.5L794.1,362.6M791.7,366.3L790.1,364.8M793.5,372.6L796.5,373.5M796.5,373.5L797.6,375.4M797.6,375.4L799.5,376.5M799.5,376.5L799.7,374.3M799.5,376.5L801.6,377.0M801.6,377.0L802.3,379.1M796.5,373.5L798.4,373.8M798.4,373.8L799.2,371.7M799.2,371.7L797.0,371.5M797.0,371.5L794.9,372.3M794.9,372.3L793.5,373.9M799.2,371.7L801.0,370.4M801.0,370.4L801.1,372.6M801.1,372.6L801.9,374.6M801.0,370.4L802.7,369.0M802.7,369.0L804.2,367.4M798.4,373.8L801.1,372.6M801.1,372.6L801.8,370.5M801.8,370.5L804.0,370.6M804.0,370.6L806.2,370.8M806.2,370.8L805.7,373.0M801.8,370.5L801.3,368.3M801.3,368.3L803.4,367.5M801.3,368.3L800.4,366.3M800.4,366.3L800.1,364.1M801.1,372.6L802.8,372.6M802.8,372.6L805.7,373.3M805.7,373.3L808.1,372.6M808.1,372.6L808.2,374.8M808.2,374.8L807.5,376.9M807.5,376.9L808.8,378.7M808.8,378.7L810.6,380.0M810.6,380.0L812.7,379.4M807.5,376.9L806.0,378.5M806.0,378.5L804.0,379.4M808.1,372.6L809.9,372.7M810.0,373.0L811.7,372.5M811.7,372.5L813.2,370.8M813.2,370.8L813.9,368.7M813.9,368.7L814.4,366.6M814.4,366.6L816.6,366.6M816.6,366.6L818.0,364.9M816.6,366.6L818.8,367.2M818.8,367.2L818.8,369.4M814.4,366.6L814.2,364.4M814.2,364.4L812.5,363.0M812.5,363.0L810.5,362.1M814.2,364.4L814.1,362.2M814.1,362.2L812.2,361.0M812.2,361.0L811.8,358.9M812.2,361.0L810.3,360.0M811.7,372.5L815.1,372.4M815.1,372.4L816.3,373.6M816.3,373.6L817.5,371.7M817.5,371.7L818.2,369.6M816.3,373.6L819.0,373.8M819.0,373.8L820.0,375.7M820.0,375.7L821.2,377.6M821.2,377.6L822.9,378.9M822.9,378.9L823.8,380.9M819.0,373.8L821.6,373.7M821.6,373.7L823.2,373.6M823.2,373.6L825.1,373.6M825.1,373.6L824.9,371.5M824.9,371.5L824.9,369.3M824.9,369.3L824.0,367.2M824.0,367.2L823.2,365.2M825.1,373.6L828.6,372.5M828.6,372.5L830.0,372.7M830.0,372.7L832.6,372.7M832.6,372.7L831.1,374.3M831.1,374.3L830.5,376.4M830.5,376.4L830.7,378.6M830.7,378.6L832.8,377.9M832.8,377.9L832.2,375.8M832.5,373.0L834.3,373.4M834.3,373.4L834.4,375.6M834.4,375.6L834.8,377.7M834.3,373.4L836.3,372.9M836.3,372.9L839.3,372.0M839.3,372.0L839.1,369.8M839.1,369.8L838.1,367.9M838.1,367.9L836.7,366.1M836.7,366.1L834.8,365.1M839.3,372.0L841.7,372.0M841.7,372.0L842.4,369.9M842.4,369.9L842.5,367.7M842.5,367.7L843.4,365.7M843.4,365.7L844.7,364.0M841.7,372.0L843.7,373.3M843.7,373.3L846.2,371.8M846.2,371.8L847.5,373.0M847.5,373.0L850.9,371.8M850.9,371.8L852.2,372.6M852.2,372.6L854.2,372.6M854.2,372.6L855.2,374.6M855.2,374.6L856.5,376.4M856.5,376.4L856.4,378.6M856.4,378.6L857.4,380.5M857.4,380.5L858.0,382.6M858.0,382.6L860.1,381.9M860.1,381.9L862.3,381.8M856.5,376.4L858.2,377.8M858.2,377.8L859.3,379.6M859.3,379.6L861.0,381.1M861.0,381.1L860.6,383.3M860.6,383.3L860.4,385.5M860.4,385.5L860.2,387.7M860.2,387.7L861.6,389.4M855.0,372.0L856.8,372.2M856.8,372.2L858.3,370.6M858.3,370.6L859.6,368.7M859.6,368.7L861.0,367.1M861.0,367.1L862.9,366.0M856.8,372.2L859.3,371.2M859.3,371.2L860.5,373.1M860.5,373.1L862.6,372.4M862.6,372.4L864.8,372.6M864.8,372.6L866.0,374.4M860.5,373.1L861.5,375.0M861.5,375.0L862.9,376.8M862.9,376.8L863.4,378.9M863.4,378.9L865.6,379.1M865.6,379.1L867.3,377.7M865.6,379.1L867.7,379.8M863.4,378.9L864.1,381.0M859.3,371.2L862.5,371.1M862.5,371.1L863.8,372.8M863.8,372.8L865.3,374.5M865.3,374.5L867.2,373.3M867.2,373.3L869.1,372.2M865.3,374.5L866.8,376.1M866.8,376.1L868.9,376.7M868.9,376.7L871.1,376.7M871.1,376.7L872.2,374.8M872.2,374.8L870.1,374.2M872.2,374.8L872.4,372.6M862.5,371.1L864.8,371.0M864.8,371.0L866.0,372.8M866.0,372.8L866.3,375.0M866.3,375.0L868.0,376.4M868.0,376.4L870.0,375.5M868.0,376.4L869.8,377.6M866.3,375.0L866.1,377.2M866.1,377.2L868.2,377.9M868.2,377.9L870.3,378.6M870.3,378.6L872.3,377.6M866.1,377.2L866.2,379.4M864.8,371.0L866.1,371.1M866.1,371.1L866.0,373.3M866.0,373.3L866.5,375.4M866.5,375.4L866.1,377.6M866.1,377.6L866.3,379.8M866.3,379.8L868.5,379.6M868.5,379.6L870.6,380.3M870.6,380.3L871.0,382.4M866.1,371.1L868.1,371.2M868.1,371.2L867.8,369.0M867.8,369.0L868.1,366.9M868.1,366.9L870.0,365.7M868.1,366.9L868.0,364.7M868.1,371.2L870.5,370.5M870.5,370.5L872.7,371.5M872.7,371.5L872.5,369.3M872.5,369.3L871.3,367.4M871.3,367.4L869.8,365.8M869.8,365.8L871.8,364.8M871.8,364.8L873.7,366.0M871.8,364.8L873.7,363.7M873.7,363.7L874.3,361.6M869.8,365.8L868.2,364.3M812.0,334.0L812.1,335.7M812.1,335.7L810.7,337.4M810.7,337.4L809.1,338.9M809.1,338.9L807.4,340.3M807.4,340.3L809.3,341.4M809.3,341.4L811.3,342.4M811.3,342.4L809.8,344.0M807.4,340.3L805.8,341.8M812.1,335.7L812.2,339.1M812.2,339.1L814.4,339.0M814.4,339.0L814.6,336.8M814.6,336.8L812.4,336.8M814.4,339.0L816.4,340.1M816.4,340.1L818.2,341.3M818.2,341.3L819.8,339.9M819.8,339.9L821.2,338.1M821.2,338.1L820.9,335.9M812.2,339.1L813.4,341.2M813.4,341.2L812.3,343.1M812.3,343.1L811.5,345.1M811.5,345.1L810.4,347.1M810.4,347.1L810.3,349.3M813.4,341.2L813.5,342.9M813.5,342.9L811.3,343.4M811.3,343.4L809.3,344.3M809.3,344.3L807.1,344.4M813.5,342.9L814.9,345.0M814.9,345.0L814.8,347.2M814.8,347.2L815.2,350.5M815.0,350.0L814.8,353.1M814.8,353.1L812.7,353.6M812.7,353.6L813.1,355.8M813.1,355.8L813.4,358.0M812.7,353.6L810.5,353.3M810.5,353.3L808.3,353.1M808.3,353.1L806.2,353.7M814.8,353.1L816.1,355.8M816.1,355.8L813.9,355.3M813.9,355.3L812.0,354.3M812.0,354.3L810.0,353.3M816.1,355.8L816.1,357.9M816.1,357.9L817.7,360.5M817.7,360.5L817.1,363.0M817.1,363.0L815.0,362.5M815.0,362.5L813.4,364.0M813.4,364.0L811.4,363.1M813.4,364.0L811.7,365.5M815.0,362.5L813.1,361.4M813.1,361.4L811.0,360.7M811.0,360.7L809.8,362.5M809.8,362.5L809.6,364.7M811.0,360.7L808.8,360.3M808.8,360.3L807.5,362.1M807.5,362.1L806.4,364.0M808.8,360.3L806.7,360.9M817.1,363.0L817.5,364.3M818.0,365.0L817.8,367.7M817.8,367.7L819.3,369.5M819.3,369.5L820.3,371.4M820.3,371.4L819.0,373.2M819.0,373.2L818.4,375.3M818.4,375.3L817.7,377.4M820.3,371.4L820.5,373.7M820.5,373.7L821.4,375.8M821.4,375.8L819.6,377.1M819.6,377.1L817.4,377.5M817.4,377.5L817.1,375.3M821.4,375.8L821.8,377.6M821.8,377.6L824.0,377.1M824.0,377.1L825.8,375.8M825.8,375.8L827.6,377.1M825.8,375.8L827.5,374.5M827.5,374.5L826.1,372.8M826.1,372.8L824.0,373.1M821.8,377.6L822.7,379.9M822.0,380.0L823.0,382.3M823.0,382.3L821.4,383.8M821.4,383.8L820.8,385.9M820.8,385.9L819.2,387.4M819.2,387.4L820.8,389.0M820.8,385.9L820.2,388.0M823.0,382.3L822.5,384.1M822.5,384.1L820.4,383.6M820.4,383.6L818.2,383.0M818.2,383.0L816.6,384.4M818.2,383.0L816.2,382.2M816.2,382.2L817.6,380.5M817.6,380.5L818.8,382.3M817.6,380.5L819.5,379.4M822.5,384.1L823.3,386.6M823.3,386.6L821.7,388.1M821.7,388.1L822.5,390.1M822.5,390.1L822.2,392.3M822.2,392.3L820.0,391.7M821.7,388.1L820.8,390.1M820.8,390.1L820.4,392.2M820.4,392.2L821.0,394.3M821.0,394.3L822.9,395.3M822.9,395.3L825.1,395.8M823.3,386.6L823.7,388.2M823.7,388.2L825.4,391.1M825.4,391.1L826.2,393.3M826.2,393.3L825.4,395.5M826.0,395.0L826.4,397.4M826.4,397.4L828.7,399.4M828.7,399.4L826.7,400.2M826.7,400.2L824.5,400.0M824.5,400.0L822.7,401.3M822.7,401.3L821.2,399.7M828.7,399.4L829.1,401.8M829.1,401.8L830.6,404.9M765.0,340.0L767.0,341.5M767.0,341.5L766.4,339.4M766.4,339.4L766.7,337.2M766.7,337.2L764.8,336.1M767.0,341.5L768.7,342.5M768.7,342.5L770.7,343.3M770.7,343.3L773.6,344.1M773.6,344.1L772.4,346.0M772.4,346.0L772.0,348.1M773.6,344.1L774.2,345.6M774.2,345.6L773.9,347.8M773.9,347.8L771.7,347.7M771.7,347.7L770.9,345.6M773.9,347.8L773.0,349.8M773.0,349.8L770.8,349.8M773.0,349.8L772.3,351.9M775.0,345.0L776.2,345.7M776.2,345.7L775.1,347.6M775.1,347.6L774.7,349.8M774.7,349.8L774.9,352.0M774.9,352.0L777.0,352.4M777.0,352.4L779.1,353.1M774.9,352.0L775.3,354.1M776.2,345.7L779.7,346.9M779.7,346.9L781.6,347.6M781.6,347.6L783.4,346.4M783.4,346.4L784.7,344.6M784.7,344.6L786.7,345.6M786.7,345.6L788.6,346.7M784.7,344.6L785.1,342.5M781.6,347.6L782.4,348.9M782.4,348.9L781.0,350.5M781.0,350.5L778.9,351.2M778.9,351.2L776.7,350.9M776.7,350.9L776.5,348.7M776.5,348.7L775.2,346.9M782.4,348.9L785.5,349.8M785.0,350.0L786.3,351.9M786.3,351.9L784.4,353.1M784.4,353.1L785.1,355.2M784.4,353.1L782.4,353.9M782.4,353.9L780.4,354.9M786.3,351.9L788.1,352.7M788.1,352.7L786.2,353.9M786.2,353.9L784.2,354.8M784.2,354.8L783.6,352.7M783.6,352.7L782.0,351.1M784.2,354.8L782.2,355.7M782.2,355.7L780.0,355.8M780.0,355.8L779.1,353.8M779.1,353.8L778.1,351.8M788.1,352.7L790.3,353.8M790.3,353.8L792.3,352.8M792.3,352.8L794.0,351.4M794.0,351.4L796.1,352.0M794.0,351.4L794.8,349.4M790.3,353.8L792.2,355.6M792.2,355.6L793.6,353.9M793.6,353.9L795.6,353.0M795.6,353.0L797.8,352.7M797.8,352.7L798.6,354.8M655.0,356.0L655.4,357.9M655.4,357.9L656.5,360.4M656.5,360.4L656.9,362.1M656.9,362.1L657.7,365.4M657.7,365.4L656.4,367.1M656.4,367.1L655.3,369.0M655.3,369.0L654.0,370.8M657.7,365.4L659.3,367.2M659.3,367.2L658.5,370.3M658.5,370.3L656.4,371.0M656.4,371.0L654.2,371.3M654.2,371.3L652.3,372.3M658.5,370.3L660.0,372.6M660.0,372.6L662.1,372.3M662.1,372.3L661.7,374.4M661.7,374.4L659.6,375.1M662.1,372.3L664.2,371.5M664.2,371.5L665.7,369.9M660.0,372.0L661.4,374.1M661.4,374.1L660.8,376.3M660.8,376.3L658.7,375.5M658.7,375.5L657.2,374.0M660.8,376.3L659.9,378.2M659.9,378.2L659.3,380.3M659.3,380.3L657.7,381.9M661.4,374.1L661.6,375.6M661.6,375.6L663.5,377.6M663.5,377.6L661.4,378.2M661.4,378.2L659.3,377.6M659.3,377.6L658.6,375.5M661.4,378.2L659.4,379.1M659.4,379.1L657.2,379.3M657.2,379.3L657.3,377.1M657.3,377.1L657.0,374.9M657.0,374.9L659.2,375.3M663.5,377.6L664.6,379.3M664.6,379.3L664.6,382.1M664.6,382.1L665.8,384.0M665.8,384.0L666.5,386.2M666.5,386.2L666.1,388.4M666.1,388.4L667.4,390.1M667.4,390.1L668.5,392.0M666.1,388.4L666.5,390.5M666.5,390.5L667.3,392.5M666.5,386.2L667.7,387.3M667.7,387.3L667.3,389.5M667.3,389.5L666.9,391.6M666.9,391.6L668.4,393.2M668.4,393.2L670.1,391.8M668.4,393.2L669.8,394.9M666.9,391.6L666.8,393.8M666.8,393.8L668.7,395.0M666.8,393.8L666.1,395.9M668.0,388.0L669.7,389.7M669.7,389.7L669.6,392.0M669.6,392.0L667.4,391.9M667.4,391.9L665.5,390.8M665.5,390.8L663.4,391.6M665.5,390.8L663.7,389.5M669.6,392.0L671.1,393.2M671.1,393.2L672.3,395.3M672.3,395.3L673.5,393.4M673.5,393.4L674.9,391.8M672.3,395.3L673.2,397.9M673.2,397.9L674.2,399.9M674.2,399.9L676.4,399.8M676.4,399.8L678.6,399.5M678.6,399.5L680.1,401.1M680.1,401.1L681.6,402.7M678.6,399.5L680.6,398.7M680.6,398.7L680.7,396.5M680.7,396.5L680.7,394.3M675.0,400.0L677.6,401.1M677.6,401.1L677.9,403.3M677.9,403.3L680.0,403.8M677.9,403.3L677.6,405.5M677.6,401.1L678.3,403.6M678.3,403.6L676.9,405.3M676.9,405.3L675.0,406.4M678.3,403.6L679.8,404.3M679.8,404.3L678.3,405.9M678.3,405.9L676.2,406.7M676.2,406.7L674.0,407.1M674.0,407.1L671.9,407.5M679.8,404.3L682.3,405.8M682.3,405.8L681.8,407.9M681.8,407.9L682.1,410.1M682.1,410.1L680.3,411.3M682.3,405.8L683.8,407.9M695.0,372.0L696.2,373.4M696.2,373.4L697.5,371.6M697.5,371.6L695.8,370.2M697.5,371.6L699.3,370.4M696.2,373.4L698.5,375.6M698.5,375.6L700.5,374.7M700.5,374.7L701.4,376.7M701.4,376.7L699.3,377.1M701.4,376.7L701.3,378.9M700.5,374.7L702.0,373.1M702.0,373.1L703.3,371.3M703.3,371.3L701.4,370.2M701.4,370.2L699.2,370.1M703.3,371.3L705.1,370.2M698.5,375.6L699.3,378.3M699.3,378.3L700.0,380.0M700.0,380.0L698.3,381.4M698.3,381.4L697.6,383.5M697.6,383.5L698.7,385.4M697.6,383.5L696.8,385.6M696.8,385.6L694.6,385.9M694.6,385.9L692.7,387.0M700.0,380.0L702.3,381.2M702.3,381.2L703.9,382.6M703.9,382.6L704.7,385.6M705.0,385.0L706.3,386.2M706.3,386.2L706.2,388.4M706.2,388.4L704.2,387.3M706.2,388.4L705.3,390.4M705.3,390.4L704.2,392.3M704.2,392.3L702.2,391.5M702.2,391.5L700.4,390.2M700.4,390.2L700.0,388.0M704.2,392.3L703.1,394.2M706.3,386.2L709.5,388.4M709.5,388.4L710.9,389.6M710.9,389.6L712.4,388.0M712.4,388.0L713.1,386.0M710.9,389.6L713.0,390.2M713.0,390.2L712.4,392.3M712.4,392.3L711.2,394.2M711.2,394.2L709.5,395.6M709.5,395.6L707.7,396.9M713.0,390.2L714.7,392.9M714.7,392.9L716.3,393.9M716.3,393.9L714.6,395.3M714.6,395.3L712.6,394.5M714.6,395.3L713.4,397.2M713.4,397.2L711.4,398.0M711.4,398.0L712.2,400.0M716.3,393.9L718.7,394.9M718.0,395.0L719.5,396.0M719.5,396.0L719.0,398.1M719.0,398.1L716.8,398.1M716.8,398.1L717.5,400.2M719.0,398.1L718.1,400.1M718.1,400.1L720.2,400.9M720.2,400.9L721.2,399.0M719.5,396.0L722.5,396.7M722.5,396.7L720.6,397.8M720.6,397.8L718.5,398.3M718.5,398.3L716.7,399.6M716.7,399.6L716.0,401.7M716.0,401.7L716.8,403.8M716.0,401.7L714.8,403.5M716.7,399.6L715.2,401.3M715.2,401.3L713.3,400.4M713.3,400.4L713.2,398.2M713.3,400.4L711.1,399.9M722.5,396.7L724.4,399.1M724.4,399.1L723.1,400.9M723.1,400.9L721.9,402.7M721.9,402.7L724.1,403.1M724.1,403.1L725.0,405.0M721.9,402.7L720.6,404.5M724.4,399.1L725.9,399.8M725.9,399.8L727.9,399.0M727.9,399.0L730.1,398.9M725.9,399.8L728.7,400.1M728.7,400.1L729.3,398.0M729.3,398.0L729.1,395.8M729.1,395.8L729.7,393.7M729.7,393.7L730.5,391.7M728.7,400.1L730.5,401.2M730.0,402.0L731.6,402.7M731.6,402.7L734.5,404.7M734.5,404.7L733.2,406.5M733.2,406.5L731.3,407.7M731.3,407.7L729.2,407.9M729.2,407.9L727.5,406.5M727.5,406.5L726.4,404.6M734.5,404.7L736.1,404.2M736.1,404.2L737.2,402.3M737.2,402.3L739.2,403.2M737.2,402.3L739.0,401.1M736.1,404.2L738.0,406.1M738.0,406.1L737.8,403.9M737.8,403.9L736.7,402.0M738.0,406.1L740.8,407.5M740.8,407.5L741.6,407.6M741.6,407.6L741.4,409.8M741.4,409.8L740.6,411.8M700.0,330.0L702.4,332.0M702.4,332.0L704.2,332.7M704.2,332.7L702.4,333.9M702.4,333.9L703.7,335.7M703.7,335.7L702.4,337.4M702.4,333.9L700.9,335.5M704.2,332.7L706.7,334.6M706.7,334.6L708.7,337.0M708.7,337.0L706.7,337.9M706.7,337.9L707.4,340.0M707.4,340.0L709.5,340.5M706.7,337.9L705.0,339.3M708.7,337.0L710.1,337.3M710.0,338.0L712.3,339.4M712.3,339.4L710.4,340.4M710.4,340.4L708.2,340.6M708.2,340.6L707.0,342.4M710.4,340.4L709.0,342.1M712.3,339.4L713.3,340.6M713.3,340.6L714.5,338.8M714.5,338.8L715.5,336.8M715.5,336.8L713.3,336.4M715.5,336.8L717.4,335.7M713.3,340.6L716.3,342.0M716.3,342.0L718.2,341.0M718.2,341.0L719.4,339.2M719.4,339.2L721.2,337.9M716.3,342.0L717.9,343.2M717.9,343.2L720.0,342.7M720.0,342.7L720.8,344.8M720.0,342.7L722.2,342.7M717.9,343.2L719.2,344.4M719.2,344.4L720.8,342.9M720.8,342.9L721.9,340.9M721.9,340.9L720.7,339.1M719.2,344.4L721.7,344.7M721.7,344.7L721.7,342.5M721.7,342.5L721.6,340.3M735.0,330.0L736.7,331.4M736.7,331.4L737.8,333.3M737.8,333.3L735.6,333.8M735.6,333.8L733.5,333.1M737.8,333.3L738.6,336.6M738.6,336.6L737.1,338.2M737.1,338.2L736.3,340.2M738.6,336.6L740.8,338.5M740.8,338.5L739.0,339.9M739.0,339.9L737.4,341.4M737.4,341.4L735.4,342.1M735.4,342.1L733.8,340.6M740.8,338.5L741.4,339.5M741.4,339.5L741.6,341.7M741.6,341.7L743.0,343.4M742.0,340.0L743.2,341.5M743.2,341.5L743.9,344.7M743.9,344.7L746.1,344.6M746.1,344.6L746.5,342.4M746.1,344.6L747.9,343.4M743.9,344.7L744.2,346.3M744.2,346.3L745.2,348.7M745.2,348.7L747.5,350.4M747.5,350.4L749.5,349.3M749.5,349.3L750.1,347.2M750.1,347.2L750.6,345.1M749.5,349.3L751.5,348.4M751.5,348.4L753.7,348.4M747.5,350.4L747.7,352.6M747.7,352.6L748.4,350.5M748.4,350.5L748.1,348.4M748.1,348.4L748.6,346.2M840.0,375.0L842.5,376.0M842.5,376.0L843.7,374.2M843.7,374.2L844.7,372.2M844.7,372.2L846.8,372.9M844.7,372.2L846.6,371.0M842.5,376.0L843.5,378.2M843.5,378.2L846.2,379.0M846.2,379.0L847.9,377.6M847.9,377.6L848.7,375.6M846.2,379.0L847.4,382.2M847.4,382.2L846.6,384.2M846.6,384.2L845.2,386.0M845.2,386.0L843.3,387.0M843.3,387.0L841.9,385.3M847.4,382.2L849.3,382.4M849.3,382.4L850.1,380.3M850.1,380.3L849.7,378.1M849.7,378.1L847.8,379.1M847.8,379.1L845.9,380.3M845.9,380.3L846.9,382.2M849.7,378.1L850.6,376.1M850.0,383.0L853.1,382.3M853.1,382.3L854.3,381.4M854.3,381.4L854.8,383.5M854.8,383.5L856.1,385.3M856.1,385.3L856.9,387.3M854.3,381.4L857.8,380.7M857.8,380.7L858.8,382.6M858.8,382.6L859.5,384.7M859.5,384.7L860.9,386.4M860.9,386.4L859.3,387.9M857.8,380.7L859.6,379.8M859.6,379.8L859.7,382.0M859.7,382.0L860.7,384.0M859.6,379.8L862.1,379.4M862.1,379.4L861.3,377.3M861.3,377.3L859.4,376.2M859.4,376.2L857.9,377.9M861.3,377.3L861.3,375.1M861.3,375.1L862.2,373.1M862.0,380.0L864.7,378.6M864.7,378.6L866.3,377.6M866.3,377.6L865.0,375.8M865.0,375.8L863.1,374.7M863.1,374.7L860.9,374.4M866.3,377.6L868.3,377.8M868.3,377.8L867.9,375.6M867.9,375.6L867.9,373.4M867.9,373.4L865.9,372.6M865.9,372.6L864.2,374.0M868.3,377.8L869.4,375.8M790.0,380.0L791.3,382.5M791.3,382.5L789.2,382.9M789.2,382.9L787.3,384.1M787.3,384.1L785.1,384.4M791.3,382.5L793.5,382.7M793.5,382.7L795.6,381.9M795.6,381.9L797.3,383.3M795.6,381.9L797.5,380.9M797.5,380.9L799.7,380.4M793.5,382.7L795.1,385.6M795.1,385.6L793.3,386.9M793.3,386.9L791.4,387.9M791.4,387.9L789.2,387.5M795.1,385.6L796.3,386.8M796.3,386.8L797.1,388.2M797.1,388.2L798.3,386.4M798.3,386.4L798.7,384.2M798.7,384.2L798.7,382.0M797.1,388.2L798.7,390.8M798.7,390.8L799.7,388.8M799.7,388.8L801.8,388.2M799.7,388.8L800.8,386.9M798.7,390.8L799.6,392.3M800.0,392.0L800.4,394.8M800.4,394.8L802.6,395.7M802.6,395.7L801.3,397.4M801.3,397.4L802.3,399.4M801.3,397.4L799.3,398.3M799.3,398.3L798.3,400.3M798.3,400.3L797.4,402.3M799.3,398.3L797.1,398.7M797.1,398.7L796.6,400.8M796.6,400.8L795.4,402.7M802.6,395.7L803.0,398.6M803.0,398.6L801.2,400.0M801.2,400.0L799.3,401.0M799.3,401.0L798.3,399.0M799.3,401.0L797.3,402.0M797.3,402.0L795.6,400.6M795.6,400.6L794.6,398.7M803.0,398.6L803.7,399.4M803.7,399.4L805.7,400.1M805.7,400.1L807.7,401.1M807.7,401.1L809.0,402.9M809.0,402.9L811.2,402.9M803.7,399.4L804.7,402.5M804.7,402.5L806.7,404.8M806.7,404.8L804.7,405.8M804.7,405.8L803.4,407.6M803.4,407.6L805.6,408.0M675.0,355.0L677.1,355.7M677.1,355.7L678.9,356.0M678.9,356.0L680.8,357.3M680.8,357.3L681.2,355.1M681.2,355.1L681.0,352.9M681.0,352.9L679.1,351.8M679.1,351.8L677.0,351.5M681.0,352.9L681.5,350.8M681.5,350.8L680.2,349.1M680.2,349.1L681.0,347.0M680.2,349.1L678.2,348.2M678.2,348.2L678.4,350.4M681.5,350.8L682.7,348.9M680.8,357.3L683.8,358.6M683.8,358.6L685.4,358.0M685.4,358.0L684.9,355.9M684.9,355.9L683.1,354.6M683.1,354.6L684.7,353.1M683.1,354.6L681.0,354.4M684.9,355.9L684.7,353.7M684.7,353.7L684.5,351.5M684.5,351.5L682.9,350.1M682.9,350.1L684.7,348.9M684.5,351.5L684.5,349.3M684.5,349.3L686.7,349.2M686.7,349.2L688.7,350.2M685.4,358.0L687.7,359.3M687.7,359.3L687.4,361.5M687.4,361.5L685.2,360.9M685.2,360.9L685.5,358.7M687.4,361.5L687.3,363.7M687.7,359.3L690.0,359.6M690.0,359.6L689.4,361.7M689.4,361.7L691.1,363.2M691.1,363.2L693.1,364.1M693.1,364.1L692.5,366.2M689.4,361.7L688.6,363.8M688.6,363.8L690.6,364.7M690.6,364.7L692.7,365.5M688.6,363.8L687.4,365.6M687.4,365.6L687.3,367.8M690.0,359.6L691.9,359.9M691.9,359.9L694.6,361.0M694.6,361.0L696.3,361.2M697.0,362.0L699.1,362.2M699.1,362.2L699.4,364.4M699.4,364.4L699.8,366.6M699.8,366.6L698.3,368.2M699.8,366.6L699.7,368.8M699.7,368.8L700.7,370.8M700.7,370.8L700.6,373.0M699.1,362.2L701.2,364.0M701.2,364.0L702.3,362.1M702.3,362.1L704.1,363.5M704.1,363.5L702.3,364.8M702.3,362.1L704.1,360.9M704.1,360.9L705.5,359.1M705.5,359.1L704.9,357.0M704.9,357.0L704.3,354.9M704.3,354.9L702.1,354.8M701.2,364.0L703.3,364.0M703.3,364.0L703.1,366.2M703.1,366.2L702.4,368.3M702.4,368.3L704.2,369.6M702.4,368.3L701.7,370.4M701.7,370.4L700.0,371.7M703.3,364.0L705.9,365.4M705.9,365.4L708.4,365.7M708.4,365.7L710.2,364.5M710.2,364.5L709.8,362.3M710.2,364.5L711.8,363.0M711.8,363.0L712.5,360.9M708.4,365.7L710.1,366.7M710.1,366.7L713.3,366.0M713.3,366.0L715.1,367.7M715.1,367.7L717.9,368.2M717.9,368.2L718.9,366.3M718.9,366.3L720.7,367.5M720.7,367.5L721.7,369.5M718.9,366.3L720.2,364.5M720.2,364.5L722.0,363.3M722.0,363.3L721.7,361.1M721.7,361.1L719.5,361.2M721.7,361.1L721.4,359.0M717.9,368.2L720.4,368.3M720.4,368.3L720.2,366.1M720.2,366.1L720.5,363.9M720.5,363.9L722.7,364.0M720.5,363.9L720.9,361.7M720.9,361.7L719.2,360.3M720.0,368.5L723.0,367.5M723.0,367.5L723.9,367.7M723.9,367.7L726.6,367.2M726.6,367.2L728.6,368.2M728.6,368.2L727.9,370.3M727.9,370.3L726.9,372.2M726.9,372.2L726.7,374.4M728.6,368.2L730.7,367.8M730.7,367.8L732.9,367.8M732.9,367.8L733.1,365.6M733.1,365.6L735.0,364.4M733.1,365.6L733.5,363.4M733.5,363.4L734.1,361.3M732.9,367.8L735.7,367.5M735.7,367.5L734.2,365.9M734.2,365.9L732.2,365.0M732.2,365.0L730.0,365.2M735.7,367.5L737.0,366.1M737.0,366.1L737.9,368.1M737.9,368.1L739.2,369.9M739.2,369.9L741.0,371.1M741.0,371.1L741.2,373.3M737.0,366.1L739.3,367.0M739.3,367.0L741.5,366.1M741.5,366.1L742.7,367.9M742.7,367.9L743.7,369.9M743.7,369.9L744.4,372.0M742.0,366.0L743.6,365.2M743.6,365.2L744.1,363.0M744.1,363.0L741.9,362.6M741.9,362.6L740.0,361.6M744.1,363.0L743.6,360.9M743.6,360.9L745.6,360.0M745.6,360.0L747.0,358.4M743.6,360.9L744.1,358.8M744.1,358.8L744.9,356.7M744.9,356.7L742.8,356.2M742.8,356.2L740.6,356.3M740.6,356.3L740.0,358.4M743.6,365.2L746.4,366.3M746.4,366.3L745.0,364.6M745.0,364.6L744.4,362.5M746.4,366.3L749.1,365.3M749.1,365.3L748.1,363.3M748.1,363.3L749.5,361.6M749.5,361.6L750.5,359.6M748.1,363.3L746.6,361.7M746.6,361.7L745.2,360.0M745.2,360.0L743.0,359.8M743.0,359.8L740.8,359.8M749.1,365.3L750.7,364.5M750.7,364.5L752.1,362.8M752.1,362.8L752.7,360.6M750.7,364.5L754.2,364.8M754.2,364.8L755.7,364.8M755.7,364.8L756.4,366.9M756.4,366.9L756.4,369.1M756.4,369.1L757.5,371.0M757.5,371.0L758.5,373.0M758.5,373.0L760.2,371.5M760.2,371.5L761.3,369.6M755.7,364.8L757.5,364.7M757.5,364.7L758.5,362.7M758.5,362.7L758.4,360.5M758.4,360.5L758.2,358.3M758.2,358.3L760.4,358.0M760.4,358.0L761.5,359.9M760.4,358.0L762.6,358.2M758.2,358.3L757.6,356.2M757.5,364.7L760.2,365.0M760.2,365.0L763.1,364.4M763.1,364.4L761.9,362.5M761.9,362.5L761.1,360.5M761.1,360.5L761.1,358.3M761.1,358.3L760.7,356.1M763.1,364.4L765.2,364.1M765.0,364.0L766.5,362.5M766.5,362.5L765.0,360.8M765.0,360.8L763.0,360.0M766.5,362.5L769.9,363.2M769.9,363.2L771.0,361.5M771.0,361.5L773.4,360.9M773.4,360.9L773.0,358.7M773.0,358.7L773.3,356.5M773.4,360.9L776.0,359.6M776.0,359.6L775.1,357.6M775.1,357.6L776.5,355.8M775.1,357.6L774.2,355.6M774.2,355.6L775.1,353.6M774.2,355.6L773.7,353.5M776.0,359.6L778.8,359.5M778.8,359.5L779.0,361.7M779.0,361.7L780.3,363.4M780.3,363.4L782.5,363.5M779.0,361.7L780.1,363.6M780.1,363.6L779.1,365.6M779.1,365.6L779.4,367.8M780.1,363.6L780.4,365.8M778.8,359.5L780.8,359.4M780.8,359.4L781.2,357.2M781.2,357.2L783.3,356.8M781.2,357.2L782.4,355.4M782.4,355.4L784.5,354.7M784.5,354.7L784.2,352.5M780.8,359.4L782.7,358.6M782.7,358.6L785.0,358.0M785.0,358.0L785.8,355.9M785.8,355.9L787.8,354.9M787.8,354.9L790.0,355.2M785.8,355.9L787.2,354.2M785.0,358.0L786.8,356.5M786.8,356.5L785.5,354.7M785.5,354.7L784.4,356.6M784.4,356.6L782.3,356.9M785.5,354.7L785.0,352.6M785.0,352.6L784.8,350.4M784.8,350.4L786.7,349.2M786.7,349.2L786.1,347.1M786.7,349.2L787.8,347.4M787.8,347.4L789.2,349.0M786.8,356.5L789.2,356.4M789.2,356.4L792.0,354.5M792.0,354.5L791.3,356.6M791.3,356.6L793.2,357.7M791.3,356.6L789.8,358.1M693.0,332.0L695.3,333.3M695.3,333.3L696.7,334.1M696.7,334.1L698.8,333.6M698.8,333.6L700.4,332.1M700.4,332.1L701.6,330.2M696.7,334.1L699.0,335.9M699.0,335.9L701.0,338.1M701.0,338.1L702.6,339.0M702.6,339.0L704.2,340.0M704.2,340.0L705.8,341.0M705.8,341.0L708.7,343.0M708.7,343.0L710.0,344.1M710.0,344.0L711.3,345.1M711.3,345.1L713.8,346.4M713.8,346.4L713.4,348.6M713.4,348.6L713.3,350.8M713.3,350.8L711.2,350.4M713.8,346.4L716.6,347.0M716.6,347.0L715.3,348.8M715.3,348.8L713.7,350.3M716.6,347.0L718.9,349.2M718.9,349.2L721.2,350.5M721.2,350.5L722.0,348.4M722.0,348.4L724.2,348.5M724.2,348.5L726.1,349.6M724.2,348.5L726.4,348.9M726.4,348.9L728.2,347.7M722.0,348.4L723.4,346.7M723.4,346.7L723.8,344.6M721.2,350.5L722.7,351.5M722.7,351.5L720.8,352.6M720.8,352.6L718.6,353.0M718.6,353.0L717.6,355.0M717.6,355.0L716.1,356.6M716.1,356.6L714.0,355.8M718.6,353.0L716.8,354.3M716.8,354.3L714.8,355.2M722.7,351.5L724.4,353.2M724.4,353.2L727.0,353.0M727.0,353.0L726.9,355.2M726.9,355.2L725.2,356.6M726.9,355.2L728.0,357.1M728.0,357.1L726.0,358.0M726.0,358.0L723.8,357.8M723.8,357.8L723.5,360.0M728.0,357.1L728.9,359.1M728.9,359.1L730.4,360.8M727.0,353.0L728.4,354.8M728.4,354.8L729.8,353.1M729.8,353.1L730.2,351.0M730.2,351.0L728.1,350.5M729.0,355.0L732.1,354.5M732.1,354.5L733.9,354.8M733.9,354.8L733.7,357.0M733.7,357.0L733.5,359.2M733.5,359.2L733.2,361.4M733.2,361.4L735.0,362.7M735.0,362.7L737.1,363.2M733.2,361.4L732.4,363.5M733.9,354.8L735.3,354.6M735.3,354.6L738.3,352.9M738.3,352.9L737.3,350.9M737.3,350.9L738.5,349.1M738.5,349.1L740.2,350.4M737.3,350.9L735.7,349.4M738.3,352.9L741.4,353.1M741.4,353.1L743.5,352.7M743.5,352.7L743.6,354.9M743.6,354.9L743.9,357.1M743.9,357.1L744.5,359.2M743.5,352.7L744.8,352.0M744.8,352.0L744.9,349.8M744.9,349.8L744.4,347.6M744.4,347.6L742.5,346.5M744.4,347.6L744.8,345.5M744.8,345.5L746.2,343.8M744.8,352.0L746.9,351.9M746.9,351.9L746.9,354.1M746.9,354.1L746.3,356.2M746.3,356.2L748.4,356.9M746.3,356.2L746.7,358.4M746.7,358.4L748.9,358.4M748.9,358.4L749.8,356.4M748.9,358.4L751.0,359.2M751.0,359.2L751.8,357.1M746.9,351.9L749.3,351.4M750.0,352.0L752.5,352.1M752.5,352.1L752.2,354.3M752.2,354.3L754.4,354.7M754.4,354.7L756.0,353.3M752.2,354.3L751.4,356.3M751.4,356.3L749.3,355.7M751.4,356.3L750.2,358.1M750.2,358.1L748.1,359.0M752.5,352.1L754.5,351.3M754.5,351.3L755.3,353.4M755.3,353.4L754.7,355.5M754.7,355.5L756.9,355.4M754.7,355.5L753.1,357.1M755.3,353.4L755.6,355.6M755.6,355.6L756.9,357.4M756.9,357.4L758.3,359.0M754.5,351.3L757.8,351.4M757.8,351.4L760.4,350.1M760.4,350.1L762.6,350.5M762.6,350.5L763.7,348.6M763.7,348.6L765.5,347.3M765.5,347.3L767.0,345.7M767.0,345.7L769.1,345.1M769.1,345.1L770.0,343.0M770.0,343.0L771.7,344.4M770.0,343.0L771.6,341.6M762.6,350.5L765.7,350.2M765.0,350.0L767.1,349.0M767.1,349.0L768.5,348.6M768.5,348.6L767.8,350.7M767.8,350.7L766.8,352.6M766.8,352.6L764.7,351.9M764.7,351.9L764.4,349.8M766.8,352.6L765.7,354.6M765.7,354.6L767.2,356.2M768.5,348.6L771.8,346.3M771.8,346.3L770.0,345.0M770.0,345.0L767.9,344.2M767.9,344.2L766.4,342.6M766.4,342.6L764.7,343.9M771.8,346.3L772.8,346.1M772.8,346.1L774.0,348.0M774.0,348.0L775.6,349.5M772.8,346.1L774.2,344.3M774.2,344.3L776.6,343.6M776.6,343.6L779.7,342.7M779.7,342.7L780.4,342.6M780.4,342.6L782.4,340.8M639.0,247.0L641.2,248.0M641.2,248.0L642.4,249.6M642.4,249.6L641.3,251.5M641.3,251.5L640.0,253.2M642.4,249.6L642.8,252.1M642.8,252.1L644.4,254.2M644.4,254.2L646.5,255.2M646.5,255.2L644.7,256.6M644.7,256.6L642.6,257.0M642.6,257.0L640.4,257.2M646.5,255.2L648.0,257.5M648.0,257.5L649.7,258.7M649.7,258.7L648.9,260.7M648.9,260.7L648.7,262.9M648.7,262.9L649.3,265.0M649.3,265.0L649.9,267.1M649.7,258.7L650.6,259.8M650.6,259.8L651.8,262.7M652.0,262.0L653.3,264.2M653.3,264.2L652.2,266.1M652.2,266.1L652.2,268.3M652.2,268.3L650.1,268.8M650.1,268.8L648.1,269.9M652.2,268.3L652.8,270.4M652.8,270.4L654.7,269.4M654.7,269.4L656.5,268.1M653.3,264.2L655.0,265.5M655.0,265.5L653.7,267.3M653.7,267.3L651.5,267.5M651.5,267.5L651.1,269.7M653.7,267.3L652.3,269.0M652.3,269.0L650.7,270.6M650.7,270.6L649.4,268.8M649.4,268.8L647.5,269.9M655.0,265.5L657.1,267.8M657.1,267.8L656.9,270.0M656.9,270.0L657.7,272.0M657.7,272.0L657.5,274.2M657.1,267.8L658.7,268.4M658.7,268.4L660.7,267.5M660.7,267.5L662.8,266.9M662.8,266.9L664.1,265.0M664.1,265.0L666.0,264.0M662.8,266.9L664.6,265.6M664.6,265.6L665.2,263.5M658.7,268.4L659.3,270.2M659.3,270.2L662.0,271.9M662.0,271.9L662.3,274.6M662.3,274.6L664.3,273.8M664.3,273.8L666.4,273.1M666.4,273.1L668.6,273.2M668.6,273.2L670.6,272.4M662.3,274.6L663.7,276.9M663.7,276.9L666.3,278.7M666.0,278.0L667.8,279.9M667.8,279.9L669.5,278.6M669.5,278.6L670.1,276.5M669.5,278.6L671.6,277.8M671.6,277.8L673.6,276.9M667.8,279.9L668.7,281.3M668.7,281.3L670.8,283.0M670.8,283.0L671.1,284.3M671.1,284.3L673.4,286.6M673.4,286.6L674.7,288.3M674.7,288.3L676.2,289.8M676.2,289.8L677.0,291.8M677.0,291.8L678.1,289.9M678.1,289.9L679.6,288.3M679.6,288.3L680.9,286.5M677.0,291.8L677.7,293.3M677.7,293.3L676.1,294.8M676.1,294.8L676.4,297.0M676.1,294.8L674.3,296.2M674.3,296.2L673.1,298.0M677.7,293.3L680.3,295.1M680.3,295.1L681.1,296.9M681.1,296.9L678.9,296.7M678.9,296.7L676.7,296.7M676.7,296.7L674.6,296.1M674.6,296.1L673.6,298.0M673.6,298.0L672.7,300.0M674.6,296.1L673.0,294.6M681.1,296.9L682.7,299.2M682.7,299.2L683.6,300.7M683.6,300.7L682.6,302.6M682.6,302.6L681.8,304.7M681.8,304.7L679.6,304.7M679.6,304.7L679.1,302.5M679.6,304.7L677.6,303.7M677.6,303.7L676.0,305.1M681.8,304.7L680.6,306.5M680.6,306.5L678.9,307.9M678.9,307.9L678.0,309.9M684.0,301.0L685.3,303.3M685.3,303.3L686.3,305.4M686.3,305.4L688.4,304.6M688.4,304.6L690.6,305.0M690.6,305.0L691.5,307.0M691.5,307.0L690.7,309.1M690.6,305.0L692.7,305.6M692.7,305.6L694.0,307.3M686.3,305.4L687.5,307.1M687.5,307.1L688.5,308.0M688.5,308.0L687.3,309.8M687.3,309.8L685.8,311.4M688.5,308.0L689.7,311.0M689.7,311.0L691.7,312.0M691.7,312.0L689.8,313.2M689.8,313.2L687.7,313.9M687.7,313.9L686.4,312.1M686.4,312.1L684.2,312.1M687.7,313.9L685.8,315.0M691.7,312.0L692.6,315.0M692.6,315.0L694.7,314.8M694.7,314.8L696.9,315.3M696.9,315.3L698.0,317.2M696.9,315.3L698.7,316.6M698.7,316.6L700.6,317.6M692.6,315.0L693.7,317.2M693.7,317.2L696.3,317.8M696.3,317.8L694.2,318.5M694.2,318.5L692.9,316.7M694.2,318.5L692.0,318.7M696.3,317.8L696.2,320.8M696.2,320.8L698.1,322.3M698.1,322.3L699.4,324.1M699.4,324.1L698.2,325.9M698.2,325.9L697.3,327.9M697.3,327.9L695.5,329.3M695.5,329.3L694.0,330.8M699.4,324.1L700.6,326.2M700.6,326.2L698.4,326.0M698.4,326.0L696.7,324.7M700.6,326.2L702.4,328.4M702.4,328.4L704.2,327.2M704.2,327.2L706.2,326.3M706.2,326.3L708.4,326.4M700.0,380.0L702.2,381.6M702.2,381.6L702.5,379.4M702.5,379.4L702.5,377.2M702.5,377.2L702.6,375.0M702.2,381.6L703.1,383.7M703.1,383.7L702.4,385.8M702.4,385.8L700.5,384.7M702.4,385.8L701.0,387.4M701.0,387.4L698.9,388.1M703.1,383.7L705.5,385.7M705.5,385.7L705.3,387.9M705.3,387.9L706.6,389.6M705.3,387.9L705.0,390.0M705.0,390.0L705.5,392.2M705.5,385.7L707.5,387.3M707.5,387.3L708.0,388.6M708.0,388.6L710.7,390.5M710.7,390.5L712.4,392.3M712.4,392.3L713.7,390.5M713.7,390.5L714.6,388.5M712.0,392.0L714.6,393.1M714.6,393.1L716.2,391.6M716.2,391.6L718.3,391.0M718.3,391.0L718.3,393.2M718.3,391.0L720.5,390.6M720.5,390.6L721.5,388.7M721.5,388.7L719.5,387.8M714.6,393.1L715.7,394.3M715.7,394.3L719.2,395.5M719.2,395.5L718.4,397.5M718.4,397.5L718.1,399.7M719.2,395.5L720.7,396.7M720.7,396.7L722.5,398.4M722.5,398.4L723.4,396.4M723.4,396.4L721.2,396.7M723.4,396.4L725.2,395.0M722.5,398.4L724.7,400.0M725.0,400.0L727.9,401.4M727.9,401.4L729.9,401.5M729.9,401.5L731.2,401.9M731.2,401.9L734.2,402.2M734.2,402.2L736.1,403.8M736.1,403.8L736.0,401.6M736.0,401.6L735.1,399.6M735.1,399.6L734.7,397.4M734.7,397.4L732.8,396.3M732.8,396.3L731.6,394.5M731.6,394.5L733.5,393.4M736.1,403.8L737.8,404.7M737.8,404.7L740.4,405.3M820.0,340.0L821.5,341.5M821.5,341.5L822.5,344.8M822.5,344.8L820.5,345.7M820.5,345.7L818.3,345.6M818.3,345.6L819.4,343.7M819.4,343.7L817.7,342.3M822.5,344.8L823.9,346.8M823.9,346.8L823.6,349.0M823.6,349.0L822.3,350.7M822.3,350.7L820.4,349.7M822.3,350.7L821.7,352.8M821.7,352.8L822.8,354.7M822.8,354.7L824.2,353.1M823.9,346.8L825.1,347.5M825.1,347.5L826.2,349.2M826.2,349.2L827.3,347.3M827.3,347.3L829.0,345.9M826.2,349.2L827.8,352.5M827.8,352.5L825.6,352.4M825.6,352.4L826.4,350.4M826.4,350.4L828.2,351.6M826.4,350.4L827.3,348.4M827.3,348.4L829.3,349.3M825.6,352.4L823.6,351.5M823.6,351.5L821.4,351.2M821.4,351.2L821.3,353.4M821.3,353.4L823.4,352.8M821.3,353.4L821.5,355.6M821.5,355.6L823.7,355.6M828.0,352.0L828.9,354.6M828.9,354.6L831.0,354.0M831.0,354.0L833.1,354.6M828.9,354.6L831.9,356.7M831.9,356.7L832.5,354.6M832.5,354.6L833.7,352.7M833.7,352.7L833.1,350.6M833.1,350.6L835.2,349.9M833.7,352.7L834.8,350.8M834.8,350.8L836.8,351.6M831.9,356.7L832.1,358.8M832.1,358.8L834.1,358.0M834.1,358.0L836.3,358.0M836.3,358.0L836.3,355.8M836.3,355.8L836.5,353.7M836.3,358.0L838.5,358.3M832.1,358.8L833.7,360.5M833.7,360.5L836.0,362.7M836.0,362.7L836.6,360.5M836.6,360.5L838.6,359.6M836.6,360.5L837.9,358.8M837.9,358.8L839.7,357.5M575.0,245.0L574.6,247.9M574.6,247.9L574.2,248.7M574.2,248.7L572.8,250.9M572.8,250.9L572.5,254.1M572.5,254.1L572.0,256.5M572.0,256.5L572.3,258.8M572.0,258.0L572.8,260.9M572.8,260.9L573.9,262.1M573.9,262.1L576.1,261.9M576.1,261.9L577.8,263.3M576.1,261.9L578.3,262.1M578.3,262.1L579.7,260.4M573.9,262.1L573.9,265.2M573.9,265.2L575.4,267.2M575.4,267.2L577.6,267.5M577.6,267.5L579.3,268.8M579.3,268.8L580.6,270.6M575.4,267.2L575.8,270.0M575.8,270.0L573.8,270.9M573.8,270.9L572.3,269.3M572.3,269.3L573.2,267.3M573.8,270.9L572.3,272.5M610.0,250.0L610.2,253.0M610.2,253.0L611.8,251.5M611.8,251.5L613.0,249.7M613.0,249.7L612.3,247.6M610.2,253.0L611.1,254.7M611.1,254.7L611.9,257.0M611.9,257.0L614.0,258.8M614.0,258.8L613.9,262.0" fill="none" stroke="#f6f6f6" stroke-width="1.35" stroke-linecap="round"/></g>
<path d="M466.0,271.5 C469.6,269.3 506.0,258.0 512.0,256.0 C518.0,254.0 534.1,248.3 538.0,247.0 C541.9,245.7 555.8,241.1 559.0,240.4 C562.2,239.7 574.0,238.5 577.0,238.3 C580.0,238.1 591.8,238.0 595.0,238.3 C598.2,238.6 612.1,240.9 616.0,241.7 C619.9,242.5 637.7,246.1 642.0,247.5 C646.3,248.9 663.7,256.6 668.0,258.6 C672.3,260.6 688.1,268.8 694.0,271.6 C699.9,274.4 731.0,288.4 739.0,292.0 C747.0,295.6 782.2,311.4 790.0,315.0 C797.8,318.6 827.4,333.2 832.0,335.5 C836.6,337.8 842.5,341.2 845.0,343.0 C847.5,344.8 859.2,354.7 862.0,357.0 C864.8,359.3 878.3,368.5 879.0,371.0 C879.7,373.5 872.2,384.0 870.0,387.0 C867.8,390.0 855.5,404.9 853.0,407.0 C850.5,409.1 842.6,411.4 840.0,412.0 C837.4,412.6 827.8,414.3 822.0,414.5 C816.2,414.7 780.2,414.7 770.0,414.5 C759.8,414.3 708.3,413.6 700.0,412.5 C691.7,411.4 675.0,403.1 670.0,401.0 C665.0,398.9 645.6,390.2 640.0,387.0 C634.4,383.8 608.2,365.5 603.0,362.0 C597.8,358.5 582.4,348.0 577.0,345.0 C571.6,342.0 544.5,329.1 538.0,326.0 C531.5,322.9 504.2,310.6 499.0,308.0 C493.8,305.4 478.5,297.2 476.0,295.0 C473.5,292.8 469.8,284.0 469.0,282.0 C468.2,280.0 462.4,273.7 466.0,271.5 Z" fill="none" stroke="#000" stroke-width="2.6" stroke-linejoin="round"/>
<path d="M466,271.5 L880,372" stroke="#000" stroke-width="2.9" stroke-dasharray="7.4 6.2"/>
<path d="M454.3,271.5L478.3,271.5 M457.8,263.0L474.8,280.0 M466.3,259.5L466.3,283.5 M474.8,263.0L457.8,280.0" stroke="#000" stroke-width="2.2"/>
<path d="M868.0,372.0L892.0,372.0 M871.5,363.5L888.5,380.5 M880.0,360.0L880.0,384.0 M888.5,363.5L871.5,380.5" stroke="#000" stroke-width="2.2"/>
<text x="907" y="72.6" style="font-size:29px">(a)</text>
</g>
<rect x="172.0" y="28.7" width="118.5" height="3.400000000000002" fill="#000"/>
<rect x="409.0" y="28.7" width="119.0" height="3.400000000000002" fill="#000"/>
<rect x="646.5" y="28.7" width="118.5" height="3.400000000000002" fill="#000"/>
<rect x="884.0" y="28.7" width="71.60000000000002" height="3.400000000000002" fill="#000"/>
<rect x="172.0" y="497.9" width="118.5" height="3.3000000000000114" fill="#000"/>
<rect x="409.0" y="497.9" width="119.0" height="3.3000000000000114" fill="#000"/>
<rect x="646.5" y="497.9" width="118.5" height="3.3000000000000114" fill="#000"/>
<rect x="884.0" y="497.9" width="68.60000000000002" height="3.3000000000000114" fill="#000"/>
<rect x="40.5" y="94.0" width="3.299999999999997" height="114.0" fill="#000"/>
<rect x="952.6" y="94.0" width="3.0" height="114.0" fill="#000"/>
<rect x="40.5" y="322.0" width="3.299999999999997" height="114.0" fill="#000"/>
<rect x="952.6" y="322.0" width="3.0" height="114.0" fill="#000"/>
<rect x="40.5" y="28.7" width="915.1" height="472.5" fill="none" stroke="#8a8a8a" stroke-width="0.9"/>
<rect x="43.8" y="32.1" width="908.8000000000001" height="465.79999999999995" fill="none" stroke="#8a8a8a" stroke-width="0.9"/>
<text x="172.0" y="23" text-anchor="middle">-60</text>
<text x="172.0" y="524.8" text-anchor="middle">-60</text>
<text x="290.5" y="23" text-anchor="middle">-58</text>
<text x="290.5" y="524.8" text-anchor="middle">-58</text>
<text x="409.0" y="23" text-anchor="middle">-56</text>
<text x="409.0" y="524.8" text-anchor="middle">-56</text>
<text x="528.0" y="23" text-anchor="middle">-54</text>
<text x="528.0" y="524.8" text-anchor="middle">-54</text>
<text x="646.5" y="23" text-anchor="middle">-52</text>
<text x="646.5" y="524.8" text-anchor="middle">-52</text>
<text x="765.0" y="23" text-anchor="middle">-50</text>
<text x="765.0" y="524.8" text-anchor="middle">-50</text>
<text x="884.0" y="23" text-anchor="middle">-48</text>
<text x="884.0" y="524.8" text-anchor="middle">-48</text>
<text transform="translate(35 94.0) rotate(-90)" text-anchor="middle">-24</text>
<text transform="translate(961 94.0) rotate(90)" text-anchor="middle">-24</text>
<text transform="translate(35 208.0) rotate(-90)" text-anchor="middle">-26</text>
<text transform="translate(961 208.0) rotate(90)" text-anchor="middle">-26</text>
<text transform="translate(35 322.0) rotate(-90)" text-anchor="middle">-28</text>
<text transform="translate(961 322.0) rotate(90)" text-anchor="middle">-28</text>
<text transform="translate(35 436.0) rotate(-90)" text-anchor="middle">-30</text>
<text transform="translate(961 436.0) rotate(90)" text-anchor="middle">-30</text>
</svg>
</body></html>
